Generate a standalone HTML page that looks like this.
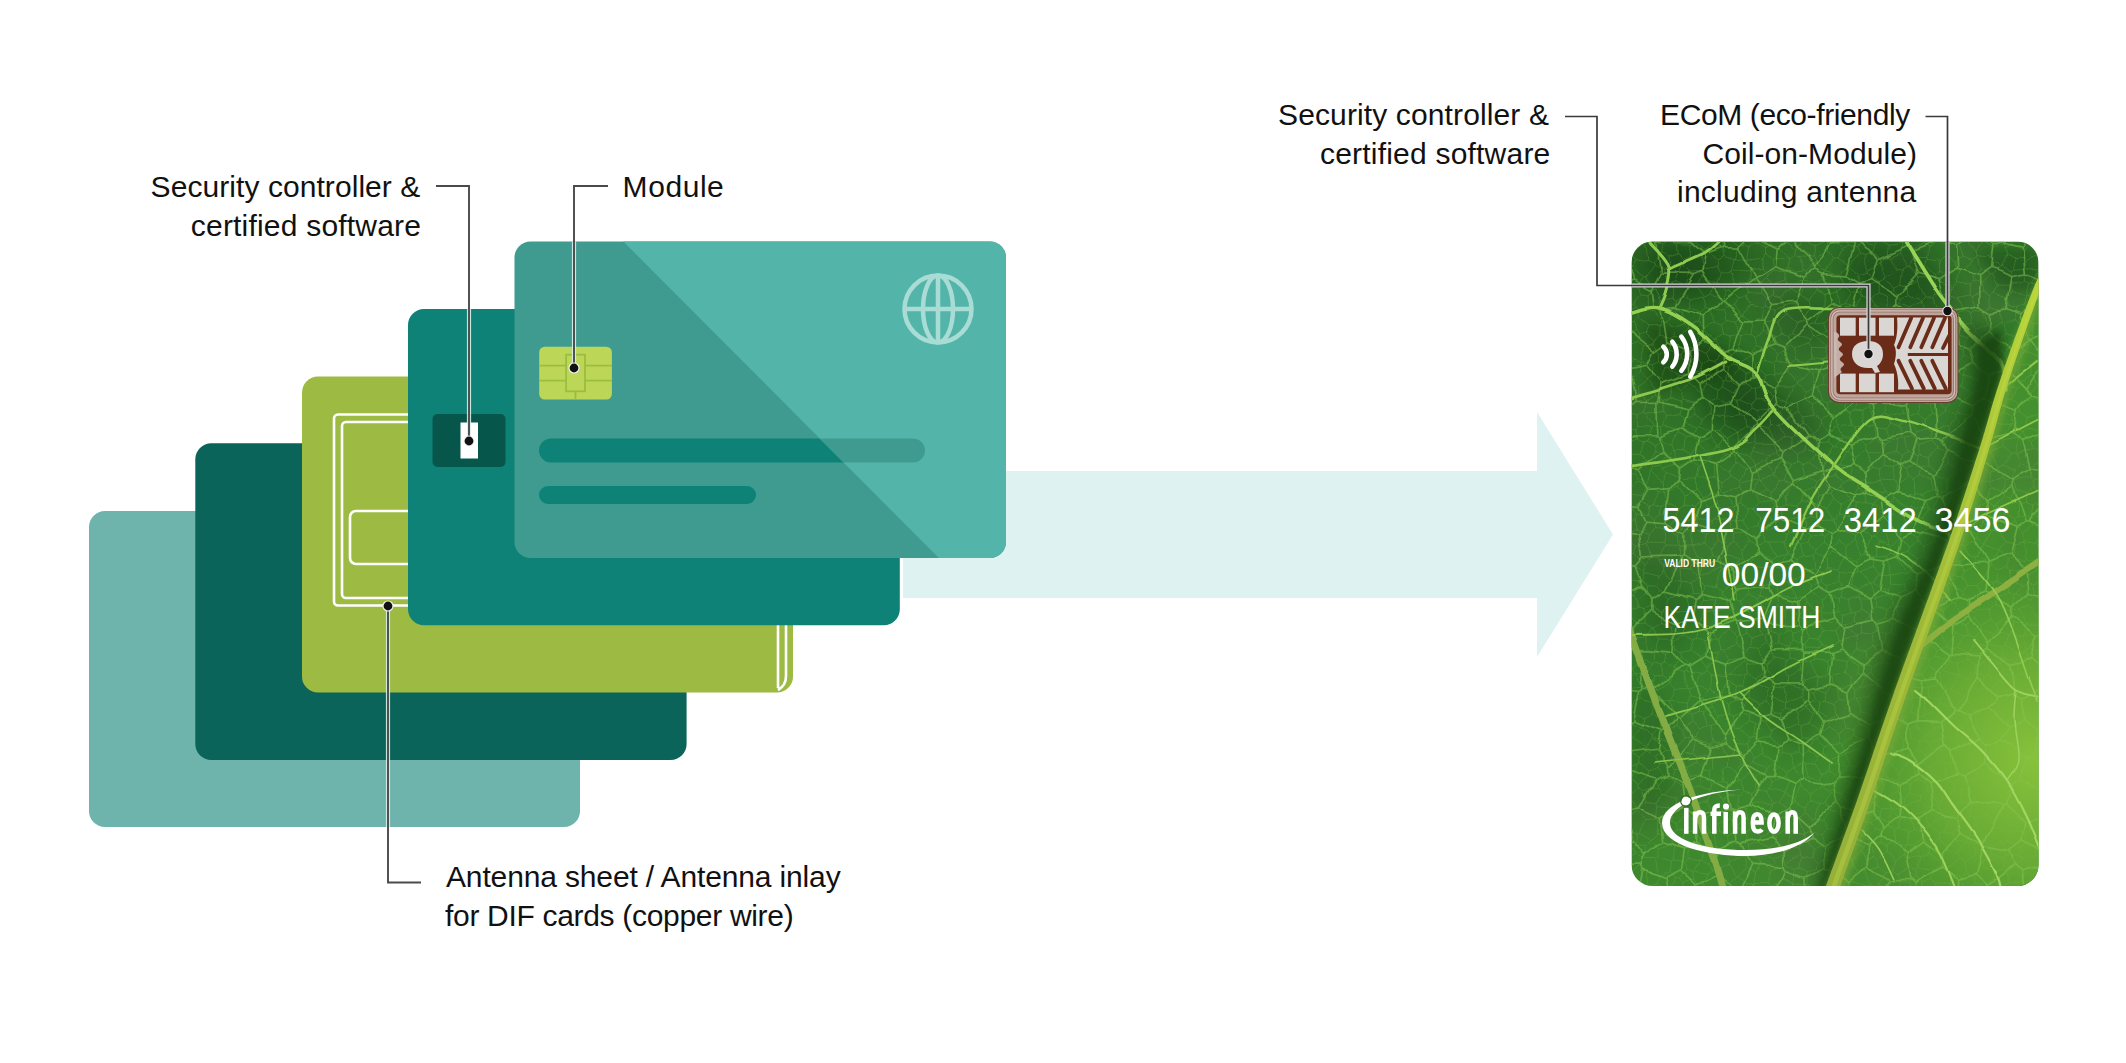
<!DOCTYPE html>
<html><head><meta charset="utf-8">
<style>
html,body{margin:0;padding:0;background:#fff;width:2126px;height:1063px;overflow:hidden}
.t{position:absolute;white-space:nowrap;font-family:"Liberation Sans",sans-serif;font-size:30px;line-height:30px;color:#111;letter-spacing:0px}
.r{text-align:right}
svg{position:absolute;left:0;top:0}
</style></head><body>
<svg width="2126" height="1063" viewBox="0 0 2126 1063">
<defs>
  <clipPath id="topclip"><polygon points="611.9,230 1030,230 1030,570 950.8,570"/></clipPath>
</defs>
<!-- arrow -->
<polygon points="903,471 1537,471 1537,412 1613,534.5 1537,657 1537,598 903,598" fill="#ddf2f1"/>
<!-- card 1 -->
<rect x="89" y="511" width="491" height="316" rx="16" fill="#6eb3ac"/>
<!-- card 2 -->
<rect x="195.3" y="443.3" width="491.3" height="316.7" rx="16" fill="#0a645a"/>
<!-- card 3 green -->
<rect x="302" y="376.5" width="491" height="316" rx="16" fill="#9dba43"/>
<g fill="none" stroke="#fff" stroke-width="2.6">
  <path d="M786,625 V676 a16,16 0 0 1 -8,14"/>
  <path d="M778,625 V688"/>
  <path d="M420,414.5 H338 a4,4 0 0 0 -4,4 V601.5 a4,4 0 0 0 4,4 H420"/>
  <path d="M420,422 H346 a4,4 0 0 0 -4,4 V594 a4,4 0 0 0 4,4 H420"/>
  <path d="M420,511 H356 a6,6 0 0 0 -6,6 V558 a6,6 0 0 0 6,6 H420"/>
</g>
<!-- card 4 teal -->
<rect x="408" y="309" width="491.8" height="316.2" rx="16" fill="#0e8276"/>
<rect x="432.5" y="414" width="73" height="53" rx="5" fill="#07564c"/>
<rect x="460.5" y="422.5" width="17.5" height="36" fill="#fff"/>
<!-- card 5 top -->
<rect x="514.5" y="241.5" width="491.5" height="316.4" rx="16" fill="#3f9b90"/>
<rect x="539" y="438.5" width="386" height="24" rx="12" fill="#0e8276"/>
<rect x="539" y="486" width="217" height="18" rx="9" fill="#0e8276"/>
<g clip-path="url(#topclip)">
  <rect x="514.5" y="241.5" width="491.5" height="316.4" rx="16" fill="#53b5aa"/>
  <rect x="539" y="438.5" width="386" height="24" rx="12" fill="#3f9b90"/>
</g>
<g fill="none" stroke="#a9dcd5" stroke-width="4.5">
  <circle cx="938" cy="309" r="33.5"/>
  <ellipse cx="938" cy="309" rx="15" ry="33.5"/>
  <line x1="938" y1="275.5" x2="938" y2="342.5"/>
  <line x1="904.5" y1="309" x2="971.5" y2="309"/>
</g>
<!-- chip -->
<rect x="539.2" y="346.7" width="72.7" height="52.9" rx="5.5" fill="#bcd658"/>
<g fill="none" stroke="#9dbd3c" stroke-width="1.8">
  <path d="M539.2,365.7 H566.1 M585,365.7 H611.9 M539.2,380.6 H566.1 M585,380.6 H611.9 M575.5,391.3 V399.6"/>
  <rect x="566.1" y="354.7" width="18.9" height="36.6"/>
</g>
<!-- leader lines left -->
<g fill="none" stroke="#d9efeb" stroke-width="4.2" opacity="0.9">
  <path d="M469,309 V441"/>
  <path d="M574,241.5 V368"/>
  <path d="M388,606 V827"/>
</g>
<g fill="none" stroke="#4a4a4a" stroke-width="1.9">
  <path d="M436,186 H469 V441"/>
  <path d="M608,186 H574 V368"/>
  <path d="M388,606 V882.5 H421"/>
</g>
<g fill="#f2f2f2">
  <circle cx="469" cy="441" r="5.6"/>
  <circle cx="574" cy="368" r="5.6"/>
  <circle cx="388" cy="606" r="5.6"/>
</g>
<g fill="#111">
  <circle cx="469" cy="441" r="4.4"/>
  <circle cx="574" cy="368" r="4.4"/>
  <circle cx="388" cy="606" r="4.4"/>
</g>

<!--LEAF-->
<defs>
<clipPath id="cardclip"><rect x="1631.5" y="241.5" width="407" height="644.5" rx="21"/></clipPath>
<filter id="bl14" x="-50%" y="-50%" width="200%" height="200%"><feGaussianBlur stdDeviation="14"/></filter>
<filter id="bl7" x="-50%" y="-50%" width="200%" height="200%"><feGaussianBlur stdDeviation="7"/></filter>
<filter id="bl3" x="-50%" y="-50%" width="200%" height="200%"><feGaussianBlur stdDeviation="3"/></filter>
<filter id="wob" x="-5%" y="-5%" width="110%" height="110%"><feTurbulence type="fractalNoise" baseFrequency="0.035" numOctaves="2" seed="5" result="n"/><feDisplacementMap in="SourceGraphic" in2="n" scale="9" xChannelSelector="R" yChannelSelector="G"/></filter>
<filter id="wob2" x="-5%" y="-5%" width="110%" height="110%"><feTurbulence type="fractalNoise" baseFrequency="0.02" numOctaves="2" seed="9" result="n"/><feDisplacementMap in="SourceGraphic" in2="n" scale="6" xChannelSelector="R" yChannelSelector="G"/></filter>
<filter id="blot" x="0" y="0" width="100%" height="100%"><feTurbulence type="fractalNoise" baseFrequency="0.012" numOctaves="3" seed="21" result="t"/><feColorMatrix in="t" type="matrix" values="0 0 0 0 0.06  0 0 0 0 0.17  0 0 0 0 0.04  -2.4 0 0 0 1.3" result="c"/><feComposite in="c" in2="SourceGraphic" operator="in"/></filter>
<linearGradient id="leafbase" x1="1631" y1="241" x2="2038" y2="886" gradientUnits="userSpaceOnUse">
<stop offset="0" stop-color="#2b6924"/><stop offset="0.45" stop-color="#367f2d"/><stop offset="1" stop-color="#46922f"/>
</linearGradient>
<linearGradient id="midg" x1="0" y1="262" x2="0" y2="895" gradientUnits="userSpaceOnUse">
<stop offset="0" stop-color="#bad83a"/><stop offset="0.3" stop-color="#aac638"/><stop offset="0.6" stop-color="#9db838"/><stop offset="1" stop-color="#94b03a"/>
</linearGradient>
<radialGradient id="lightR" cx="2035" cy="760" r="215" gradientUnits="userSpaceOnUse">
<stop offset="0" stop-color="#88c23a"/><stop offset="0.5" stop-color="#66a934"/><stop offset="1" stop-color="#4f9a31" stop-opacity="0"/>
</radialGradient>
</defs>
<g clip-path="url(#cardclip)">
<rect x="1631.5" y="241.5" width="407" height="644.5" fill="url(#leafbase)"/>
<path d="M2052 262 L2037 289 L2004 382 L1984 450 L1955 540 L1898 700 L1864 800 L1830 895 L2060 895 L2060 262Z" fill="#45902e" filter="url(#bl3)"/>
<rect x="1631.5" y="241.5" width="407" height="644.5" fill="#000" filter="url(#blot)" opacity="0.6"/>
<circle cx="2035" cy="760" r="215" fill="url(#lightR)"/>
<path d="M1640 250 L1700 250 L1730 290 L1690 300 L1650 300Z" fill="#173f12" opacity="0.55" filter="url(#bl14)"/>
<path d="M1850 245 L1920 245 L1960 310 L1900 320 L1840 300Z" fill="#173f12" opacity="0.6" filter="url(#bl14)"/>
<path d="M1700 335 L1756 373 L1776 410 L1745 440 L1700 420 L1690 380Z" fill="#173f12" opacity="0.55" filter="url(#bl14)"/>
<path d="M1975 250 L2038 250 L2038 290 L2000 290Z" fill="#173f12" opacity="0.45" filter="url(#bl7)"/>
<path d="M1640 540 L1700 600 L1680 660 L1640 640Z" fill="#173f12" opacity="0.3" filter="url(#bl14)"/>
<path d="M1632 670 L1665 700 L1670 800 L1632 820Z" fill="#173f12" opacity="0.35" filter="url(#bl14)"/>
<path d="M1730 370 L1800 400 L1830 440 L1780 450 L1730 430Z" fill="#173f12" opacity="0.45" filter="url(#bl14)"/>
<path d="M1645 320 L1695 332 L1745 368 L1725 378 L1690 384 L1650 393Z" fill="#163c10" opacity="0.55" filter="url(#bl7)"/>
<path d="M1640 245 L1760 245 L1740 280 L1660 290Z" fill="#173f12" opacity="0.4" filter="url(#bl14)"/>
<path d="M1760 290 L1830 300 L1840 340 L1790 350Z" fill="#173f12" opacity="0.35" filter="url(#bl14)"/>
<path d="M1760 620 L1830 700 L1800 760 L1740 700Z" fill="#173f12" opacity="0.3" filter="url(#bl14)"/>
<g filter="url(#wob)"><path d="M1622.4 293.5L1634.5 303.1M1619.6 312.2L1636.2 306.6M1636.2 306.6L1634.5 303.1M1648.4 308.8L1639.9 310.8M1648.4 308.8L1648.2 292.8M1639.9 310.8L1636.2 306.6M1648.2 292.8L1642.3 292.1M1642.3 292.1L1634.5 303.1M1611 879.5L1625.7 883.7M1618.4 899.6L1625.7 883.7M1975.7 458L1969.9 444.3M1975.7 458L1973.3 464.6M1958.8 452.5L1965.1 465.1M1958.8 452.5L1967.9 443.8M1967.9 443.8L1969.9 444.3M1965.1 465.1L1973.3 464.6M1958.8 452.5L1947.3 452.2M1947.3 452.2L1946 452.6M1946 452.6L1947.5 463.1M1965.1 465.1L1956.4 469.2M1947.5 463.1L1956.4 469.2M1946.5 479.4L1936 472.5M1946.5 479.4L1956 473.4M1947.5 463.1L1936.4 470.7M1956 473.4L1956.4 469.2M1936.4 470.7L1936 472.5M1620.3 323.2L1633 322.5M1639.9 310.8L1637.2 318.9M1633 322.5L1637.2 318.9M1648.2 292.8L1655.1 288.2M1642.3 292.1L1636.9 284.2M1655.1 288.2L1645.9 276.5M1645.9 276.5L1643.5 276.9M1636.9 284.2L1643.5 276.9M1622.7 292.6L1629.9 285.2M1636.9 284.2L1629.9 285.2M1653.1 363.8L1659.5 360.9M1653.1 363.8L1652.2 376.3M1662.4 378.9L1652.2 376.3M1662.4 378.9L1665.9 365.8M1665.9 365.8L1659.5 360.9M1622.2 384.9L1630.3 382.4M1623 394.3L1630.4 398.8M1630.3 382.4L1637.4 388.2M1637.4 388.2L1637.8 395.2M1630.4 398.8L1637.8 395.2M1630.3 382.4L1632.2 376.9M1646.3 380.4L1646.3 380.7M1646.3 380.4L1638.5 371.2M1637.4 388.2L1646.3 380.7M1638.5 371.2L1632.2 376.9M1639.4 362.9L1653.1 363.8M1639.4 362.9L1639 363.1M1646.3 380.4L1652.2 376.3M1638.5 371.2L1639 363.1M1624.6 493.7L1609.1 498.1M1624.6 493.7L1625.5 494.2M1614.5 515.1L1627.1 503.4M1627.1 503.4L1625.5 494.2M1662.4 378.9L1663.5 382.1M1646.3 380.7L1655.7 393.3M1663.5 382.1L1655.7 393.3M1647.7 400.4L1637.8 395.2M1647.7 400.4L1655.5 396.4M1655.7 393.3L1655.5 396.4M1765.2 376.2L1756.5 368.3M1765.2 376.2L1774.3 374.9M1756.7 364.6L1756.5 368.3M1756.7 364.6L1767.3 358.5M1774.3 374.9L1774.9 374.2M1774.9 374.2L1774.4 361.4M1767.3 358.5L1774.4 361.4M2053.7 723.4L2042.6 730.1M2042.6 734.8L2042.6 730.1M2042.6 734.8L2054.3 744.4M2053.8 896.9L2043 891.6M2037.4 896.3L2043 891.6M2046.7 794.8L2042.3 789.5M2046.8 779.6L2044.8 781.1M2044.8 781.1L2042.3 789.5M1915.8 877.5L1924 883.5M1915.8 877.5L1908.8 882.1M1908.8 882.1L1914 897.2M1923 894.8L1924 883.5M1753.8 803.4L1746.2 809.7M1753.8 803.4L1754.3 803.8M1746.2 809.7L1746.3 817.6M1754.3 803.8L1762.1 818.7M1762.1 818.7L1757 821.6M1746.3 817.6L1757 821.6M1770 830.4L1760.7 835.4M1770 830.4L1768 819.6M1760.7 835.4L1754.2 828.5M1768 819.6L1762.1 818.7M1754.2 828.5L1757 821.6M1623.5 865.9L1632.3 874.1M1623.5 865.9L1624.1 861.6M1624.1 861.6L1635.4 854.1M1632.3 874.1L1641 867.3M1641 867.3L1643.4 859.3M1635.4 854.1L1643.4 859.3M1641 867.3L1646.6 871.6M1646.6 871.6L1657.9 874.3M1657.9 874.3L1655.5 858.5M1655.5 858.5L1644.9 858.5M1643.4 859.3L1644.9 858.5M1697.8 803.9L1698.6 820.4M1697.8 803.9L1706.4 801.9M1706.4 801.9L1712.5 813.8M1712.5 813.8L1701.8 820.1M1701.8 820.1L1698.6 820.4M1718.6 886.6L1714.6 890.5M1718.6 886.6L1716.7 869.8M1716.7 869.8L1713.3 868.7M1713.3 868.7L1707.9 872.3M1714.6 890.5L1704.1 883.1M1707.9 872.3L1704.1 883.1M1709.8 862.5L1719.4 850.3M1709.8 862.5L1702.3 857.8M1719.4 850.3L1715.1 847.8M1715.1 847.8L1703.1 849.6M1702.3 857.8L1703.1 849.6M1671.6 861.1L1657.8 857M1671.6 861.1L1673.1 860M1657.8 857L1659.3 847.7M1673.1 860L1674.6 847M1674.6 847L1672.1 843.6M1672.1 843.6L1659.3 847.7M1624.6 493.7L1620 483.9M2036.6 355L2043.3 342.4M2036.6 355L2023.3 349.7M2043.3 342.4L2034.8 336.8M2023.3 349.7L2034.8 336.8M1983.1 389.4L1983 398.2M1983.1 389.4L1980.8 387.7M1980.8 387.7L1969.4 391.2M1969.4 391.2L1964.5 401.6M1983 398.2L1973.7 406.2M1964.5 401.6L1973.7 406.2M1982 413.6L1974.2 410.9M1982 413.6L1989.4 407.1M1983 398.2L1989.4 407.1M1973.7 406.2L1974.2 410.9M1967.9 443.8L1961.7 438.3M1947.3 452.2L1960.1 438.6M1961.7 438.3L1960.1 438.6M2031.9 513.9L2028.9 516.9M2031.9 513.9L2046 518.3M2032.7 526L2028.9 516.9M2032.7 526L2040.6 527.3M2040.6 527.3L2046 518.3M2050.2 507.9L2041.1 500.6M2031.9 513.9L2032.8 504.2M2032.8 504.2L2041.1 500.6M2050.7 515.5L2046 518.3M2032.8 504.2L2025.5 501.1M2041.1 500.6L2041.4 495.3M2025.8 491.6L2025.5 501.1M2025.8 491.6L2032.8 486.1M2041.4 495.3L2032.8 486.1M1903.7 585.3L1904 591.2M1903.7 585.3L1890.4 584M1904 591.2L1893 598M1888.4 589.5L1890.4 584M1888.4 589.5L1888.8 593.6M1888.8 593.6L1893 598M1945.2 492.2L1941.7 492.2M1945.2 492.2L1946.5 479.4M1931.9 477.9L1936 472.5M1931.9 477.9L1934.2 488.3M1934.2 488.3L1941.7 492.2M1973.5 464.9L1973.1 480.7M1973.5 464.9L1973.3 464.6M1956 473.4L1960.6 484.2M1960.6 484.2L1973.1 480.7M1973.5 464.9L1988.6 471.6M1988.6 471.6L1987.7 483.2M1987.7 483.2L1975.5 483M1973.1 480.7L1975.5 483M1934.7 427.9L1947.6 426.7M1934.7 427.9L1932.4 429.5M1932.4 429.5L1934.1 439.1M1949.6 435.8L1947.6 426.7M1949.6 435.8L1939.6 446.4M1934.1 439.1L1939.6 446.4M1946 452.6L1939.8 447.6M1949.6 435.8L1960.1 438.6M1939.8 447.6L1939.6 446.4M1933.7 570.4L1934.9 587.6M1933.7 570.4L1923.6 574M1934.9 587.6L1933.9 588.9M1923.6 574L1922.5 582.8M1933.9 588.9L1922.5 582.8M1923.6 574L1909.2 571.5M1908.3 575.4L1916.4 586.8M1908.3 575.4L1908.1 572.2M1909.2 571.5L1908.1 572.2M1922.5 582.8L1916.4 586.8M1909.9 593.8L1904 591.2M1909.9 593.8L1916.3 590.6M1903.7 585.3L1908.3 575.4M1916.3 590.6L1916.4 586.8M1890.4 584L1890.5 575.2M1908.1 572.2L1906.2 571.7M1906.2 571.7L1890.5 575.2M1888.4 589.5L1873.4 582.3M1873.4 582.3L1878.8 574M1878.8 574L1890 574.8M1890.5 575.2L1890 574.8M1909.2 571.5L1915.1 558.7M1894.9 554.4L1906.2 571.7M1894.9 554.4L1907.3 551.6M1907.3 551.6L1915.1 558.7M1875.1 567.4L1861.5 572.6M1875.1 567.4L1875.8 557.9M1875.8 557.9L1866.9 554.1M1866.9 554.1L1863 554.6M1863 554.6L1856.9 559.8M1856.9 559.8L1857.7 571.1M1857.7 571.1L1861.5 572.6M1949.6 521L1939.3 520.3M1949.6 521L1950.2 519.7M1946.2 508L1950.2 519.7M1946.2 508L1932.8 509.3M1939.3 520.3L1932.8 509.3M1934.2 488.3L1923.4 494.4M1941.7 492.2L1932.1 508.9M1923.4 494.4L1929.2 508.2M1929.2 508.2L1929.8 508.8M1929.8 508.8L1932.1 508.9M1613.8 276.7L1625.7 269.7M1618.1 258.1L1625.7 269.7M1629.9 285.2L1626 269.8M1625.7 269.7L1626 269.8M1643.5 276.9L1632.6 267.5M1626 269.8L1632.6 267.5M1616.4 330.2L1624.8 339.5M1633 322.5L1634.6 331.2M1634.6 331.2L1624.8 339.5M1624.6 349.3L1618.6 351.1M1624.6 349.3L1626.6 345.7M1626.6 345.7L1624.8 339.5M1639.4 362.9L1643.4 347.7M1624.6 349.3L1632.8 361.4M1639 363.1L1632.8 361.4M1626.6 345.7L1637.8 343.6M1643.4 347.7L1637.8 343.6M1634.6 331.2L1638.4 335.8M1637.8 343.6L1638.4 335.8M1616.8 410.6L1624.3 414.4M1624.3 414.4L1621.3 424.3M1630.4 398.8L1628.1 413M1624.3 414.4L1628.1 413M1644.6 413L1647.7 400.4M1644.6 413L1637 415.9M1628.1 413L1637 415.9M1644.6 413L1646.6 414.4M1646.6 414.4L1654 425.7M1637 415.9L1637.6 427.5M1637.6 427.5L1651.3 428M1654 425.7L1651.3 428M1613.2 536.3L1626 530.1M1617.4 519.1L1626 530.1M1627.1 503.4L1634 508.3M1617.4 519.1L1634.4 518.1M1634.4 518.1L1636.1 514.3M1636.1 514.3L1634 508.3M1615.7 568.7L1624.1 572.5M1621 586.4L1627.6 580.4M1624.1 572.5L1627.6 580.4M1614.5 565.4L1626.6 557M1617 544.9L1626.6 557M1631.6 566.4L1624.1 572.5M1631.6 566.4L1628.2 557.2M1626.6 557L1628.2 557.2M1747 373.5L1756.5 368.3M1747 373.5L1739.5 368.4M1756.7 364.6L1750.7 355.2M1739.5 368.4L1737.2 363.6M1737.2 363.6L1750.7 355.2M1675.8 310.6L1665.5 321.4M1675.8 310.6L1657.7 306.7M1654.6 309.9L1660.8 321.9M1654.6 309.9L1657.7 306.7M1660.8 321.9L1665.5 321.4M1648.4 308.8L1654.6 309.9M1655.1 288.2L1656.1 288.3M1661.1 300.4L1656.1 288.3M1661.1 300.4L1657.7 306.7M1679.2 353.9L1684.8 347M1679.2 353.9L1679 356.5M1684.8 347L1693.6 346.9M1679 356.5L1687 363.6M1687 363.6L1694.2 356.7M1694.2 356.7L1693.6 346.9M1646.6 414.4L1663.9 411.4M1655.5 396.4L1661.9 400.3M1661.9 400.3L1663.9 411.4M1767.3 358.5L1763.6 347.2M1763.6 347.2L1769.6 344.5M1769.6 344.5L1778.8 352.9M1774.4 361.4L1777 358.9M1777 358.9L1778.8 352.9M1769.6 344.5L1774 336.8M1787.7 336.7L1790.3 345.4M1787.7 336.7L1779.9 334.3M1778.8 352.9L1790.3 345.4M1774 336.8L1779.9 334.3M1775.4 311.4L1783.9 308.5M1775.4 311.4L1772.2 321.2M1783.9 308.5L1786.6 315.7M1786.6 315.7L1777 324.6M1777 324.6L1772.2 321.2M1747 373.5L1746.4 383.7M1746.4 383.7L1738.7 385.1M1739.5 368.4L1732 379.2M1738.7 385.1L1732 379.2M1751.2 456.3L1755.5 466.1M1751.2 456.3L1738.1 452.7M1744.1 468.8L1734.7 462M1744.1 468.8L1755.4 466.5M1755.4 466.5L1755.5 466.1M1734.7 462L1735 454.2M1738.1 452.7L1735 454.2M2035.4 751L2031.1 755.2M2035.4 751L2042.7 753.5M2042.7 753.5L2044.3 766.7M2031.1 755.2L2030 764.2M2044.3 766.7L2030.4 764.8M2030.4 764.8L2030 764.2M2042.6 734.8L2035.2 746.4M2035.2 746.4L2035.4 751M2052.8 752.8L2042.7 753.5M2047.5 769.8L2044.3 766.7M2032.3 775.1L2044.8 781.1M2032.3 775.1L2030.4 764.8M2053.2 717L2041.2 708.2M2054.7 697.9L2041.1 707.6M2041.2 708.2L2041.1 707.6M2020.6 752.5L2012.4 755.2M2020.6 752.5L2020.1 742M2012.4 755.2L2005.7 749.3M2005.7 749.3L2005.3 741.4M2005.3 741.4L2012.4 738M2012.4 738L2020.1 742M2035.2 746.4L2026.7 739.9M2020.6 752.5L2031.1 755.2M2020.1 742L2026.7 739.9M2033.3 895.6L2023.3 883.7M2020.2 882.9L2023.3 883.7M2020.2 882.9L2018.5 884.1M2018.5 884.1L2015.6 899M2043.6 885.1L2036 878.8M2043.6 885.1L2052 879.1M2051.5 875.2L2040.9 868M2036 878.8L2037.2 869.7M2040.9 868L2037.2 869.7M2043 891.6L2043.6 885.1M2023.3 883.7L2036 878.8M2046 858.8L2051.7 855.4M2046 858.8L2040.9 868M2042.1 842.6L2051.5 853.2M2042.1 842.6L2035.3 845.4M2046 858.8L2035.5 855.6M2035.5 855.6L2035.3 845.4M2012.4 755.2L2012.4 762.8M2030 764.2L2019.1 767.2M2012.4 762.8L2019.1 767.2M2032.3 775.1L2028.9 777.6M2042.3 789.5L2034.5 793.3M2034.5 793.3L2024.1 793.5M2028.9 777.6L2024.1 793.5M2019.1 767.2L2018.3 775.8M2028.9 777.6L2018.3 775.8M1896.9 895.6L1895.8 889.3M1877 898.2L1876.5 886.4M1876.5 886.4L1878.9 885M1878.9 885L1895.8 889.3M1908.8 882.1L1900.4 882.1M1900.4 882.1L1895.8 889.3M1916.3 869.8L1918.5 867.9M1916.3 869.8L1915.8 877.5M1918.5 867.9L1935.3 870.5M1924 883.5L1931.5 880.7M1935.3 870.5L1931.5 880.7M1938.6 896.4L1936.3 885.3M1931.5 880.7L1936.3 885.3M1691.4 802.5L1697.8 803.9M1691.4 802.5L1687.7 789.5M1687.7 789.5L1700.9 787.9M1706.4 801.9L1710.2 792.3M1700.9 787.9L1710.2 792.3M1712.8 813.9L1712.5 813.8M1712.8 813.9L1724.2 804.8M1724.2 804.8L1723.4 797.8M1723.4 797.8L1710.9 792M1710.2 792.3L1710.9 792M1687.7 789.5L1685.3 787.8M1700.9 787.9L1700.7 774.5M1700.7 774.5L1689.4 776.4M1689.4 776.4L1685.3 787.8M1724.2 804.8L1732.3 810M1723.4 797.8L1728.3 794.5M1732.3 810L1736.6 807.2M1736.6 807.2L1737.9 795.1M1728.3 794.5L1737.9 795.1M1734.1 768.9L1725.5 765.7M1734.1 768.9L1741.3 762.7M1740.4 758.1L1741.3 762.7M1740.4 758.1L1730.9 752.3M1725.5 765.7L1725.7 754.4M1730.9 752.3L1725.7 754.4M1746.9 749.7L1740.4 758.1M1746.9 749.7L1746.5 744.3M1730.9 752.3L1736.1 743.7M1746.5 744.3L1736.1 743.7M1725.5 754.2L1725.7 754.4M1725.5 754.2L1719.6 742.3M1727.6 733.8L1719.6 742.3M1727.6 733.8L1729.5 733.7M1736.1 743.7L1729.5 733.7M1667.7 654.6L1675.7 648.6M1667.7 654.6L1655.7 649.2M1655.7 649.2L1659.6 638.9M1659.6 638.9L1672.7 639.3M1675.7 648.6L1674.4 640.7M1674.4 640.7L1672.7 639.3M1677.4 622.1L1670.3 625.4M1677.4 622.1L1673.6 609.2M1670.3 625.4L1661.6 621.4M1661.6 621.4L1661.7 611M1661.7 611L1668.2 605.8M1673.6 609.2L1668.2 605.8M1689.7 665L1681.5 656.3M1689.7 665L1685.7 672.2M1681.5 656.3L1675.8 669.7M1684.6 673L1685.7 672.2M1684.6 673L1676.1 670.5M1676.1 670.5L1675.8 669.7M1706.8 672.7L1701.4 675.5M1706.8 672.7L1706.6 669.9M1701.4 675.5L1685.7 672.2M1706.6 669.9L1699.6 660.5M1699.6 660.5L1689.7 665M1680.7 651.6L1681.5 656.3M1680.7 651.6L1675.7 648.6M1667.7 654.6L1666.4 662.6M1666.4 662.6L1675.8 669.7M1854.4 574L1839.4 572.2M1854.4 574L1852.6 585.5M1852.6 585.5L1844 588M1839.4 572.2L1838.6 581.8M1844 588L1838.6 581.8M1961.7 697.4L1970.9 703.6M1961.7 697.4L1961.7 697M1961.7 697L1970.6 685.3M1978.5 688.9L1970.6 685.3M1978.5 688.9L1980.6 696M1970.9 703.6L1980.6 696M1737.2 897.8L1747.3 883.6M1747.3 883.6L1753.6 884M1753.6 884L1753.9 891.8M1752.1 894.3L1753.9 891.8M1780.1 297.2L1784.4 307M1780.1 297.2L1772.6 294.7M1784.4 307L1783.9 308.5M1775.4 311.4L1763 305.7M1772.6 294.7L1765.2 298.4M1763 305.7L1765.2 298.4M1859.6 345.9L1846.5 345.4M1859.6 345.9L1863.4 337.7M1857.8 330L1863.4 337.7M1857.8 330L1845.3 338.2M1845.3 338.2L1846.5 345.4M1857 322.2L1861.2 318.5M1857 322.2L1857.8 330M1861.2 318.5L1865.7 317.9M1865.7 317.9L1876.2 325.4M1873.5 336.7L1876.2 325.4M1873.5 336.7L1863.4 337.7M1838.3 331.5L1833 333.7M1838.3 331.5L1845.3 338.2M1833 333.7L1829.4 345.5M1846.5 345.4L1844 348.8M1844 348.8L1829.4 345.5M2049.3 276.9L2041.7 269.9M2041.7 269.9L2041.6 269.4M2041.6 269.4L2044.1 261.6M2051 258L2044.1 261.6M1783.2 897.2L1771.9 886.4M1771.9 886.4L1763.4 901.9M1753.9 891.8L1763.4 901.9M1770 830.4L1776.3 836.3M1760.7 835.4L1759 841.3M1775.7 843.5L1776.3 836.3M1775.7 843.5L1770.2 846.4M1770.2 846.4L1759 841.3M1754.1 883.6L1768.8 883.4M1754.1 883.6L1753.6 884M1771.9 886.4L1771.7 885.6M1768.8 883.4L1771.7 885.6M1746.2 809.7L1736.6 807.2M1746.3 817.6L1738.9 824.1M1732.3 810L1731.7 816M1738.9 824.1L1731.7 816M1712.8 813.9L1719.3 821.5M1731.7 816L1719.3 821.5M1710.9 833.7L1713.1 833.7M1710.9 833.7L1701.8 820.1M1713.1 833.7L1719.6 830.1M1719.3 821.5L1719.6 830.1M1625.7 883.7L1631.6 881.1M1631.6 881.1L1632.3 874.1M1636.5 844.3L1646.7 846.1M1636.5 844.3L1637.6 832.8M1637.6 832.8L1640.4 832.3M1640.4 832.3L1652 838.8M1652 838.8L1646.7 846.1M1633.4 849.3L1635.4 854.1M1633.4 849.3L1636.5 844.3M1644.9 858.5L1646.7 846.1M1655.5 858.5L1657.8 857M1652.2 838.8L1659.3 847.7M1652.2 838.8L1652 838.8M1691.4 802.5L1684.8 810.1M1696.3 821.5L1684.8 811.9M1696.3 821.5L1698.6 820.4M1684.8 810.1L1684.8 811.9M1627.9 822.7L1630.5 830M1627.9 822.7L1630 817.6M1630.5 830L1637.6 832.8M1640.4 832.3L1647.2 820.5M1630 817.6L1638.5 811.3M1638.5 811.3L1647.2 820.5M1654.9 755.7L1665.1 748.3M1654.9 755.7L1659.5 763.6M1659.5 763.6L1669.2 760.7M1669.2 760.7L1675.1 749.4M1665.1 748.3L1675.1 749.4M1654.9 755.7L1646.1 750.7M1653.2 738.2L1654.5 739M1653.2 738.2L1646.3 747.7M1646.1 750.7L1646.3 747.7M1665.1 748.3L1654.5 739M1706.8 672.7L1710.4 676.7M1710.4 676.7L1709.9 688.6M1709.9 688.6L1707.5 690.2M1701.4 675.5L1694.8 684.3M1707.5 690.2L1694.8 684.3M1727.6 733.8L1715.8 723.5M1719.6 742.3L1713.8 742.1M1715.8 723.5L1711.3 725.4M1711.3 725.4L1713.8 742.1M1734.7 637.6L1735.6 645.3M1734.7 637.6L1728.9 631.7M1735.6 645.3L1723.6 650.4M1723.6 650.4L1719.2 649.4M1719.2 649.4L1716.7 639.1M1728.9 631.7L1716.7 639.1M1659.6 638.9L1653.1 629.5M1672.7 639.3L1670.3 625.4M1661.6 621.4L1653.1 628.6M1653.1 629.5L1653.1 628.6M1624.5 634.2L1622.7 627.2M1624.5 634.2L1620.6 636.2M1653.1 629.5L1647 636.8M1653.1 628.6L1645.1 624M1647 636.8L1633 638M1633 638L1631.3 635.4M1631.3 635.4L1637.4 625.6M1637.4 625.6L1645.1 624M1624.5 634.2L1631.3 635.4M1622.7 627.2L1629.7 615.9M1637.4 625.6L1629.7 615.9M1661.7 611L1650.7 606.5M1645.1 624L1645.1 608.6M1650.7 606.5L1645.1 608.6M1629.7 615.9L1628.9 613.1M1628.9 613.1L1640.4 607.1M1645.1 608.6L1640.4 607.1M1714.6 890.5L1714.1 892.9M1693.6 893.6L1699 883.2M1693.6 893.6L1706.5 902.1M1704.1 883.1L1699 883.2M1706.5 902.1L1714.1 892.9M1718.6 886.6L1728.9 885.7M1735.6 897.2L1728.9 885.7M1714.1 892.9L1725.4 902.2M1693.6 893.6L1687.3 894.9M1657.9 874.3L1658.8 875.4M1671.6 861.1L1670.1 871.7M1658.8 875.4L1670.1 871.7M1699 883.2L1695.9 879.8M1687.3 894.9L1684.3 893.7M1684.3 893.7L1682.9 883M1695.9 879.8L1682.9 883M1701 858.6L1688.2 857.5M1701 858.6L1696 870.3M1687.8 869.3L1694.6 871.3M1687.8 869.3L1684.8 861.6M1684.8 861.6L1688.2 857.5M1696 870.3L1694.6 871.3M1713.3 868.7L1709.8 862.5M1707.9 872.3L1696 870.3M1702.3 857.8L1701 858.6M1695.9 879.8L1694.6 871.3M1679.5 878.2L1682.9 883M1679.5 878.2L1687.8 869.3M1673.1 860L1684.8 861.6M1670.1 871.7L1675.8 877.5M1675.8 877.5L1679.5 878.2M1698.2 839.8L1698 841.9M1698.2 839.8L1692 831.3M1698 841.9L1687.7 848.8M1692 831.3L1685.3 831.5M1685.3 831.5L1683.4 847.1M1683.4 847.1L1687.7 848.8M1715.1 847.8L1713.1 833.7M1710.9 833.7L1698.2 839.8M1703.1 849.6L1698 841.9M1696.3 821.5L1692 831.3M1688.2 857.5L1687.7 848.8M1674.6 847L1683.4 847.1M1676.8 829.5L1674.9 823.5M1676.8 829.5L1672.2 835.8M1672.2 835.8L1657.4 833.3M1671.2 821.2L1674.9 823.5M1671.2 821.2L1657.3 820.9M1657.3 820.9L1657.4 833.3M1684.8 811.9L1674.9 823.5M1685.3 831.5L1676.8 829.5M1672.1 843.6L1672.2 835.8M1652.2 838.8L1657.4 833.3M1656.4 820L1647.2 820.5M1656.4 820L1657.3 820.9M1773.2 657.7L1784.5 660.6M1773.2 657.7L1771.5 647.5M1784.5 660.6L1789 657.9M1789 648.6L1789 657.9M1789 648.6L1777.6 643.4M1777.6 643.4L1771.5 647.5M1777.1 584.7L1784.2 581.1M1777.1 584.7L1778.3 594.3M1778.3 594.3L1796.8 596.9M1784.2 581.1L1790.9 582.7M1796.8 596.9L1790.9 582.7M1737 400.2L1739.6 414.9M1737 400.2L1739.7 399.9M1739.6 414.9L1744.5 417.4M1739.7 399.9L1751.7 405.4M1751.7 405.4L1752.1 410.1M1744.5 417.4L1752.1 410.1M1771.8 424.6L1768.3 428M1771.8 424.6L1779.9 424.6M1779.9 424.6L1785.3 435.2M1785.3 435.2L1772.4 443.3M1772.4 443.3L1768.3 428M1771.8 424.6L1770.5 411.4M1770.5 411.4L1769.4 409.8M1769.4 409.8L1757.6 412.4M1757.6 412.4L1761.1 427.5M1768.3 428L1761.1 427.5M1774.9 374.2L1788.6 372.2M1777 358.9L1792.4 363M1788.6 372.2L1792.4 363M1787.7 336.7L1791.1 333M1786.6 315.7L1796.6 323.3M1779.9 334.3L1777 324.6M1796.6 323.3L1791.1 333M2045 342L2055.1 351.9M2045 342L2053.6 332.1M2016.9 359.9L2022.6 349.7M2016.9 359.9L2006.8 359.2M2006.8 359.2L2005.6 354.8M2022.6 349.7L2014.5 339.1M2005.6 354.8L2014.5 339.1M2017.7 333.7L2034.8 336.7M2017.7 333.7L2013.9 337.2M2023.3 349.7L2022.6 349.7M2034.8 336.8L2034.8 336.7M2013.9 337.2L2014.5 339.1M2016.9 359.9L2018.6 362.7M2018.6 362.7L2030.3 365.3M2036.6 355L2037.5 357.7M2030.3 365.3L2037.5 357.7M2043.3 342.4L2045 342M2052.5 359.2L2046.4 363.7M2037.5 357.7L2046.4 363.7M2000 349.1L2005.6 354.8M2000 349.1L2001.3 337.4M2013.9 337.2L2005.6 334.9M2001.3 337.4L2005.6 334.9M2035.3 322.9L2030.8 320.4M2035.3 322.9L2042.1 321.5M2042.1 321.5L2046.3 310.1M2030.8 320.4L2029.8 313.8M2029.8 313.8L2039.7 303.7M2046.3 310.1L2039.7 303.7M2017.7 333.7L2021.2 324.4M2034.8 336.7L2035.3 322.9M2021.2 324.4L2030.8 320.4M2052.2 328.1L2042.1 321.5M2053.2 309.1L2046.3 310.1M1957.1 415.1L1969.7 417.4M1957.1 415.1L1954.3 416.6M1954.3 416.6L1953.8 420M1953.8 420L1962.3 431.2M1962.3 431.2L1973.6 424.8M1973.6 424.8L1969.7 417.4M1964.5 401.6L1963.2 402.1M1963.2 402.1L1957.1 415.1M1974.2 410.9L1969.7 417.4M1934.7 427.9L1938.1 415.6M1947.6 426.7L1953.8 420M1945.9 410.2L1938.1 415.6M1945.9 410.2L1954.3 416.6M1961.7 438.3L1962.3 431.2M1945.5 408.8L1938.9 401.8M1945.5 408.8L1954.5 396.4M1938.9 401.8L1940.2 390.1M1940.2 390.1L1945.9 388.2M1945.9 388.2L1952.3 390.1M1952.3 390.1L1954.5 396.4M1945.9 410.2L1945.5 408.8M1930.4 404.2L1931.9 413.2M1930.4 404.2L1938.9 401.8M1938.1 415.6L1931.9 413.2M1963.2 402.1L1954.5 396.4M1932.4 385.8L1940.2 390.1M1932.4 385.8L1921.7 395.4M1921.7 395.4L1920.1 399.6M1930.4 404.2L1921 401.9M1920.1 399.6L1921 401.9M1947.4 374.3L1938.2 369.1M1947.4 374.3L1945.9 388.2M1932.4 385.8L1930.1 379.1M1938.2 369.1L1930.1 379.1M1969.4 391.2L1959.5 385.3M1959.5 385.3L1952.3 390.1M1968.4 609L1977 612.6M1968.4 609L1967.7 598.2M1981.3 609.6L1977 612.6M1981.3 609.6L1978.9 597.7M1967.7 598.2L1978.9 597.7M1933.9 588.9L1932.8 591.8M1916.3 590.6L1923.2 595.8M1923.2 595.8L1932.8 591.8M1998.7 680.7L1989.3 675.2M1998.7 680.7L1992.6 687.3M1992.6 687.3L1982.4 687.1M1982.4 687.1L1985.1 675.4M1985.1 675.4L1989.3 675.2M1990.4 661.8L1989.3 675.2M1990.4 661.8L2000.8 663.5M1999.3 680.6L1998.7 680.7M1999.3 680.6L2005.1 674.8M2000.8 663.5L2005.1 674.8M1998.6 704.3L1991.9 701.5M1998.6 704.3L2007.5 698.7M1991.9 701.5L1992.6 687.3M1999.3 680.6L2007.2 694.4M2007.5 698.7L2007.2 694.4M1991.9 701.5L1988.9 702.1M1978.5 688.9L1982.4 687.1M1980.6 696L1988.9 702.1M1975.8 671.8L1985.1 675.4M1975.8 671.8L1969.6 680.2M1969.6 680.2L1970.6 685.3M1948.9 585.3L1962.5 590.1M1948.9 585.3L1950.2 573.1M1950.2 573.1L1963.1 575.3M1962.5 590.1L1967.6 583.7M1963.1 575.3L1967.6 583.7M2050.6 641.9L2044.2 652.8M2049.4 637.3L2043.4 632.4M2030.3 648.3L2044.2 652.8M2030.3 648.3L2041 634.2M2043.4 632.4L2041 634.2M2027.4 648.8L2030.3 648.3M2027.4 648.8L2022.2 637.4M2022.2 637.4L2022.7 636.6M2022.7 636.6L2041 634.2M2044.2 652.8L2044.8 654.8M2053.3 659.2L2044.8 654.8M2041.3 624.8L2056.1 618.4M2041.3 624.8L2043.4 632.4M2041.3 624.8L2039.5 623M2047.2 606.9L2039 616.3M2039.5 623L2039 616.3M2025.1 559L2023.5 542.9M2025.1 559L2023.9 560.7M2023.9 560.7L2011.9 556.6M2011.9 556.6L2014.8 544.7M2014.8 544.7L2023.5 542.9M2022.4 568.8L2010.6 570.4M2022.4 568.8L2023.9 560.7M2006 560.7L2006.4 566.6M2006 560.7L2011.9 556.6M2010.6 570.4L2006.4 566.6M2028.9 516.9L2018.2 517.4M2025.5 501.1L2018.7 503.8M2018.2 517.4L2018.7 503.8M2004.7 494.2L1993.6 505.8M2004.7 494.2L2010.6 497.7M2010.6 497.7L2011.7 500M1993.6 505.8L2005.7 507.8M2005.7 507.8L2011.7 500M2018.1 488.2L2010.6 497.7M2018.1 488.2L2025.8 491.6M2011.7 500L2018.7 503.8M1989.2 563.4L1997 551.5M1989.2 563.4L1976 557.4M1976 557.4L1984.6 544.4M1984.6 544.4L1996.8 550.7M1997 551.5L1996.8 550.7M2006 560.7L1997 551.5M2005.2 541.9L2014.8 544.7M2005.2 541.9L1996.8 550.7M2046.8 581.4L2044.7 570.9M2046.8 581.4L2032.5 586.5M2044.7 570.9L2036.1 570.6M2036.1 570.6L2027.9 575.4M2027.9 575.4L2028.1 582.7M2032.5 586.5L2028.1 582.7M2049.1 564.9L2044.7 570.9M2034.8 596.5L2046.8 599.6M2034.8 596.5L2032.5 586.5M2035.3 558.9L2043.6 553.6M2035.3 558.9L2036.1 570.6M2043.6 553.6L2050 560.6M2022.4 568.8L2027.9 575.4M2035.3 558.9L2025.1 559M2023.3 584.8L2009.3 579M2023.3 584.8L2028.1 582.7M2010.6 570.4L2009.3 579M1909.9 593.8L1909.5 606.6M1920.9 606.2L1923.2 595.8M1920.9 606.2L1913 608.9M1909.5 606.6L1913 608.9M1873.4 582.3L1870.5 583.8M1888.8 593.6L1875 597.8M1875 597.8L1870.5 583.8M1854.4 574L1857.7 571.1M1852.6 585.5L1858.7 590.4M1861.5 572.6L1870.1 583.7M1858.7 590.4L1870.1 583.7M1878.8 574L1875.1 567.4M1870.1 583.7L1870.5 583.8M1961.7 697L1950.2 689M1969.6 680.2L1959.9 676.2M1950.2 689L1959.5 676.3M1959.9 676.2L1959.5 676.3M1911.4 699.5L1912.1 687.7M1911.4 699.5L1923.1 699.7M1923.1 699.7L1927.8 696.7M1927.8 696.7L1927.3 686.7M1912.1 687.7L1927.3 686.7M1910.5 700.2L1905.2 700M1910.5 700.2L1911.4 699.5M1905.2 700L1898.5 689.8M1898.5 689.8L1908.7 679.9M1912.1 687.7L1908.7 679.9M1929 643.3L1923.2 648.7M1929 643.3L1929.5 640.7M1923.2 648.7L1919.5 648M1929.5 640.7L1923.1 637M1923.1 637L1914.4 640M1919.5 648L1914.4 640M1927.3 659.9L1923.2 648.7M1927.3 659.9L1912.2 659.5M1912.2 659.5L1910 656.3M1919.5 648L1910 656.3M1990.3 488.9L1987.9 483.6M1990.3 488.9L2002.5 490M1987.9 483.6L2004.4 476.6M2002.5 490L2007.2 479M2007.2 479L2004.4 476.6M1986 498.7L1990.3 488.9M1986 498.7L1974.7 490.2M1987.7 483.2L1987.9 483.6M1974.7 490.2L1975.5 483M2004.7 494.2L2002.5 490M1993.6 505.8L1992.5 506.1M1986 498.7L1985.9 503M1985.9 503L1992.5 506.1M1988.6 471.6L1997.9 466.4M1997.9 466.4L2004.4 476.6M1945.2 492.2L1951.4 495.2M1946.2 508L1952.3 497.5M1932.8 509.3L1932.1 508.9M1951.4 495.2L1952.3 497.5M1960.6 484.2L1959.9 486.1M1951.4 495.2L1959.9 486.1M1974.7 490.2L1970.3 494.4M1959.9 486.1L1970.3 494.4M1890 574.8L1888.2 556.3M1875.8 557.9L1878.6 556.9M1878.6 556.9L1888.2 556.3M1894.9 554.4L1892.3 553.5M1888.2 556.3L1892.3 553.5M1908.3 547.2L1907.3 551.6M1908.3 547.2L1900.7 535.8M1900.7 535.8L1892 545.5M1892.3 553.5L1892 545.5M1632.8 361.4L1620.7 368.3M1632.2 376.9L1620.8 369.1M1690 256.9L1691.1 244.4M1690 256.9L1700.5 258.2M1700.5 258.2L1705.2 250.5M1705.2 250.5L1696.4 241.9M1691.1 244.4L1696.4 241.9M1649.4 227.9L1653.8 236.5M1663.5 228.4L1653.8 236.5M1659.5 360.9L1659.6 353.6M1643.4 347.7L1653.2 344.8M1653.2 344.8L1659.6 353.6M1665.9 365.8L1670.1 365.8M1679.2 353.9L1668.5 348.9M1670.1 365.8L1679 356.5M1659.6 353.6L1668.5 348.9M1661.1 300.4L1673.2 298.2M1656.1 288.3L1666 282M1666 282L1670.1 283.4M1670.1 283.4L1673.2 298.2M1677.4 309.6L1676.2 300.2M1677.4 309.6L1675.8 310.6M1676.2 300.2L1673.2 298.2M1674 337.5L1679.9 339.8M1674 337.5L1674.6 326.9M1679.9 339.8L1688.4 327.8M1674.6 326.9L1685.4 322.7M1685.4 322.7L1688.8 324.9M1688.8 324.9L1688.4 327.8M1684.8 347L1679.9 339.8M1670.5 338.9L1668.5 348.9M1670.5 338.9L1674 337.5M1693.6 346.9L1694 346.6M1694 346.6L1695 343.9M1695 343.9L1688.4 327.8M1682 312.5L1677.4 309.6M1682 312.5L1685.4 322.7M1665.5 321.4L1674.6 326.9M1689.1 308.7L1682 312.5M1689.1 308.7L1701.6 313.4M1701.6 313.4L1698.7 323M1698.7 323L1688.8 324.9M1626.9 442.9L1618.4 437.4M1626.9 442.9L1637.5 438.1M1637.5 438.1L1636 431M1636 431L1622 428.2M1611.8 453.1L1627.3 451.2M1627.3 451.2L1626.9 442.9M1637.6 427.5L1636 431M1677.2 464L1664.2 468.1M1677.2 464L1673.3 450.4M1667 454.9L1672.8 450.2M1667 454.9L1661.4 466.3M1661.4 466.3L1664.2 468.1M1673.3 450.4L1672.8 450.2M1681.9 450.6L1689.7 454.9M1681.9 450.6L1673.3 450.4M1689.7 454.9L1691.1 460.2M1680.3 466.5L1691.1 460.2M1680.3 466.5L1677.2 464M1677.5 486.2L1664.2 491.5M1677.5 486.2L1680.4 479.5M1680.4 479.5L1679.6 478.2M1679.6 478.2L1668.2 473.5M1668.2 473.5L1663.4 482.9M1663.4 482.9L1663.9 491.3M1663.9 491.3L1664.2 491.5M1683 496.2L1677.5 486.2M1683 496.2L1695.6 490.6M1695.6 490.6L1695.4 478.9M1695.4 478.9L1680.4 479.5M1680.3 466.5L1679.6 478.2M1691.1 460.2L1699.3 467.6M1699.3 467.6L1697.6 476.9M1697.6 476.9L1695.4 478.9M1664.2 468.1L1668.2 473.5M1653.2 472.8L1654.2 467.5M1653.2 472.8L1663.4 482.9M1654.2 467.5L1661.4 466.3M1654.2 467.5L1648.9 463.2M1667 454.9L1654.7 450.5M1648.9 463.2L1654.7 450.5M1651.3 428L1645.6 441.2M1637.5 438.1L1643.4 441.7M1643.4 441.7L1645.6 441.2M1627.3 451.2L1629.2 454.3M1643.4 441.7L1640.1 454.3M1629.2 454.3L1640.1 454.3M1648.9 463.2L1646 462.5M1654.7 450.5L1653.5 444M1653.5 444L1645.6 441.2M1640.1 454.3L1646 462.5M1672.8 450.2L1671.1 445.5M1653.5 444L1662.1 439.7M1671.1 445.5L1662.1 439.7M1654 425.7L1661.6 426.8M1662.1 439.7L1661.6 426.8M1663.9 411.4L1666.8 415.7M1666.8 415.7L1663.4 425.5M1663.4 425.5L1661.6 426.8M1683 496.2L1682.3 504.8M1695.6 490.6L1701.4 498.8M1701.4 498.8L1693.1 507.1M1693.1 507.1L1682.3 504.8M1668.1 502L1664.2 491.5M1668.1 502L1677.7 508M1682.3 504.8L1677.7 508M1705.5 480.5L1711.7 493.5M1705.5 480.5L1697.6 476.9M1701.4 498.8L1702 498.8M1702 498.8L1711.7 493.5M1744.1 468.8L1738.8 480.1M1755.4 466.5L1758.8 477.4M1738.8 480.1L1739.8 481.7M1739.8 481.7L1758.8 477.4M1715 478.2L1722 481.9M1715 478.2L1714.3 464.5M1722 481.9L1728.8 474.8M1714.3 464.5L1716.7 464.5M1716.7 464.5L1728.3 470.9M1728.3 470.9L1728.8 474.8M1705.5 480.5L1715 478.2M1721.7 491.6L1722 481.9M1721.7 491.6L1717.5 494.1M1717.5 494.1L1711.7 493.5M1699.3 467.6L1708.9 462.1M1708.9 462.1L1714.3 464.5M1734.7 462L1728.3 470.9M1735 454.2L1731.8 452.6M1731.8 452.6L1727.5 452.4M1727.5 452.4L1716.7 464.5M1738.8 480.1L1728.8 474.8M1783.3 516.4L1776.8 523.2M1783.3 516.4L1782.1 506.3M1773.8 504.9L1782.1 506.3M1773.8 504.9L1768.1 516.4M1776.8 523.2L1768.1 516.4M1796 505L1802.5 517.9M1796 505L1786.4 503.8M1783.3 516.4L1788.1 520.2M1782.1 506.3L1786.4 503.8M1788.1 520.2L1802.5 517.9M1634.4 518.1L1636.2 527.9M1626 530.1L1629.5 531.7M1636.2 527.9L1629.5 531.7M1653.3 519.4L1648.7 514.2M1653.3 519.4L1653.8 526.4M1648.7 514.2L1636.1 514.3M1653.8 526.4L1646.5 532.7M1636.2 527.9L1646.5 532.7M1617.1 544.7L1627.9 540.8M1629.5 531.7L1627.9 540.8M1680 580.8L1679 568.3M1680 580.8L1669 580.8M1679 568.3L1664.7 566.8M1664.7 566.8L1663.1 571.4M1669 580.8L1663.1 571.4M1660.4 514L1661.2 507.1M1660.4 514L1675.5 517.2M1661.2 507.1L1668.1 502M1677.7 508L1675.8 517.1M1675.5 517.2L1675.8 517.1M1693.1 507.1L1697.6 518.2M1697.1 518.8L1697.6 518.2M1697.1 518.8L1683.1 522.4M1675.8 517.1L1683.1 522.4M1704.2 558.9L1700.8 573.4M1704.2 558.9L1696 555.5M1696 555.5L1692.2 559.6M1692.2 559.6L1691.8 569.1M1691.8 569.1L1698.8 575.2M1700.8 573.4L1699.4 575.2M1699.4 575.2L1698.8 575.2M1679.4 568L1691.8 569.1M1679.4 568L1681.5 558.7M1681.5 558.7L1692.2 559.6M1694 346.6L1706.4 351.3M1706.4 351.3L1715.2 339.9M1695 343.9L1706.1 333M1715.2 339.9L1706.1 333M1698.7 323L1705.4 329.8M1706.1 333L1705.4 329.8M1701.6 313.4L1706.2 308.4M1706.2 308.4L1710 309.5M1710 309.5L1715.6 322.5M1705.4 329.8L1715.6 322.5M1732.4 351.9L1739.1 346.9M1732.4 351.9L1733.8 361.9M1733.8 361.9L1737.2 363.6M1750.7 355.2L1750.9 354.2M1739.1 346.9L1750.9 354.2M1763.6 347.2L1757.3 345.8M1757.3 345.8L1750.9 354.2M1670.1 365.8L1679.4 374.7M1687 363.6L1688.9 373.8M1679.4 374.7L1688.9 373.8M1671.1 445.5L1679 432.6M1663.4 425.5L1678.6 431.1M1679 432.6L1678.6 431.1M1681.9 450.6L1687.7 437.4M1679 432.6L1687.7 437.4M1846.7 320.1L1840 306.6M1846.7 320.1L1839.6 327.4M1839.6 327.4L1829.3 318.1M1840 306.6L1831.1 310.2M1829.3 318.1L1831.1 310.2M1857 322.2L1846.7 320.1M1838.3 331.5L1839.6 327.4M1857 305.1L1861.2 318.5M1857 305.1L1845.4 303.7M1840 306.6L1840.6 305.3M1845.4 303.7L1840.6 305.3M1790.3 345.4L1794.4 349M1792.4 363L1797.1 358.9M1794.4 349L1797.1 358.9M1791.1 333L1810.1 339.2M1810.1 339.2L1808.5 342.7M1794.4 349L1808.5 342.7M1737 400.2L1734.4 398.9M1739.6 414.9L1726.5 416.2M1725.6 415.4L1726.5 416.2M1725.6 415.4L1726.9 402.3M1734.4 398.9L1726.9 402.3M1746.4 383.7L1751.1 388M1738.7 385.1L1734.1 392.9M1751.1 388L1739.7 399.9M1734.4 398.9L1734.1 392.9M2042.6 730.1L2037.4 727.1M2026.7 739.9L2026.5 731.7M2037.4 727.1L2026.5 731.7M2041.2 708.2L2033.2 718.1M2037.4 727.1L2033.2 718.1M2051.7 673.5L2045.9 675.5M2047.9 689.6L2045.9 675.5M2044.8 654.8L2039.4 665.5M2039.4 665.5L2044 674.7M2044 674.7L2045.9 675.5M2005.1 674.8L2013.1 674.6M2007.2 694.4L2015 687M2015 687L2013.1 674.6M2014.5 869L2021.5 857.9M2014.5 869L2020.1 880.3M2020.1 880.3L2029.3 865.2M2021.5 857.9L2027.2 861.1M2029.3 865.2L2027.2 861.1M2020.2 882.9L2020.1 880.3M2037.2 869.7L2029.3 865.2M2020.8 856.4L2021.5 857.9M2020.8 856.4L2022 846.9M2035.5 855.6L2027.2 861.1M2035.3 845.4L2025.4 843.6M2025.4 843.6L2022 846.9M2010.6 899.8L2000.6 890.9M2000.6 890.9L1992.5 898.4M2018.5 884.1L2008.1 883.2M2008.1 883.2L2001.5 887.3M2001.5 887.3L2000.6 890.9M1983.6 889.6L1975.3 903.5M1983.6 889.6L1992.5 898.4M2025.4 843.6L2025.3 832M2022 846.9L2008 841M2025.3 832L2024.1 830.6M2024.1 830.6L2010.7 831.3M2010.7 831.3L2008 841M2049.5 802.5L2043.3 806.2M2034.5 793.3L2037.6 805.7M2037.6 805.7L2043.3 806.2M2053.1 831.5L2043 838.4M2043 838.4L2036.4 830.9M2036.4 830.9L2040.7 820.2M2048.7 820.7L2043.2 819.8M2043.2 819.8L2040.7 820.2M2042.1 842.6L2043 838.4M2025.3 832L2036.4 830.9M2043.3 806.2L2043.2 819.8M2028.7 813.9L2040.7 820.2M2028.7 813.9L2037.6 805.7M2024.1 830.6L2024.6 816.9M2028.7 813.9L2028.6 813.9M2028.6 813.9L2024.6 816.9M1983.6 889.6L1982.1 886.3M2001.5 887.3L1992.4 879.8M1982.1 886.3L1992.4 879.8M1978.3 778.8L1979.6 779.1M1978.3 778.8L1970 780.7M1970 780.7L1967.9 787M1967.9 787L1974.2 798.5M1974.2 798.5L1985.5 792.8M1985.5 792.8L1979.6 779.1M1971.2 804.5L1971.1 804M1971.2 804.5L1988.7 807.5M1974.2 798.5L1971.1 804M1985.5 792.8L1986.8 793.3M1986.8 793.3L1988.7 807.5M1918.5 867.9L1921.8 855.4M1929.1 852.3L1921.8 855.4M1929.1 852.3L1938.9 860.7M1935.3 870.5L1940.1 866.7M1938.9 860.7L1940.1 866.7M1929.8 847.5L1921.7 837.7M1929.8 847.5L1940.2 838.5M1930.9 825.6L1930.1 825.4M1930.9 825.6L1940.8 833.8M1930.1 825.4L1921 831.4M1921.7 837.7L1921 831.4M1940.2 838.5L1940.8 833.8M1929.1 852.3L1929.8 847.5M1921.8 855.4L1921.5 855.2M1921.7 837.7L1912.2 846.1M1921.5 855.2L1912.2 846.1M1914.7 829.3L1921 831.4M1914.7 829.3L1909.4 832.1M1909.4 832.1L1906 845.5M1912.2 846.1L1906 845.5M1896.9 873.6L1891.5 869.1M1896.9 873.6L1909.4 866.4M1891.5 869.1L1894.4 860.5M1894.4 860.5L1902.5 855.7M1909.4 866.4L1905.2 857.9M1905.2 857.9L1902.5 855.7M1878.9 885L1885 870.5M1900.4 882.1L1896.9 873.6M1885 870.5L1891.5 869.1M1916.3 869.8L1909.4 866.4M1921.5 855.2L1905.2 857.9M1903.5 846.9L1906 845.5M1903.5 846.9L1902.5 855.7M1910.5 700.2L1911.7 712.2M1925.5 714.8L1923.1 699.7M1925.5 714.8L1925.1 715.7M1925.1 715.7L1920.1 716.9M1911.7 712.2L1920.1 716.9M1895.5 728.7L1885.1 721.9M1895.5 728.7L1901.9 723M1901.9 723L1902.3 720M1902.3 720L1895.2 709.8M1895.2 709.8L1882.1 715.3M1882.1 715.3L1885.1 721.9M1877.3 732.2L1878 737.8M1877.3 732.2L1885.1 721.9M1878 737.8L1886.9 742.2M1886.9 742.2L1895.1 731.5M1895.1 731.5L1895.5 728.7M1896.6 704.5L1905.2 700M1896.6 704.5L1895.2 709.8M1911.7 712.2L1902.3 720M1871.1 753.9L1863 753.8M1871.1 753.9L1871.7 740.3M1871.7 740.3L1863.4 738.6M1863.4 738.6L1861.1 739.5M1861.1 739.5L1858.8 749.3M1863 753.8L1858.8 749.3M1727 782.8L1738 779.5M1727 782.8L1723.9 781.6M1738 779.5L1734.1 768.9M1725.5 765.7L1721.6 768.5M1721.6 768.5L1723.9 781.6M1710.9 792L1713.5 786.6M1727 782.8L1728.3 794.5M1723.9 781.6L1713.5 786.6M1705.1 770.1L1709.1 770.2M1705.1 770.1L1697.7 762M1711.4 768.7L1709.1 770.2M1711.4 768.7L1711.7 755.3M1697.7 762L1697.8 756.2M1697.8 756.2L1709.6 753M1711.7 755.3L1709.6 753M1700.7 774.5L1705.1 770.1M1713.5 786.6L1709.1 770.2M1689.4 776.4L1685.7 767.5M1685.7 767.5L1697.7 762M1721.6 768.5L1711.4 768.7M1725.5 754.2L1711.7 755.3M1713.8 742.1L1710.1 744.1M1710.1 744.1L1709.6 753M1685.3 787.8L1684.7 787.8M1675.1 770.2L1672.1 777M1675.1 770.2L1685.4 767.3M1672.1 777L1674.1 780.7M1685.4 767.3L1685.7 767.5M1684.7 787.8L1674.1 780.7M1737.9 795.1L1743.7 790.8M1738 779.5L1740.8 781.1M1740.8 781.1L1743.7 790.8M1753.8 803.4L1752.6 794.7M1743.7 790.8L1752.6 794.7M1729.5 733.7L1736.3 726.7M1736.3 726.7L1734.3 714.6M1715.8 723.5L1719 716.4M1719 716.4L1729.7 711.8M1734.3 714.6L1729.7 711.8M1773.2 657.7L1765.2 663.1M1759.1 649.4L1765.7 644.4M1759.1 649.4L1763.6 662.4M1771.5 647.5L1765.7 644.4M1763.6 662.4L1765.2 663.1M1746.5 744.3L1751.1 739.6M1736.3 726.7L1741 727.9M1751.1 739.6L1741 727.9M1798.6 739.3L1789.5 737.6M1798.6 739.3L1802.6 737.3M1802.6 737.3L1803.3 724.2M1787.3 727.3L1789.5 737.6M1787.3 727.3L1799.9 721.8M1799.9 721.8L1803.3 724.2M1861.1 739.5L1853.6 735.6M1846.6 752.3L1858.8 749.3M1846.6 752.3L1842.1 742.4M1842.1 742.4L1853.6 735.6M1842.1 742.4L1839.9 741.2M1844.7 725.4L1837.9 733.4M1844.7 725.4L1852.6 729.6M1852.6 729.6L1853.6 735.6M1837.9 733.4L1839.9 741.2M1656.3 700.5L1654.7 701.7M1656.3 700.5L1657 689.6M1654.7 701.7L1642.8 698M1657 689.6L1652.6 683.4M1652.6 683.4L1643.3 686.4M1642.8 698L1643.3 686.4M1655.7 649.2L1653.6 650.1M1647 636.8L1647 648.7M1647 648.7L1653.6 650.1M1661.9 665.1L1660.4 675.3M1661.9 665.1L1653.2 662.7M1653.2 662.7L1651.3 663.9M1651.3 663.9L1646.9 671.2M1646.9 671.2L1653.7 677.5M1653.7 677.5L1660.4 675.3M1666.4 662.6L1661.9 665.1M1676.1 670.5L1669 680.7M1669 680.7L1660.4 675.3M1653.6 650.1L1653.2 662.7M1636.8 672.6L1646.9 671.2M1636.8 672.6L1643.2 686.3M1652.6 683.4L1653.7 677.5M1643.2 686.3L1643.3 686.4M1657 689.6L1669.3 682.7M1669.3 682.7L1669 680.7M1716.4 662.1L1717.3 651.5M1716.4 662.1L1706.6 669.9M1717.3 651.5L1704.7 652.8M1699.6 660.5L1699.6 657.7M1704.7 652.8L1699.6 657.7M1719.2 649.4L1717.3 651.5M1716.7 639.1L1714.6 637.9M1714.6 637.9L1704 640.6M1704.7 652.8L1704 640.6M1680.7 651.6L1691.1 649.6M1699.6 657.7L1691.1 649.6M1810.2 591.9L1822.6 600.2M1810.2 591.9L1811.6 586.4M1811.6 586.4L1821 581.1M1822.6 600.2L1829.7 595.6M1829.7 595.6L1827.2 585.6M1821 581.1L1827.2 585.6M1802.2 571.5L1801.7 576.5M1802.2 571.5L1813.9 566.7M1801.7 576.5L1811.6 586.4M1822.7 571.6L1813.9 566.7M1822.7 571.6L1821 581.1M1710.9 555.7L1719.2 559.4M1710.9 555.7L1704.2 558.9M1700.8 573.4L1721.2 568.2M1721.2 568.2L1719.2 559.4M1751.9 560.8L1756 565.9M1751.9 560.8L1759.5 550M1770.1 566.6L1756 565.9M1770.1 566.6L1770.3 566.4M1770.3 566.4L1772.2 559.9M1759.5 550L1772.2 559.9M1901.6 753.1L1898 752.9M1901.6 753.1L1906 740.2M1886.9 742.2L1886.9 742.4M1906 740.2L1895.1 731.5M1886.9 742.4L1898 752.9M1878 737.8L1871.7 740.3M1871.1 753.9L1876.8 757.9M1886.9 742.4L1876.8 757.9M1880.4 793.8L1882.1 782.2M1880.4 793.8L1871.4 799M1865.3 793.2L1871.4 799M1865.3 793.2L1866.6 780.6M1866.6 780.6L1882.1 782.2M1898 752.9L1890.3 761.5M1890.3 761.5L1880.8 765.1M1876.8 757.9L1878.7 763.9M1878.7 763.9L1880.8 765.1M1998.6 704.3L1999.7 711.8M1999.7 711.8L1989.8 720.9M1988.9 702.1L1979.5 713.5M1979.5 713.5L1989.8 720.9M2001.3 738.4L1992 743.4M2001.3 738.4L1998 731.5M1998 731.5L1991.3 728.4M1992 743.4L1981.1 737M1981.1 737L1982.2 733.7M1982.2 733.7L1991.3 728.4M1938.8 700.7L1927.8 696.7M1938.8 700.7L1940.3 704.5M1925.5 714.8L1939.4 707.7M1940.3 704.5L1939.4 707.7M1961.7 697.4L1956.1 706M1938.8 700.7L1946.3 688.7M1950.2 689L1946.3 688.7M1940.3 704.5L1956.1 706M1970.9 703.6L1975.9 713.9M1956.1 706L1956.2 706.3M1956.2 706.3L1964.3 719.5M1964.3 719.5L1975.9 713.9M1979.5 713.5L1976.2 714M1989.8 720.9L1991.3 728.4M1982.2 733.7L1977.9 729M1977.9 729L1976.2 714M1975.9 713.9L1976.2 714M1956.2 706.3L1946.3 721.8M1964.3 719.5L1961.2 725.5M1961.2 725.5L1946.3 721.8M1925.1 715.7L1933 725.8M1933 725.8L1940.3 726.2M1939.4 707.7L1944.1 722M1940.3 726.2L1944.1 722M1944.1 722L1946.3 721.8M1780.1 297.2L1790 288.1M1784.4 307L1794.3 304M1794.3 304L1799.3 295.7M1799.3 295.7L1790.5 288.2M1790 288.1L1790.5 288.2M1705.2 250.5L1707 250.1M1700.6 230L1712.3 235.8M1712.3 235.8L1714.7 242.8M1697.4 232L1696.4 241.9M1707 250.1L1714.7 242.8M1865.7 317.9L1874 306.9M1882.3 323.1L1876.2 325.4M1882.3 323.1L1885.8 310.4M1874 306.9L1885.8 310.4M1859.6 345.9L1860.9 349M1857.8 359.2L1860.9 349M1857.8 359.2L1847.5 362.3M1844 348.8L1844.2 360.7M1847.5 362.3L1844.2 360.7M2040.2 231.7L2038.4 234.6M2051.3 245.7L2045.4 244.3M2045.4 244.3L2038.4 234.6M1787.2 848.9L1790.7 832.6M1787.2 848.9L1796.7 848.6M1802.9 838.1L1796.7 848.6M1802.9 838.1L1802.9 834M1802.9 834L1790.7 832.6M1775.7 843.5L1783.8 850.3M1783.8 850.3L1787.2 848.9M1776.3 836.3L1786.4 830.6M1786.4 830.6L1790.7 832.6M1754.1 883.6L1754.4 873.4M1768.8 870.9L1768.8 883.4M1768.8 870.9L1760.2 863.7M1754.4 873.4L1760.2 863.7M1770.2 846.4L1765.8 855.9M1765.8 855.9L1759.3 859.9M1759 841.3L1750.5 845.9M1759.3 859.9L1749.7 854.3M1750.5 845.9L1749.7 854.3M1885 870.5L1879.4 866.3M1894.4 860.5L1886.3 852.2M1886.3 852.2L1878.1 859.1M1879.4 866.3L1878.1 859.1M1622.8 845.7L1626.4 834.1M1626.4 834.1L1611.3 832.7M1624.1 861.6L1617.4 848.6M1633.4 849.3L1622.8 845.7M1630.5 830L1626.4 834.1M1627.9 822.7L1619.5 821.7M1630 817.6L1619.5 805.2M1622.3 779.7L1631.2 779.7M1631.2 779.7L1637.5 763.9M1618.5 766.6L1637.5 763.9M1612.1 739.8L1630.2 739.1M1621.3 752L1625.2 750.7M1630.2 739.1L1625.2 750.7M1639.2 758L1625.2 750.7M1639.2 758L1638.8 762.8M1637.5 763.9L1638.8 762.8M1675.3 725.6L1667.3 730.5M1675.3 725.6L1675.6 714.6M1675.6 714.6L1674.2 713.6M1674.2 713.6L1658.4 718.5M1658.4 718.5L1660.3 729.2M1660.3 729.2L1667.3 730.5M1653.4 714L1654.7 701.7M1653.4 714L1658.4 718.5M1656.3 700.5L1669.3 700.8M1669.3 700.8L1674.2 713.6M1653.4 714L1645.1 717.6M1653.4 736.1L1660.3 729.2M1653.4 736.1L1642.8 727.9M1645.1 717.6L1642.8 727.9M1653.4 736.1L1653.2 738.2M1654.5 739L1671.7 740.8M1671.7 740.8L1667.3 730.5M1675.8 748.9L1676.1 747M1675.8 748.9L1681.4 752.8M1676.1 747L1684.1 737.5M1681.4 752.8L1694.9 752.3M1684.1 737.5L1697.2 737.5M1694.9 752.3L1698.1 739.3M1698.1 739.3L1697.2 737.5M1671.7 740.8L1676.1 747M1675.1 749.4L1675.8 748.9M1669.2 760.7L1675.1 770.2M1685.4 767.3L1681.4 752.8M1675.3 725.6L1681.5 730M1681.5 730L1684.1 737.5M1697.8 756.2L1694.9 752.3M1710.1 744.1L1698.1 739.3M1720.5 695.1L1709.9 688.6M1720.5 695.1L1720.8 696.1M1720.8 696.1L1711.7 705.2M1707.5 690.2L1702.7 696.9M1702.7 696.9L1711.7 705.2M1720.8 696.1L1728.5 702.3M1719 716.4L1711.4 707.7M1728.5 702.3L1729.7 711.8M1711.7 705.2L1711.4 707.7M1687.3 702.1L1669.7 700.3M1687.3 702.1L1690.3 694.8M1690.3 694.8L1687.4 688.4M1674.7 689.5L1669.7 700.3M1674.7 689.5L1687 688.2M1687 688.2L1687.4 688.4M1687.5 712.3L1687.3 702.1M1687.5 712.3L1675.6 714.6M1669.3 700.8L1669.7 700.3M1694.8 684.3L1687.4 688.4M1702.7 696.9L1700 697.7M1700 697.7L1690.3 694.8M1669.3 682.7L1674.7 689.5M1684.6 673L1687 688.2M1757.3 621.8L1761.4 635.5M1757.3 621.8L1755 621.5M1755 621.5L1747.2 627.1M1747.2 627.1L1746.5 633.1M1746.5 633.1L1751.1 638.8M1751.1 638.8L1761.4 635.5M1766.9 616.8L1757.3 621.8M1766.9 616.8L1768.3 611.9M1748.4 611.5L1755 621.5M1748.4 611.5L1758.7 602.1M1768.3 611.9L1758.7 602.1M1744.2 652.7L1749.3 648.4M1744.2 652.7L1735.6 645.3M1734.7 637.6L1746.5 633.1M1749.3 648.4L1751.1 638.8M1759.1 649.4L1749.3 648.4M1763.8 636.8L1765.7 644.4M1763.8 636.8L1761.4 635.5M1686.9 598.4L1677.4 594.6M1686.9 598.4L1691.8 593.5M1691.8 593.5L1689.4 582M1677.4 594.6L1680.5 581.5M1680.5 581.5L1689.4 582M1701.7 593.1L1706 584.7M1701.7 593.1L1691.8 593.5M1706 584.7L1699.4 575.2M1698.8 575.2L1689.4 582M1670 597.5L1677.4 594.6M1670 597.5L1664.3 591.7M1680 580.8L1680.5 581.5M1669 580.8L1664.3 591.7M1679 568.3L1679.4 568M1674.4 640.7L1684.1 634.8M1677.4 622.1L1685.3 622.7M1684.1 634.8L1685.3 622.7M1691.1 649.6L1694.4 639.5M1684.1 634.8L1694.4 639.5M1704 640.6L1697.7 637.8M1694.4 639.5L1697.7 637.8M1710.7 626.4L1714.6 637.9M1710.7 626.4L1699.5 623.8M1697.7 637.8L1699.5 623.8M1728.9 631.7L1729.4 624M1710.7 626.4L1717.7 620M1729.4 624L1717.7 620M1747.2 627.1L1733.7 619.9M1729.4 624L1733.7 619.9M1628.9 613.1L1622.5 609.8M1670 597.5L1668.2 605.8M1650.7 606.5L1651.3 600.4M1664.3 591.7L1658.8 590.3M1651.3 600.4L1658.8 590.3M1658.1 575.2L1663.1 571.4M1658.1 575.2L1655.1 586.2M1658.8 590.3L1655.1 586.2M1838 570.3L1827.5 568.4M1838 570.3L1844.4 557.5M1827.5 568.4L1827.3 559.4M1827.3 559.4L1833.6 552.1M1844.4 557.5L1833.6 552.1M1839.4 572.2L1838 570.3M1838.6 581.8L1827.2 585.6M1822.7 571.6L1827.5 568.4M1846.5 556.8L1844.4 557.5M1846.5 556.8L1856.9 559.8M1813.9 566.7L1812.5 554.6M1812.5 554.6L1815.2 552.2M1815.2 552.2L1827.3 559.4M1832.5 547.6L1833.6 552.1M1832.5 547.6L1823.6 542.4M1815.2 552.2L1815.9 550M1823.6 542.4L1815.9 550M1918.9 538.1L1928.2 530.4M1918.9 538.1L1905.3 529.8M1928.2 530.4L1922.3 520.3M1905.3 529.8L1907.3 524.9M1907.3 524.9L1917.4 519.7M1922.3 520.3L1917.4 519.7M1908.3 547.2L1918.8 540.4M1900.7 535.8L1901.8 531.8M1901.8 531.8L1905.3 529.8M1918.8 540.4L1918.9 538.1M1939.3 520.3L1930.6 530.8M1929.8 508.8L1922.3 520.3M1930.6 530.8L1928.2 530.4M1902.2 513.8L1907.3 524.9M1902.2 513.8L1907.7 506.2M1907.7 506.2L1910.1 505.1M1911.9 506.6L1910.1 505.1M1911.9 506.6L1917.4 519.7M1929.2 508.2L1911.9 506.6M1788.7 629.4L1785.1 624M1788.7 629.4L1778.3 635.2M1785.1 624L1770.8 621.8M1778.3 635.2L1771.2 632.2M1770.8 621.8L1771.2 632.2M1766.9 616.8L1770.8 621.8M1785.1 609.6L1785.1 624M1785.1 609.6L1777.7 606.4M1777.7 606.4L1768.3 611.9M1777.6 643.4L1778.3 635.2M1763.8 636.8L1771.2 632.2M1799.4 615.8L1790.7 608M1799.4 615.8L1807.2 604M1790.7 608L1797.3 597.4M1797.3 597.4L1804.6 597.2M1807.2 604L1804.6 597.2M1790.2 630L1799.8 616.6M1790.2 630L1788.7 629.4M1799.8 616.6L1799.4 615.8M1785.1 609.6L1790.7 608M1777.2 598.3L1777.7 606.4M1777.2 598.3L1778.3 594.3M1796.8 596.9L1797.3 597.4M1801.7 576.5L1790.9 582.7M1810.2 591.9L1804.6 597.2M1844 588L1840.9 597M1859.2 597.1L1858.7 590.4M1859.2 597.1L1848.3 599.6M1848.3 599.6L1840.9 597M1829.7 595.6L1838.3 598.7M1838.3 598.7L1840.9 597M1797.4 453.1L1805.2 447.8M1797.4 453.1L1791.7 447.9M1791.7 447.9L1792 436.9M1794.9 434.3L1792 436.9M1794.9 434.3L1806 437.9M1806 437.9L1805.2 447.8M1794.5 484.7L1804.8 475.7M1794.5 484.7L1802.3 493.2M1815.1 481.8L1804.8 475.7M1815.1 481.8L1813.3 488.9M1802.3 493.2L1813.3 488.9M1773.9 396.1L1769.6 403.1M1773.9 396.1L1758.8 387.4M1769.6 403.1L1755.1 399.3M1755.1 399.3L1754.5 389.3M1758.8 387.4L1754.5 389.3M1769.4 409.8L1769.6 403.1M1751.7 405.4L1755.1 399.3M1752.1 410.1L1757.6 412.4M1751.1 388L1754.5 389.3M1765.2 376.2L1758.8 387.4M1792.9 385.9L1778 386.2M1792.9 385.9L1786.9 401M1786.9 401L1775.2 395.4M1778 386.2L1775.2 395.4M1774.3 374.9L1778 386.2M1796.7 383.4L1796.7 382.2M1796.7 383.4L1792.9 385.9M1788.6 372.2L1796.7 382.2M1783.4 410.9L1787.3 401.6M1783.4 410.9L1770.5 411.4M1787.3 401.6L1786.9 401M1773.9 396.1L1775.2 395.4M1783.4 410.9L1787.1 419.4M1787.3 401.6L1798.3 404.5M1798.3 404.5L1799.3 413.3M1787.1 419.4L1799.3 413.3M1779.9 424.6L1787 419.8M1787.1 419.4L1787 419.8M1785.3 435.2L1792 436.9M1794.9 434.3L1795.4 429.8M1787 419.8L1795.4 429.8M1754.5 451.1L1769.9 455.8M1754.5 451.1L1756.3 444.3M1756.3 444.3L1772.1 444.4M1772.1 444.4L1774.9 451.2M1769.9 455.8L1774.8 451.5M1774.8 451.5L1774.9 451.2M1751.2 456.3L1754.5 451.1M1755.5 466.1L1766.8 460.1M1766.8 460.1L1769.9 455.8M1791.7 447.9L1774.9 451.2M1772.4 443.3L1772.1 444.4M1761.1 427.5L1754.8 430M1756.3 444.3L1755.2 442.8M1755.2 442.8L1754.8 430M1738.1 452.7L1742.1 442.6M1755.2 442.8L1742.1 442.6M1744.5 417.4L1745.8 426.7M1754.8 430L1745.8 426.7M1857.8 359.2L1864.6 364.3M1860.9 349L1874.7 353.8M1874.7 353.8L1874.3 361.6M1874.3 361.6L1864.6 364.3M1796.7 383.4L1805.6 392M1798.3 404.5L1804.6 398.7M1805.6 392L1804.6 398.7M1806 437.9L1811.7 434.2M1795.4 429.8L1803.2 422.9M1811.7 434.2L1803.2 422.9M1799.3 413.3L1804.3 417.9M1803.2 422.9L1804.3 417.9M1796.7 382.2L1807.5 371.1M1797.1 358.9L1805.8 362.6M1807.5 371.1L1805.8 362.6M1811.5 348.4L1808.5 342.7M1811.5 348.4L1811.3 359.1M1811.3 359.1L1805.8 362.6M1833 333.7L1827.6 331.1M1829.3 318.1L1824.6 322.2M1827.6 331.1L1824.6 322.2M1829.4 345.5L1826.8 347.2M1826.8 347.2L1814.6 335.8M1827.6 331.1L1814.6 335.8M1826.8 347.2L1826.2 348.8M1826.2 348.8L1811.5 348.4M1810.1 339.2L1813.1 335.4M1814.6 335.8L1813.1 335.4M1991.3 361.4L1982.1 368.3M1991.3 361.4L2001 364.8M2001 364.8L2002.2 374.2M1982.1 368.4L1997.4 377.8M1982.1 368.4L1982.1 368.3M2002.2 374.2L1997.4 377.8M2006.8 359.2L2001 364.8M2000 349.1L1989.4 352.6M1989.4 352.6L1991.3 361.4M1991.3 387.7L1983.1 389.4M1991.3 387.7L1997.4 377.8M1980.8 387.7L1978.1 379.3M1978.1 379.3L1982.1 368.4M1984 341.2L1989.5 337.4M1984 341.2L1983.5 344.4M1989.4 352.6L1984.1 347M1989.5 337.4L2001.3 337.4M1983.5 344.4L1984.1 347M2037.6 384.9L2049 385.8M2037.6 384.9L2033.7 375.5M2033.7 375.5L2047.1 372.1M2030.3 365.3L2031.5 375M2046.4 363.7L2047.1 372.1M2031.5 375L2033.7 375.5M1984 341.2L1973.3 331.8M1973.3 331.8L1966.8 335.8M1983.5 344.4L1964.8 347.7M1966.8 335.8L1964.8 347.7M1931.9 323.8L1931.2 330.8M1931.9 323.8L1918.2 319.5M1918.2 319.5L1916.4 320.4M1916.4 320.4L1917.5 333.7M1931.2 330.8L1917.5 333.7M2039.7 460.2L2047.2 473.6M2039.7 460.2L2040.5 457.2M2050.8 457.7L2040.5 457.2M1916.8 412.8L1908.3 416.2M1916.8 412.8L1923.9 418.5M1923.9 418.5L1927.7 427.5M1908.3 416.2L1907.9 417.7M1907.9 417.7L1917.4 432.1M1927.7 427.5L1917.4 432.1M1905.2 395.3L1920.1 399.6M1905.2 395.3L1899 400.6M1899 400.6L1898.8 401M1921 401.9L1916.8 412.8M1904.2 412.7L1898.8 401M1904.2 412.7L1908.3 416.2M1931.9 413.2L1923.9 418.5M1932.4 429.5L1927.7 427.5M1968.4 609L1961.4 610.4M1976 617.5L1977 612.6M1976 617.5L1967.3 623.8M1967.3 623.8L1958.2 619.9M1961.4 610.4L1958.2 619.9M1967.7 598.2L1962.4 592.8M1962.4 592.8L1953.6 602.7M1961.4 610.4L1953.6 602.7M1981.3 630.8L1992.5 634.4M1981.3 630.8L1981.3 627M1981.3 627L1993.1 619.9M1992.5 634.4L1998 631.2M1998 631.2L1997.2 624.6M1997.2 624.6L1993.1 619.9M1981.3 609.6L1990.7 610.1M1990.7 610.1L1993.1 619.9M1976 617.5L1981.3 627M1989.6 647.9L1992.5 634.4M1989.6 647.9L2003.6 649.1M2008.4 636.3L2006.2 646.4M2008.4 636.3L1998 631.2M2003.6 649.1L2006.2 646.4M1946.3 688.7L1941.9 682.5M1927.3 686.7L1927.5 686.2M1941.9 682.5L1927.5 686.2M1912 674.1L1908.7 676.5M1912 674.1L1923.4 674.1M1908.7 679.9L1908.7 676.5M1923.4 674.1L1927.5 686.2M1967.3 623.8L1968.2 636.1M1981.3 630.8L1973.7 638.2M1973.7 638.2L1968.2 636.1M1973.5 565.4L1964.9 571.4M1973.5 565.4L1974.5 558M1964.9 571.4L1959.8 560.4M1974.5 558L1967.7 554.8M1959.8 560.4L1967.7 554.8M2015.6 660.1L2019.2 653M2015.6 660.1L2018.6 672.2M2029.9 664L2026.7 649.8M2029.9 664L2020.6 672.4M2026.7 649.8L2019.2 653M2020.6 672.4L2018.6 672.2M2004 657.9L2015.6 660.1M2004 657.9L2003.6 649.1M2006.2 646.4L2019.2 653M2000.8 663.5L2004 657.9M2013.1 674.6L2018.6 672.2M2027.4 648.8L2026.7 649.8M2039.4 665.5L2029.9 664M2022.2 637.4L2008.5 636.3M2008.5 636.3L2008.4 636.3M2034.8 596.5L2031.8 600.3M2039 616.3L2029.4 605.8M2031.8 600.3L2029.4 605.8M2023.3 584.8L2015.5 593.6M2031.8 600.3L2015.5 593.6M2025.9 626.2L2012.6 623.6M2025.9 626.2L2027.3 624.7M2027.3 624.7L2019.8 609.9M2012.6 623.6L2010.5 615.6M2010.5 615.6L2011.6 610.7M2019.8 609.9L2014.1 609.2M2011.6 610.7L2014.1 609.2M2022.7 636.6L2025.9 626.2M2008.5 636.3L2012.6 623.6M2039.5 623L2027.3 624.7M2029.4 605.8L2019.8 609.9M1997.2 624.6L2010.5 615.6M1996 605.9L2011.6 610.7M1996 605.9L1990.7 610.1M2015.5 593.6L2013.8 594.6M2013.8 594.6L2014.1 609.2M2042.8 534.4L2051.6 534.8M2042.8 534.4L2037.6 543.2M2037.6 543.2L2043.4 551.8M2043.4 551.8L2050.9 546.5M2040.6 527.3L2042.8 534.4M2032.7 526L2023.6 534.3M2023.6 534.3L2024.4 541.9M2024.4 541.9L2037.6 543.2M2043.6 553.6L2043.4 551.8M2024.4 541.9L2023.5 542.9M2018.1 488.2L2015.5 479.3M2007.2 479L2013.9 478.2M2015.5 479.3L2013.9 478.2M2032.8 486.1L2033.2 479.6M2033.2 479.6L2031 477.4M2015.5 479.3L2031 477.4M2039.7 460.2L2030 467.6M2047.2 476.5L2033.2 479.6M2031 477.4L2030 467.6M2041.4 495.3L2050.8 486.9M2006.4 566.6L1997.5 570.1M1989.2 563.4L1989.7 565.4M1989.7 565.4L1997.5 570.1M1976 557.4L1974.5 558M1973.5 565.4L1981.4 576.5M1989.7 565.4L1981.4 576.5M1962.4 592.8L1962.5 590.1M1978.9 597.7L1980.6 593.1M1967.6 583.7L1976 583.6M1980.6 593.1L1976 583.6M1963.1 575.3L1964.9 571.4M1981.4 576.5L1981.4 577.8M1976 583.6L1981.4 577.8M2007.9 591.3L2006.4 582.3M2007.9 591.3L1996.1 596.6M2006.4 582.3L1995.7 580.5M1996.1 596.6L1993.3 593.2M1993.3 593.2L1993.6 581.9M1995.7 580.5L1993.6 581.9M2009.3 579L2006.4 582.3M2013.8 594.6L2007.9 591.3M1996 605.9L1996.1 596.6M1997.5 570.1L1995.7 580.5M1980.6 593.1L1993.3 593.2M1981.4 577.8L1993.6 581.9M2014.5 523.2L2002.6 531.3M2014.5 523.2L2015 520.6M2015 520.6L2007.2 514.7M2007.2 514.7L1997 517M1997 517L1997.8 529.3M2002.6 531.3L1997.8 529.3M2005.2 541.9L2002.6 531.3M2023.6 534.3L2014.5 523.2M2018.2 517.4L2015 520.6M2005.7 507.8L2007.2 514.7M1992.5 506.1L1994.6 514.5M1994.6 514.5L1997 517M1921.7 625.3L1923.1 637M1921.7 625.3L1911.9 624.4M1911.9 624.4L1910.6 625.3M1914.4 640L1907.1 636.5M1910.6 625.3L1907.1 636.5M1893 598L1894.5 604.7M1909.5 606.6L1897 606.2M1894.5 604.7L1897 606.2M1913 608.9L1911.9 624.4M1910.6 625.3L1899.7 620.5M1897 606.2L1899.7 620.5M1875 597.8L1874.7 598.4M1859.2 597.1L1859.7 597.9M1859.7 597.9L1874.7 598.4M1887 610.6L1894.5 604.7M1887 610.6L1874.9 606.4M1874.9 606.4L1874.7 598.4M1910 656.3L1908.2 655.6M1907.1 636.5L1901.7 640.4M1901.7 640.4L1901.3 643.2M1901.3 643.2L1908.2 655.6M1912.2 659.5L1912 674.1M1908.3 676.3L1908.7 676.5M1908.3 676.3L1899.4 661.6M1908.2 655.6L1899.4 661.6M1950.2 519.7L1957.8 514.9M1952.3 497.5L1959.6 503M1957.8 514.9L1959.6 503M1970.3 494.4L1969.2 503.1M1959.6 503L1969.2 503.1M1985.9 503L1976.4 508.6M1969.2 503.1L1976.4 508.6M1878.6 556.9L1878.8 541.6M1892 545.5L1890.2 544M1878.8 541.6L1890.2 544M1951.1 525.9L1949.6 521M1951.1 525.9L1947.6 532M1930.6 530.8L1932.9 532.9M1932.9 532.9L1947.6 532M1915.1 558.7L1922 556.1M1918.8 540.4L1922.7 548M1922 556.1L1922.7 548M1932.9 532.9L1936.4 543.8M1922.7 548L1936.4 543.8M1947.6 532L1949.1 540.8M1949.1 540.8L1940.2 547.1M1940.2 547.1L1936.4 543.8M1677.3 228.1L1670.1 236.6M1686.6 228.7L1679.6 243.4M1670.1 236.6L1670.9 240.9M1670.9 240.9L1678.3 244.1M1678.3 244.1L1679.6 243.4M1663.5 228.4L1670.1 236.6M1691.1 244.4L1679.6 243.4M1690 256.9L1683.7 259.6M1683.7 259.6L1679.1 253.7M1679.1 253.7L1678.3 244.1M1653.8 236.5L1652.9 240.4M1670.9 240.9L1664.3 245.1M1664.3 245.1L1652.9 240.4M1659.4 334.9L1653.9 342.2M1659.4 334.9L1658.5 326.4M1653.9 342.2L1644.5 333.6M1658.5 326.4L1646.9 326.8M1646.9 326.8L1644.5 333.6M1653.2 344.8L1653.9 342.2M1670.5 338.9L1659.4 334.9M1660.8 321.9L1658.5 326.4M1638.4 335.8L1644.5 333.6M1637.2 318.9L1646.9 326.8M1674.8 281.8L1687 286.5M1674.8 281.8L1681 268M1687 286.5L1690 272.2M1690 272.2L1682.5 267.2M1681 268L1682.5 267.2M1700.5 258.2L1702.5 269.6M1683.7 259.6L1682.5 267.2M1701.6 271.2L1702.5 269.6M1701.6 271.2L1690 272.2M1687.1 286.6L1683.8 295.8M1687.1 286.6L1698.1 288.4M1683.8 295.8L1691.4 300.9M1691.4 300.9L1703.5 297.8M1698.1 288.4L1703.6 297.1M1703.5 297.8L1703.6 297.1M1670.1 283.4L1674.8 281.8M1676.2 300.2L1683.8 295.8M1687 286.5L1687.1 286.6M1703.2 276L1701.6 271.2M1703.2 276L1698.1 288.4M1689.1 308.7L1691.4 300.9M1706.2 308.4L1703.5 297.8M1708.6 294.4L1714.8 282.5M1708.6 294.4L1703.6 297.1M1703.2 276L1714.8 282.5M1648.1 486.8L1659 491.7M1648.1 486.8L1643.1 495.4M1659 491.7L1653.3 503.7M1643.1 495.4L1643.8 500.2M1643.8 500.2L1649.9 505.2M1649.9 505.2L1653.3 503.7M1647.2 484.5L1653.2 472.8M1647.2 484.5L1648.1 486.8M1663.9 491.3L1659 491.7M1626.6 493.8L1643.1 495.4M1626.6 493.8L1637.6 480.9M1637.6 480.9L1647.2 484.5M1661.2 507.1L1653.3 503.7M1626.6 493.8L1625.5 494.2M1634 508.3L1643.8 500.2M1648.7 514.2L1649.9 505.2M1653.3 519.4L1660.4 514M1618.5 465.7L1626.9 476.7M1618.5 465.7L1626.3 462.3M1626.3 462.3L1635.7 469.9M1626.9 476.7L1634.4 475.6M1634.4 475.6L1635.7 469.9M1620 483.9L1626.9 476.7M1629.2 454.3L1626.3 462.3M1646 462.5L1635.7 469.9M1637.6 480.9L1634.4 475.6M1702 498.8L1707.9 507.3M1717.5 494.1L1717.6 503.4M1707.9 507.3L1717.6 503.4M1697.6 518.2L1708.7 518.1M1707.9 507.3L1708.7 518.1M1697.1 518.8L1696.5 529.6M1684.1 527.9L1683.1 522.4M1684.1 527.9L1692.5 533.1M1692.5 533.1L1696.5 529.6M1717.7 532.7L1713.7 529.3M1717.7 532.7L1719.2 540.3M1713.7 529.3L1706.5 534.4M1719.2 540.3L1709.5 548.3M1706.5 534.4L1703.8 542.3M1709.5 548.3L1703.8 542.3M1713 520.6L1708.7 518.1M1713 520.6L1713.7 529.3M1696.5 529.6L1706.5 534.4M1691.7 544.8L1691.2 544.6M1691.7 544.8L1703.8 542.3M1691.2 544.6L1692.5 533.1M1710.9 555.7L1709.5 548.3M1696 555.5L1691.7 544.8M1721.7 491.6L1724.4 492.7M1739.8 481.7L1739.7 488.3M1724.4 492.7L1739.7 488.3M1776.3 527.7L1766.1 532.8M1776.3 527.7L1786.1 534.3M1782.5 541.9L1786.1 534.3M1782.5 541.9L1768.5 542M1766.1 532.8L1766.3 541.2M1768.5 542L1766.3 541.2M1776.8 523.2L1776.3 527.7M1760.1 526.6L1766.1 532.8M1760.1 526.6L1761.5 519.7M1761.5 519.7L1768.1 516.4M1788.1 520.2L1788.3 533.3M1788.3 533.3L1786.1 534.3M1750.4 541.5L1746.9 533M1750.4 541.5L1759.9 547M1760.1 526.6L1749.8 528.9M1759.9 547L1766.3 541.2M1749.8 528.9L1746.9 533M1759.9 547L1759.5 550M1777.1 556.5L1772.2 559.9M1777.1 556.5L1768.5 542M1794.2 533.8L1804.4 526.6M1794.2 533.8L1797.8 542.5M1797.8 542.5L1801.6 544.2M1801.6 544.2L1808 540.7M1808 540.7L1809.9 532.9M1804.4 526.6L1809.9 532.9M1788.3 533.3L1794.2 533.8M1802.5 517.9L1804.9 519.8M1804.9 519.8L1804.4 526.6M1786.9 553.7L1797.8 542.5M1786.9 553.7L1782.5 541.9M1812.5 554.6L1804 554.4M1804 554.4L1801.6 544.2M1815.9 550L1808 540.7M1823.6 542.4L1822.9 535.5M1820.9 534.4L1822.9 535.5M1820.9 534.4L1809.9 532.9M1796.2 563.1L1784.6 574M1796.2 563.1L1795.6 560.1M1795.6 560.1L1786.8 554.5M1784.6 574L1781.5 569.1M1781.5 569.1L1785.9 555M1786.8 554.5L1785.9 555M1802.2 571.5L1796.2 563.1M1784.2 581.1L1784.6 574M1804 554.4L1795.6 560.1M1786.9 553.7L1786.8 554.5M1777.1 584.7L1770.7 582.3M1770.7 582.3L1770.1 566.6M1770.3 566.4L1781.5 569.1M1777.1 556.5L1785.9 555M1646 543.1L1636.5 547.2M1646 543.1L1653.7 557.4M1644.9 563.9L1653.7 557.4M1644.9 563.9L1634.2 553M1634.2 553L1636.5 547.2M1627.9 540.8L1636.5 547.2M1646.5 532.7L1646.4 542.3M1646.4 542.3L1646 543.1M1631.6 566.4L1642.1 570.3M1628.2 557.2L1634.2 553M1642.1 570.3L1644.9 563.9M1653.8 526.4L1664 529.8M1646.4 542.3L1665.7 542.3M1664 529.8L1665.7 542.3M1675.5 517.2L1668.3 527.6M1664 529.8L1668.3 527.6M1684.1 527.9L1679.2 535.7M1668.3 527.6L1679.2 535.7M1736.7 320.1L1726.3 318.5M1736.7 320.1L1738.2 333.8M1724.6 333L1722.5 323.3M1724.6 333L1730.6 334.7M1722.5 323.3L1726.3 318.5M1730.6 334.7L1738.2 333.8M1715.2 339.9L1715.7 340M1715.7 340L1724.6 333M1715.6 322.5L1722.5 323.3M1722 349L1728.4 349.6M1722 349L1715.7 340M1728.4 349.6L1730.6 334.7M1710 309.5L1723.6 307.2M1723.6 307.2L1726.3 318.5M1728.4 349.6L1732.4 351.9M1739.1 346.9L1741 335.5M1741 335.5L1738.2 333.8M1708.6 294.4L1723.2 297.1M1714.8 282.5L1717.8 281.8M1717.8 281.8L1727.3 288.7M1727.3 288.7L1723.2 297.1M1723.6 307.2L1724.6 305.7M1723.2 297.1L1724.6 305.7M1741.9 315.3L1736.7 320.1M1741.9 315.3L1733.4 305.2M1733.4 305.2L1724.6 305.7M1672.3 384.2L1669.3 398.3M1672.3 384.2L1673.8 383.7M1673.8 383.7L1683 391.8M1669.3 398.3L1680 401M1683 391.8L1682.8 399.1M1682.8 399.1L1680 401M1663.5 382.1L1672.3 384.2M1661.9 400.3L1669.3 398.3M1679.4 374.7L1673.8 383.7M1677.9 413.6L1666.8 415.7M1677.9 413.6L1680 401M1677.9 413.6L1682.9 418M1693.8 402L1692.7 412.4M1693.8 402L1682.8 399.1M1692.7 412.4L1682.9 418M1678.6 431.1L1683.5 421.6M1682.9 418L1683.5 421.6M1687.7 437.4L1693.3 437M1683.5 421.6L1695.5 427M1693.3 437L1695.5 427M1710 413.6L1700.3 418M1710 413.6L1711.7 415M1711.7 415L1712.4 430.6M1712.4 430.6L1710.9 431.9M1700.3 418L1697.7 425.6M1710.9 431.9L1697.7 425.6M1700.3 418L1692.7 412.4M1697.7 425.6L1695.5 427M1726.9 423.6L1720.8 430.7M1726.9 423.6L1739.1 432.3M1720.8 430.7L1724.6 437M1724.6 437L1729.6 438M1729.6 438L1739.1 432.3M1739.1 432.3L1739.1 432.3M1711.7 415L1725.6 415.4M1726.5 416.2L1726.9 423.6M1712.4 430.6L1720.8 430.7M1745.8 426.7L1739.1 432.3M1731.8 452.6L1729.6 438M1727.5 452.4L1718.2 446.8M1718.2 446.8L1724.6 437M1742.1 442.6L1739.1 432.3M1815.9 321.3L1809.4 323.3M1815.9 321.3L1823.4 307.1M1809.4 323.3L1804.9 320.3M1810.7 305.8L1805.1 317M1810.7 305.8L1822.7 306.4M1804.9 320.3L1805.1 317M1823.4 307.1L1822.7 306.4M1824.6 322.2L1815.9 321.3M1813.1 335.4L1809.4 323.3M1831.1 310.2L1823.4 307.1M1796.6 323.3L1804.9 320.3M1794.3 304L1805.1 317M1799.3 295.7L1799.6 295.7M1810.7 305.8L1808.9 300.6M1799.6 295.7L1808.9 300.6M1808.9 281.8L1809.1 282.1M1808.9 281.8L1799.1 280.2M1799.1 280.2L1790.5 288.2M1799.6 295.7L1809.1 282.1M1805.7 270.9L1799 256.6M1805.7 270.9L1808.3 272.2M1808.3 272.2L1816.1 264.4M1799 256.6L1812.6 258.1M1816.1 264.4L1814.6 259.3M1814.6 259.3L1812.6 258.1M1808.9 281.8L1808.3 272.2M1795.4 272.2L1799.1 280.2M1795.4 272.2L1805.7 270.9M2015.5 731.7L2020.1 728.5M2015.5 731.7L2006 722.6M2020.1 728.5L2020.3 715.7M2007 718.2L2006 722.6M2007 718.2L2018.8 714.7M2018.8 714.7L2020.3 715.7M2012.4 738L2015.5 731.7M2026.5 731.7L2020.1 728.5M2005.3 741.4L2001.3 738.4M1998 731.5L2006 722.6M2033.2 718.1L2023.8 715.4M2023.8 715.4L2020.3 715.7M1999.7 711.8L2007 718.2M2015.7 701.9L2007.5 698.7M2015.7 701.9L2018.8 714.7M2021.9 697.6L2021.1 689.9M2021.9 697.6L2033.5 698.6M2021.1 689.9L2028.1 680.6M2036 694.9L2030.2 681.3M2036 694.9L2034.4 698.4M2030.2 681.3L2028.1 680.6M2034.4 698.4L2033.5 698.6M2015.7 701.9L2021.9 697.6M2015 687L2021.1 689.9M2023.8 715.4L2033.5 698.6M2020.6 672.4L2028.1 680.6M2047.9 689.6L2036 694.9M2044 674.7L2030.2 681.3M2041.1 707.6L2034.4 698.4M2010.7 831.3L2009.8 830M2015.8 815.3L2024.6 816.9M2015.8 815.3L2009.5 821M2009.5 821L2009.8 830M2012.2 809L2023.1 795.9M2012.2 809L2003.3 804.9M2003.3 799.2L2003.3 804.9M2003.3 799.2L2020.2 792.4M2020.2 792.4L2023.3 793.9M2023.3 793.9L2023.1 795.9M2015.8 815.3L2012.2 809M2028.6 813.9L2023.1 795.9M2018.3 775.8L2012.6 781.6M2012.6 781.6L2020.2 792.4M2024.1 793.5L2023.3 793.9M2008.1 883.2L2002.1 868.3M1992.4 879.8L1993.8 871.4M1993.8 871.4L2002.1 868.3M2014.5 869L2002.4 867.8M2002.1 868.3L2002.4 867.8M2005.7 749.3L1996.8 755.8M1992 743.4L1988.1 752.7M1988.1 752.7L1996.8 755.8M2007.6 780.4L2003.6 769.9M2007.6 780.4L1998.8 787.7M1998.8 787.7L1988.8 772.6M2003.6 769.9L1997.7 767.7M1997.7 767.7L1989.4 771.4M1988.8 772.6L1989.4 771.4M2012.4 762.8L2003.6 769.9M2012.6 781.6L2007.6 780.4M1997.2 791.2L2003.3 799.2M1997.2 791.2L1998.8 787.7M1979.6 779.1L1988.8 772.6M1997.2 791.2L1986.8 793.3M1996.8 755.8L1997.7 767.7M1938.9 860.7L1949 850.2M1940.1 866.7L1945 869.3M1945 869.3L1960.1 858.6M1960.1 858.6L1958.2 854.6M1958.2 854.6L1949 850.2M1940.2 838.5L1948.6 847.8M1948.6 847.8L1949 850.2M1943.6 814.5L1930.9 825.6M1943.6 814.5L1947.9 816.2M1940.8 833.8L1943.6 832.4M1943.6 832.4L1947.9 816.2M1960.3 790.7L1964 801.3M1960.3 790.7L1954.8 789.5M1954.8 789.5L1949.3 798.6M1964 801.3L1954.5 803.4M1954.5 803.4L1949.3 798.6M1967.9 787L1960.3 790.7M1971.1 804L1964 801.3M1970 780.7L1962.3 775M1962.3 775L1951.4 781M1951.4 781L1954.8 789.5M1942.5 799.1L1939 787.2M1942.5 799.1L1949.3 798.6M1939 787.2L1945.2 778.7M1945.2 778.7L1951.4 781M1971.2 804.5L1970.3 817.2M1970.3 817.2L1960.5 819.6M1960.5 819.6L1954.2 815.6M1954.2 815.6L1954.5 803.4M1938.2 803.5L1942.5 799.1M1938.2 803.5L1937.8 804.6M1943.6 814.5L1937.8 804.6M1947.9 816.2L1954.2 815.6M1899.5 771.6L1890.3 761.5M1899.5 771.6L1897 779.9M1885.9 778.3L1880.8 765.1M1885.9 778.3L1896.3 780.3M1897 779.9L1896.3 780.3M1937.8 804.6L1926.1 809.4M1930.1 825.4L1925.3 812.2M1926.1 809.4L1925.3 812.2M1903.5 846.9L1895.4 842.2M1886.3 852.2L1886 845.4M1895.4 842.2L1886 845.4M1869.8 844.3L1881.6 842.7M1869.8 844.3L1875 857M1875 857L1878.1 859.1M1886 845.4L1881.6 842.7M1831.5 811.2L1843.3 815.8M1831.5 811.2L1826 819.2M1832.9 830.2L1827.5 828.8M1832.9 830.2L1837.5 827.7M1827.5 828.8L1826 819.2M1837.5 827.7L1843.3 815.8M1920.1 716.9L1917.1 724.5M1901.9 723L1911.6 728M1911.6 728L1917.1 724.5M1906 740.2L1913.4 737.4M1911.6 728L1913.4 737.4M1933 725.8L1926.5 732.1M1917.1 724.5L1926.5 732.1M1849.6 803.6L1866.1 809.7M1849.6 803.6L1846.4 815M1857.6 823.8L1846.4 815M1857.6 823.8L1865.2 818.4M1866.1 809.7L1865.2 818.4M1859.8 793.6L1849.6 803.5M1859.8 793.6L1848.6 784.5M1847.7 784.7L1848.6 784.5M1847.7 784.7L1842.5 795.9M1849.6 803.5L1843.5 798.3M1842.5 795.9L1843.5 798.3M1865.3 793.2L1859.8 793.6M1871.4 799L1871.2 802.4M1849.6 803.6L1849.6 803.5M1871.2 802.4L1866.1 809.7M1831.1 809.5L1843.5 798.3M1831.1 809.5L1831.5 811.2M1846.4 815L1843.3 815.8M1855.3 777.7L1852.6 766.5M1855.3 777.7L1866.2 780M1869.4 769L1866.2 780M1869.4 769L1859.6 764.1M1859.6 764.1L1852.6 766.5M1866.6 780.6L1866.2 780M1848.6 784.5L1855.3 777.7M1882.1 782.2L1885.9 778.3M1878.7 763.9L1869.4 769M1863 753.8L1859.6 764.1M1846.6 752.3L1846.5 752.7M1852.6 766.5L1850.6 765.5M1846.5 752.7L1850.6 765.5M1839 778.4L1847.7 784.7M1839 778.4L1846.6 767.4M1846.6 767.4L1850.6 765.5M1728.5 702.3L1734.1 698.3M1740.7 712.3L1734.3 714.6M1740.7 712.3L1747 698.7M1734.1 698.3L1747 698.7M1744.2 652.7L1743.9 657.5M1763.6 662.4L1748.2 663.3M1748.2 663.3L1745.2 660.4M1743.9 657.5L1745.2 660.4M1723.6 650.4L1729.7 660.1M1743.9 657.5L1729.7 660.1M1716.4 662.1L1726.2 666.2M1729.7 660.1L1726.2 666.2M1784.5 660.6L1783 669.3M1783 669.3L1773.2 676M1765.2 663.1L1766 667.8M1773.2 676L1766 667.8M1748.2 663.3L1749.4 673.5M1749.4 673.5L1756.3 678.2M1766 667.8L1756.3 678.2M1740.7 712.3L1748.6 715.1M1741 727.9L1749.8 722.5M1748.6 715.1L1749.8 722.5M1751.1 739.6L1755.7 738.5M1755.7 738.5L1756.9 725.9M1749.8 722.5L1756.9 725.9M1786.4 709L1797.7 712.5M1786.4 709L1781.4 713.5M1797.7 712.5L1799.9 721.8M1787.3 727.3L1783.6 724.4M1781.4 713.5L1783.6 724.4M1770.7 737.4L1772.1 730.7M1770.7 737.4L1781.2 745.2M1781.2 745.2L1789.5 737.6M1783.6 724.4L1772.1 730.7M1831.1 809.5L1825.1 802.2M1842.5 795.9L1829.8 792.3M1829.8 792.3L1825.1 802.2M1820.3 732.6L1827.5 726.8M1820.3 732.6L1818.2 739.6M1827.5 726.8L1837.9 733.4M1839.9 741.2L1825.3 747M1825.3 747L1818.2 739.6M1810.3 722.5L1820.3 732.6M1810.3 722.5L1803.3 724.2M1802.6 737.3L1813.8 740.7M1813.8 740.7L1818.2 739.6M1746.9 749.7L1755.1 758.6M1760.6 740.7L1755.7 738.5M1760.6 740.7L1762.9 753.5M1762.9 753.5L1755.1 758.6M1754.3 803.8L1771.7 804.3M1768 819.6L1768.9 818.8M1771.7 804.3L1768.9 818.8M1786.4 830.6L1785.2 818.2M1768.9 818.8L1785.2 818.2M1647 648.7L1640.8 650.7M1651.3 663.9L1639.9 656.2M1639.9 656.2L1640.8 650.7M1636.8 672.6L1634.6 671.8M1634.6 671.8L1632.6 666.5M1639.9 656.2L1632.6 666.5M1633 638L1634.4 645.7M1634.4 645.7L1640.8 650.7M1844.7 725.4L1843.1 717M1827.5 726.8L1828.7 719.1M1843.1 717L1835.6 714.6M1828.7 719.1L1835.6 714.6M1908.3 676.3L1891.9 675.8M1898.5 689.8L1892.4 688.5M1891.9 675.8L1891.1 677M1891.1 677L1892.4 688.5M1896.6 704.5L1886.4 696.3M1886.4 696.3L1886.2 695.2M1892.4 688.5L1886.2 695.2M1770.7 582.3L1765.7 583.6M1756 565.9L1755.8 579.7M1765.7 583.6L1755.8 579.7M1777.2 598.3L1761.4 596.3M1765.7 583.6L1761.4 596.3M1758.7 602.1L1758.3 599.8M1761.4 596.3L1758.3 599.8M1748.4 611.5L1741.8 609.9M1749.1 594.6L1758.3 599.8M1749.1 594.6L1740.6 601.1M1740.6 601.1L1741.8 609.9M1733.7 619.9L1734.6 616.4M1715.3 611.9L1717.7 620M1715.3 611.9L1727 608.1M1727 608.1L1734.6 616.4M1741.8 609.9L1734.6 616.4M1706 584.7L1715.6 585.4M1721.2 568.2L1721.8 569M1715.6 585.4L1721.8 569M1740.7 549.4L1733.6 542.5M1740.7 549.4L1741.8 556.7M1741.8 556.7L1739 557.8M1739 557.8L1724.1 554.6M1733.6 542.5L1726.2 546.4M1726.2 546.4L1724.1 554.6M1750.4 541.5L1740.7 549.4M1746.9 533L1735.7 534.1M1735.7 534.1L1733.6 542.5M1751.9 560.8L1749.3 560.8M1749.3 560.8L1741.8 556.7M1719.2 559.4L1724.1 554.6M1721.8 569L1730 571.6M1730 571.6L1739 557.8M1717.7 532.7L1732.7 530.7M1719.2 540.3L1726.2 546.4M1732.7 530.7L1735.7 534.1M1901.6 753.1L1907 756.8M1899.5 771.6L1908.9 762.4M1907 756.8L1908.9 762.4M1931.9 323.8L1935.3 316.7M1924.7 312.8L1918.2 319.5M1924.7 312.8L1935.1 314.1M1935.3 316.7L1935.1 314.1M1989.5 256.8L1977.8 255.7M1989.5 256.8L1995.1 246.6M1977.1 252.2L1977.8 255.7M1977.1 252.2L1983.3 240.9M1983.3 240.9L1995.1 246.6M2038.4 234.6L2029.4 236.8M2029.4 236.8L2024 231.6M1764.2 321.6L1763.3 330.4M1764.2 321.6L1760.5 317.7M1760.5 317.7L1751.1 321.2M1751.1 321.2L1748.9 334.5M1763.3 330.4L1753.7 337.2M1753.7 337.2L1748.9 334.5M1774 336.8L1763.3 330.4M1772.2 321.2L1764.2 321.6M1763 305.7L1761.2 307.5M1761.2 307.5L1760.5 317.7M1761.2 307.5L1749 305.5M1742.5 315.2L1751.1 321.2M1742.5 315.2L1749 305.5M1741.9 315.3L1742.5 315.2M1741 335.5L1748.9 334.5M1757.3 345.8L1753.7 337.2M1840.8 232.5L1835 240.1M1844.1 231.3L1848.4 245M1848.4 245L1842.7 248.7M1835 240.1L1842.7 248.7M1772.6 294.7L1772.7 284.7M1790 288.1L1784.7 280M1784.7 280L1772.7 284.7M1712.3 235.8L1718.6 226.7M1744.6 232.5L1743.9 243.8M1743.9 243.8L1738.5 244.2M1738.5 244.2L1730.3 238.3M1730.3 238.3L1730.5 232M1714.7 242.8L1722.7 243.7M1722.7 243.7L1730.3 238.3M1731.4 269.9L1730.9 270.6M1731.4 269.9L1734.2 258.7M1730.9 270.6L1721.3 271M1734.2 258.7L1725.1 255.3M1725.1 255.3L1718 260.2M1721.3 271L1717 266M1717 266L1718 260.2M1722.7 243.7L1725.1 255.3M1734.4 258.6L1738.5 244.2M1734.4 258.6L1734.2 258.7M1707 250.1L1718 260.2M1717.8 281.8L1721.3 271M1702.5 269.6L1717 266M1893.2 309.4L1901.8 303.5M1893.2 309.4L1899.7 318.6M1901.8 303.5L1911.1 307.8M1899.7 318.6L1902.1 319.6M1902.1 319.6L1910.8 316.7M1911.1 307.8L1910.8 316.7M1888.1 297.6L1889.4 308.6M1888.1 297.6L1894.5 289.2M1889.4 308.6L1893.2 309.4M1894.5 289.2L1902.3 299.8M1902.3 299.8L1901.8 303.5M1882.3 323.1L1889.6 328M1885.8 310.4L1889.4 308.6M1889.6 328L1899.7 318.6M1919.6 300.2L1919.3 301.1M1919.6 300.2L1909 294.6M1919.3 301.1L1911.1 307.8M1909 294.6L1902.3 299.8M1904.6 334.8L1892.7 337.1M1904.6 334.8L1902.1 319.6M1889.6 328L1892.7 337.1M1919.3 301.1L1924.7 312.8M1916.4 320.4L1910.8 316.7M1917.5 333.7L1917 334.4M1904.6 334.8L1910 337M1910 337L1917 334.4M1905.2 395.3L1905.3 388.1M1899 400.6L1891.5 390.8M1891.5 390.8L1897.8 379.8M1897.8 379.8L1905.3 388.1M1921.7 395.4L1914.6 382.6M1905.3 388.1L1914.6 382.6M1891.6 348.5L1890.5 350.5M1891.6 348.5L1890.7 340M1890.5 350.5L1875.1 353.3M1890.7 340L1875.6 338.8M1875.6 338.8L1875.1 353.3M1874.7 353.8L1875.1 353.3M1891.1 356.8L1890.5 350.5M1891.1 356.8L1878.2 365.8M1878.2 365.8L1874.3 361.6M1873.5 336.7L1875.6 338.8M1892.7 337.1L1890.7 340M2050.4 279.7L2043.5 288.9M2041.7 269.9L2031.7 282.7M2031.7 282.7L2043.5 288.9M2053.3 296L2044.2 292.5M2039.7 303.7L2039.1 300.6M2039.1 300.6L2044.2 292.5M2043.5 288.9L2044.2 292.5M2021.2 324.4L2016.2 319.3M2029.8 313.8L2021.4 305.8M2021.4 305.8L2014.7 308.4M2016.2 319.3L2014.7 308.4M2005.6 334.9L2002.5 322.9M2016.2 319.3L2002.5 322.9M1989.5 337.4L1989 326M1989 326L2001 321.1M2002.5 322.9L2001 321.1M2036.5 256.3L2036.4 249.2M2036.5 256.3L2025.8 260.5M2036.4 249.2L2028.9 244.1M2022.7 256.3L2025.8 260.5M2022.7 256.3L2023.9 248.5M2023.9 248.5L2028.9 244.1M2044.1 261.6L2036.5 256.3M2045.4 244.3L2036.4 249.2M2041.6 269.4L2025.6 266.6M2025.6 266.6L2025.8 260.5M2029.4 236.8L2028.9 244.1M2025.6 266.6L2025 267.5M2015.1 256.4L2011.8 268.3M2015.1 256.4L2022.7 256.3M2025 267.5L2011.8 268.3M2011.5 242.1L2006.4 245.3M2011.5 242.1L2023.9 248.5M2006.4 245.3L2007.4 252.1M2007.4 252.1L2015.1 256.4M2011.5 242.1L2015 235.5M2024 231.6L2015 235.5M1783.4 867.4L1785.9 865.5M1783.4 867.4L1776.3 867.2M1776.3 867.2L1772.2 858.5M1786 864.2L1783.4 854.2M1786 864.2L1785.9 865.5M1772.2 858.5L1783.4 854.2M1768.8 870.9L1776.3 867.2M1771.7 885.6L1781.8 878.9M1781.8 878.9L1783.4 867.4M1765.8 855.9L1772.2 858.5M1760.2 863.7L1759.3 859.9M1783.8 850.3L1783.4 854.2M1796.7 848.6L1799.9 854.8M1799.9 854.8L1786 864.2M1802.9 834L1803.5 833.2M1803.5 833.2L1798.6 817.3M1785.2 818.2L1787.1 815.8M1798.6 817.3L1787.1 815.8M1744.8 868.6L1746 856.3M1744.8 868.6L1737 877M1742.5 856.4L1746 856.3M1742.5 856.4L1728.6 862.3M1737 877L1735.7 877M1735.7 877L1727.5 865.5M1727.5 865.5L1728.6 862.3M1754.4 873.4L1744.8 868.6M1749.7 854.3L1746 856.3M1747.3 883.6L1737 877M1728.9 885.7L1735.7 877M1716.7 869.8L1727.5 865.5M1719.4 850.3L1722.9 850.7M1722.9 850.7L1728.6 862.3M1728.6 835.3L1738.9 828.3M1728.6 835.3L1729.3 841.9M1729.3 841.9L1730.5 842.5M1730.5 842.5L1748.3 843M1738.9 828.3L1745.8 832.7M1745.8 832.7L1748.3 843M1738.9 824.1L1738.9 828.3M1719.6 830.1L1728.6 835.3M1722.9 850.7L1729.3 841.9M1742.5 856.4L1730.5 842.5M1750.5 845.9L1748.3 843M1754.2 828.5L1745.8 832.7M1847.3 842.1L1862.4 849.2M1847.3 842.1L1852.4 832.4M1852.4 832.4L1856.6 829.3M1856.6 829.3L1867.1 839.7M1862.4 849.2L1868.7 844M1868.7 844L1867.1 839.7M1832.9 830.2L1840.2 846.3M1840.2 846.3L1840.9 846.6M1840.9 846.6L1847.3 842.1M1837.5 827.7L1852.4 832.4M1857.6 823.8L1856.6 829.3M1844.5 899.8L1848.5 893.1M1848.5 893.1L1852.1 894.7M1876.5 886.4L1872.2 884.9M1872.2 884.9L1867.1 886.5M1867.1 886.5L1862 894M1659.5 763.6L1658 767.3M1646.1 750.7L1639.2 758M1638.8 762.8L1648.6 771.8M1648.6 771.8L1658 767.3M1672.1 777L1664.6 776.3M1658 767.3L1664.6 776.3M1631.2 779.7L1638.7 784.9M1648.6 771.8L1648 776.3M1638.7 784.9L1648 776.3M1664.6 776.3L1657.5 784.8M1648 776.3L1657.5 784.8M1663.3 792.7L1674.1 797.6M1663.3 792.7L1662 792.8M1662 792.8L1656 803.8M1669.1 808L1674.5 803.9M1669.1 808L1657.7 806.6M1657.7 806.6L1656 803.8M1674.5 803.9L1674.1 797.6M1684.7 787.8L1674.1 797.6M1674.1 780.7L1663.3 792.7M1657.7 787L1657.5 784.8M1657.7 787L1662 792.8M1684.8 810.1L1674.5 803.9M1671.2 821.2L1669.1 808M1656.4 820L1657.7 806.6M1624.6 728.8L1627.9 721.9M1624.6 728.8L1631 738M1627.9 721.9L1642.2 728.1M1642.2 728.1L1632.4 737.9M1631 738L1632.4 737.9M1630.2 739.1L1631 738M1618.6 729.5L1624.6 728.8M1646.3 747.7L1632.4 737.9M1642.8 727.9L1642.2 728.1M1699.2 710.9L1702.8 711.7M1699.2 710.9L1690.7 714.4M1702.8 711.7L1708.4 725.4M1690.7 714.4L1692.1 720.6M1692.1 720.6L1699.9 729.2M1708.4 725.4L1699.9 729.2M1700 697.7L1699.2 710.9M1711.4 707.7L1702.8 711.7M1687.5 712.3L1690.7 714.4M1711.3 725.4L1708.4 725.4M1681.5 730L1692.1 720.6M1697.2 737.5L1699.9 729.2M1689.4 619.7L1699.1 623.2M1689.4 619.7L1688.1 609.7M1699.1 623.2L1705.6 611.4M1688.1 609.7L1689.2 607M1689.2 607L1701.7 605.2M1701.7 605.2L1705.6 611.4M1685.3 622.7L1689.4 619.7M1699.5 623.8L1699.1 623.2M1673.6 609.2L1688.1 609.7M1715 611.7L1705.6 611.4M1715 611.7L1715.3 611.9M1686.9 598.4L1689.2 607M1701.7 593.1L1704 599.3M1704 599.3L1701.7 605.2M1704 599.3L1715.5 600M1715.5 600L1715 611.7M1644.9 593.4L1645.8 585.7M1644.9 593.4L1637.4 599M1633 595.5L1637.4 599M1633 595.5L1637.3 581.9M1645.8 585.7L1639.5 581M1637.3 581.9L1639.5 581M1651.3 600.4L1644.9 593.4M1655.1 586.2L1645.8 585.7M1640.4 607.1L1637.4 599M1622 597.5L1633 595.5M1627.6 580.4L1637.3 581.9M1642.3 571.3L1658.1 575.2M1642.3 571.3L1639.5 581M1642.3 571.3L1642.1 570.3M1684.3 893.7L1677 896.8M1811.6 516.5L1816.6 505.1M1811.6 516.5L1818.1 519.6M1818.1 519.6L1832.9 519M1816.6 505.1L1817.1 504.7M1817.1 504.7L1825.8 508.3M1832.9 519L1825.8 508.3M1796 505L1800.7 500.2M1804.9 519.8L1811.6 516.5M1800.7 500.2L1816.6 505.1M1820.9 534.4L1818.1 519.6M1800.7 500.2L1802.3 493.2M1813.3 488.9L1818.6 497.9M1818.6 497.9L1817.1 504.7M1846.5 556.8L1847.2 545.8M1863 554.6L1855.2 539.7M1855.2 539.7L1847.2 545.8M1832.5 547.6L1839.2 541.4M1847.2 545.8L1839.2 541.4M1822.9 535.5L1835 526.5M1832.9 519L1833.3 519.2M1833.3 519.2L1835 526.5M1839.2 541.4L1839.7 529.7M1835 526.5L1839.7 529.7M1855.2 539.7L1855.7 537.1M1855.7 537.1L1839.8 529.7M1839.7 529.7L1839.8 529.7M1936.4 470.7L1930.3 463.7M1939.8 447.6L1929.2 455.5M1930.3 463.7L1929.2 455.5M1923.4 494.4L1914.9 492.1M1910.1 505.1L1913.9 493M1914.9 492.1L1913.9 493M1934.1 439.1L1919.9 443.8M1929.2 455.5L1920 453.4M1919.9 443.8L1920 453.4M1917.4 432.1L1914.2 437.3M1919.9 443.8L1914.2 437.3M1818.6 497.9L1831.1 493.9M1825.8 508.3L1833.4 500.4M1831.1 493.9L1833.4 500.4M1790.2 630L1793.2 633.3M1789 648.6L1794.3 640.7M1793.2 633.3L1794.3 640.7M1807.2 619.4L1809.6 626.9M1807.2 619.4L1814.9 611.3M1809.6 626.9L1821 626.2M1821 626.2L1823.6 619.3M1823.6 619.3L1822.4 612.3M1814.9 611.3L1821.2 611.2M1821.2 611.2L1822.4 612.3M1799.8 616.6L1807.2 619.4M1808 629.8L1793.2 633.3M1808 629.8L1809.6 626.9M1807.2 604L1814.9 611.3M1822.6 600.2L1821.2 611.2M1838.3 598.7L1837.9 609.5M1837.9 609.5L1822.4 612.3M1766.8 460.1L1774.2 472.8M1774.8 451.5L1780.6 460.9M1774.2 472.8L1780.6 460.9M1758.8 477.4L1759.2 477.9M1759.2 477.9L1760.4 478.3M1760.4 478.3L1774.1 474.7M1774.2 472.8L1774.1 474.7M1797.4 453.1L1797.9 462.5M1797.9 462.5L1791.3 465.5M1780.6 460.9L1791.3 465.5M1777.9 487.2L1781.5 479.6M1777.9 487.2L1786.4 498.3M1786.4 498.3L1792.8 484.5M1792.8 484.5L1785.4 479.1M1785.4 479.1L1781.5 479.6M1770.2 492.5L1777.9 487.2M1770.2 492.5L1765.6 488.2M1765.6 488.2L1760.4 478.3M1774.1 474.7L1781.5 479.6M1770.2 501.6L1773.8 504.9M1770.2 501.6L1770.2 492.5M1786.4 503.8L1786.4 498.3M1794.5 484.7L1792.8 484.5M1797.9 462.5L1802.2 465.3M1804.8 475.7L1802.2 465.3M1791.3 465.5L1785.4 479.1M1805.2 447.8L1815.6 451M1810.1 463L1802.2 465.3M1810.1 463L1817.8 454.9M1817.8 454.9L1815.6 451M1804.6 398.7L1814.6 405.8M1804.3 417.9L1813.9 416.2M1814.6 405.8L1813.9 416.2M1965 354.4L1973.4 359.9M1965 354.4L1956.2 362.7M1956.2 362.7L1957.5 371.1M1973.9 361.2L1973.4 359.9M1973.9 361.2L1961.9 374.1M1957.5 371.1L1961.5 374.1M1961.5 374.1L1961.9 374.1M1984.1 347L1973.4 359.9M1964.8 347.7L1964 348.8M1964 348.8L1965 354.4M1947.4 374.3L1957.5 371.1M1938.2 369.1L1937.5 362.1M1947.2 357.4L1937.5 362.1M1947.2 357.4L1956.2 362.7M1982.1 368.3L1973.9 361.2M1978.1 379.3L1961.9 374.1M1959.5 385.3L1961.5 374.1M1948.6 349.8L1937.2 342.3M1948.6 349.8L1953.9 345.8M1953.9 345.8L1952.1 334.7M1938.1 335.9L1937.2 342.3M1938.1 335.9L1946.1 332.1M1946.1 332.1L1952.1 334.7M1947.2 357.4L1948.6 349.8M1937.5 362.1L1934.9 360.2M1934.9 360.2L1932.7 347M1932.7 347L1937.2 342.3M1964 348.8L1953.9 345.8M1966.8 335.8L1957.3 332.5M1957.3 332.5L1952.1 334.7M1932.7 347L1924.3 346.1M1931.2 330.8L1938.1 335.9M1924.3 346.1L1917 334.4M1935.3 316.7L1946.2 325.8M1946.2 325.8L1946.1 332.1M2014.7 308.4L2007.9 306.5M2001 321.1L1999.4 310.4M2007.9 306.5L1999.4 310.4M1989 326L1984.8 322.5M1991.1 306.5L1999.4 310.4M1991.1 306.5L1983.7 310.3M1983.7 310.3L1984.8 322.5M1973.3 331.8L1973.5 329.6M1984.8 322.5L1973.5 329.6M1988.6 445.3L1994.5 435.4M1988.6 445.3L1976.5 439.1M1994.5 435.4L1990 427.1M1976.5 439.1L1980.2 428.1M1990 427.1L1984 426.7M1980.2 428.1L1984 426.7M1975.7 458L1989.8 452.7M1969.9 444.3L1976.5 439.1M1989.8 452.7L1988.6 445.3M1973.6 424.8L1980.2 428.1M1982 413.6L1984 426.7M1989.8 452.7L1991 453.3M2003.7 440.4L2004.2 446.8M2003.7 440.4L2002.4 438.2M2002.4 438.2L1994.5 435.4M2004.2 446.8L1991 453.3M1997.9 466.4L1998.2 465.5M1998.2 465.5L1991 453.3M2002.4 438.2L2009.7 426.9M1990 427.1L1994.2 422.7M1994.2 422.7L2009.7 426.9M1989.4 407.1L1990.6 407.6M1990.6 407.6L1996.2 416.1M1994.2 422.7L1996.2 416.1M2018.6 362.7L2017.1 377.2M2031.5 375L2021.5 380.9M2021.5 380.9L2017.1 377.2M2002.2 374.2L2008.2 377.2M2008.2 377.2L2017.1 377.2M2040.5 457.2L2038.6 452.4M2038.6 452.4L2048.6 442.3M1934.9 587.6L1946.9 586.9M1946.9 586.9L1948.5 599.1M1932.8 591.8L1935.2 596M1935.2 596L1948.5 599.1M1946.9 586.9L1948.9 585.3M1953.6 602.7L1951.2 602.8M1948.5 599.1L1951.2 602.8M1938.6 628.3L1928.6 623.2M1938.6 628.3L1946 622.5M1946 622.5L1944.1 610.5M1928.6 623.2L1928 610.5M1944.1 610.5L1935.8 607.1M1928 610.5L1935.8 607.1M1921.7 625.3L1928.6 623.2M1938.5 632.4L1938.6 628.3M1938.5 632.4L1929.5 640.7M1951.6 623.2L1958.2 619.9M1951.6 623.2L1946 622.5M1951.2 602.8L1944.1 610.5M1920.9 606.2L1928 610.5M1935.2 596L1935.8 607.1M1941.9 682.5L1942.1 673.7M1923.4 674.1L1930.5 667.3M1930.5 667.3L1942.1 673.7M1927.3 659.9L1930.1 662.2M1930.5 667.3L1930.1 662.2M1959.5 676.3L1944 672.5M1944 672.5L1942.1 673.7M1929 643.3L1936.9 651.3M1936.9 651.3L1935.1 657.5M1930.1 662.2L1935.1 657.5M1989.6 647.9L1987.8 649.1M1973.7 638.2L1975.5 642.7M1975.5 642.7L1987.8 649.1M1975.8 671.8L1975.5 663.8M1990.4 661.8L1986.4 658.4M1986.4 658.4L1975.5 663.8M1986.4 658.4L1987.8 649.1M1951.6 623.2L1956.9 632.4M1968.2 636.1L1966 636.7M1956.9 632.4L1966 636.7M1938.5 632.4L1947.2 644.2M1956.9 632.4L1947.2 644.2M1936.9 651.3L1947.2 644.5M1947.2 644.2L1947.2 644.5M2020.9 462.5L2016 469.3M2020.9 462.5L2018.6 454.8M2016 469.3L2002.9 462.9M2018.6 454.8L2017 453.8M2017 453.8L2011.6 453.8M2011.6 453.8L2002.9 462.9M2013.9 478.2L2016 469.3M2030 467.6L2020.9 462.5M2033.4 449.3L2038.6 452.4M2033.4 449.3L2018.6 454.8M1998.2 465.5L2002.9 462.9M2018.6 438.3L2017 453.8M2018.6 438.3L2022.2 433M2022.2 433L2032 442.2M2033.4 449.3L2032 442.2M2018.6 438.3L2003.7 440.4M2004.2 446.8L2011.6 453.8M1984.6 544.4L1984.5 544.2M1997.8 529.3L1993.5 530M1984.5 544.2L1993.5 530M1866.9 554.1L1872 537.2M1855.7 537.1L1862 531.7M1862 531.7L1872 537.2M1878.8 541.6L1874.2 536.8M1872 537.2L1874.2 536.8M1934.2 569.6L1948.6 571.1M1934.2 569.6L1932.2 561.9M1932.2 561.9L1940.5 551.6M1940.5 551.6L1950.6 556.5M1948.6 571.1L1952.9 561M1952.9 561L1950.6 556.5M1933.7 570.4L1934.2 569.6M1950.2 573.1L1948.6 571.1M1922 556.1L1932.2 561.9M1940.2 547.1L1940.5 551.6M1958.6 544.1L1950.6 556.5M1958.6 544.1L1949.1 540.8M1959.8 560.4L1952.9 561M1670.1 257.1L1670.6 266.5M1670.1 257.1L1662.6 253.6M1662.6 253.6L1653.4 261.8M1662.4 270.2L1654.3 265.1M1662.4 270.2L1670.6 266.5M1654.3 265.1L1653.4 261.8M1679.1 253.7L1670.1 257.1M1681 268L1670.6 266.5M1664.3 245.1L1662.6 253.6M1645.9 276.5L1654.3 265.1M1666 282L1662.4 270.2M1648.9 258.4L1646.7 243.8M1648.9 258.4L1637 259.8M1637 259.8L1634.2 256.1M1634.2 256.1L1633.1 246.2M1633.1 246.2L1639.9 240.8M1639.9 240.8L1646.7 243.8M1652.9 240.4L1646.7 243.8M1653.4 261.8L1648.9 258.4M1632.6 267.5L1637 259.8M1618.7 256.6L1634.2 256.1M1621.6 244.9L1633.1 246.2M1637.6 233.3L1639.9 240.8M1720.9 509.7L1715.8 518.9M1720.9 509.7L1733.4 507.5M1715.8 518.9L1732.5 521.6M1733.4 507.5L1732.6 521.5M1732.6 521.5L1732.5 521.6M1713 520.6L1715.8 518.9M1717.6 503.4L1720.9 509.7M1724.4 492.7L1733.9 507M1733.9 507L1733.4 507.5M1732.7 530.7L1732.5 521.6M1749.8 528.9L1745.6 520.1M1745.6 520.1L1732.6 521.5M1751.3 492.3L1755.3 496.1M1751.3 492.3L1743 492.9M1743 492.9L1740.3 505M1755.3 496.1L1758.5 503.3M1740.3 505L1748.4 510M1748.4 510L1753.6 509.3M1753.6 509.3L1758.5 503.3M1765.6 488.2L1755.3 496.1M1759.2 477.9L1751.3 492.3M1739.7 488.3L1743 492.9M1733.9 507L1740.3 505M1770.2 501.6L1758.5 503.3M1745.6 520.1L1748.4 510M1761.5 519.7L1753.6 509.3M1681.1 545.7L1680.3 554.4M1681.1 545.7L1680.3 545.2M1680.3 545.2L1667.7 545.1M1680.3 554.4L1662.2 561M1667.7 545.1L1660.5 558.8M1662.2 561L1660.5 558.8M1681.5 558.7L1680.3 554.4M1691.2 544.6L1681.1 545.7M1679.2 535.7L1680.3 545.2M1665.7 542.3L1667.7 545.1M1664.7 566.8L1662.2 561M1653.7 557.4L1660.5 558.8M1734.7 282.5L1744.9 282.7M1734.7 282.5L1729.1 288.1M1729.1 288.1L1739.4 298.6M1744.9 282.7L1747.4 293.4M1747.4 293.4L1745.1 297.9M1745.1 297.9L1739.4 298.6M1727.3 288.7L1729.1 288.1M1730.9 270.6L1734.7 282.5M1733.4 305.2L1739.4 298.6M1765.2 298.4L1759.8 293.2M1759.8 293.2L1747.4 293.4M1749 305.5L1745.1 297.9M1709.3 437.1L1698.3 442.1M1709.3 437.1L1716.3 446.9M1709.2 455.2L1716.3 446.9M1709.2 455.2L1698.1 445.7M1698.1 445.7L1698.3 442.1M1693.3 437L1698.3 442.1M1710.9 431.9L1709.3 437.1M1718.2 446.8L1716.3 446.9M1708.9 462.1L1709.2 455.2M1689.7 454.9L1698.1 445.7M1835.7 291.9L1836.2 290.1M1835.7 291.9L1823.4 295.3M1836.2 290.1L1824.8 277.7M1823.4 295.3L1817.1 290.9M1824.8 277.7L1815.6 284.5M1817.1 290.9L1815.6 284.5M1845.4 303.7L1852.3 292.1M1840.6 305.3L1835.7 291.9M1852.3 292.1L1843.9 284.5M1843.9 284.5L1843.5 284.5M1843.5 284.5L1836.2 290.1M1822.7 306.4L1823.4 295.3M1808.9 300.6L1817.1 290.9M1809.1 282.1L1815.6 284.5M1816.1 264.4L1826.4 271.4M1826.4 271.4L1824.8 277.7M1827.1 271L1839.8 273.7M1827.1 271L1834.5 257.2M1839.8 273.7L1848.8 263.8M1848.8 263.8L1839.5 256.7M1834.5 257.2L1839.5 256.7M1843.5 284.5L1839.8 273.7M1826.4 271.4L1827.1 271M1814.6 259.3L1826.4 250.2M1826.4 250.2L1834.5 257.2M1835 240.1L1825.5 242.9M1825.5 242.9L1826.4 250.2M1842.7 248.7L1839.5 256.7M1734.1 392.9L1722.2 385.7M1726.9 402.3L1717.9 397.3M1722.2 385.7L1719 389.2M1717.9 397.3L1719 389.2M1710 413.6L1708.2 402.4M1717.9 397.3L1708.2 402.4M1693.8 402L1701.4 398.5M1708.2 402.4L1701.4 398.5M1732 379.2L1726.9 379M1722.2 385.7L1723.6 380.5M1726.9 379L1723.6 380.5M1733.8 361.9L1728.7 364.1M1726.9 379L1728.7 364.1M1988.7 807.5L1989.4 808.8M2003.3 804.9L2001 807.3M2001 807.3L1989.4 808.8M2009.5 821L2001.3 818M2001 807.3L2001.3 818M1993.7 828L1993.3 824M1993.7 828L1992.7 830.9M1986.2 836.1L1992.7 830.9M1986.2 836.1L1974 823.5M1993.3 824L1986.3 817.4M1986.3 817.4L1973.2 819.4M1973.2 819.4L1974 823.5M2009.8 830L1993.7 828M2001.3 818L1993.3 824M1989.4 808.8L1986.3 817.4M1970.3 817.2L1973.2 819.4M2005.6 842.4L2003.4 842M2005.6 842.4L2005.5 856M2003.4 842L1992.9 846.9M2005.5 856L2003.1 858.3M2003.1 858.3L1993 854.1M1992.9 846.9L1993 854.1M2008 841L2005.6 842.4M1992.7 830.9L2003.4 842M2020.8 856.4L2005.5 856M1986.2 836.1L1984.8 839.8M1984.8 839.8L1992.9 846.9M2002.4 867.8L2003.1 858.3M1984.8 865.8L1993.8 871.4M1984.8 865.8L1984 859.7M1984 859.7L1993 854.1M1984 859.7L1976.9 853.9M1976.9 853.9L1976 845.1M1984.8 839.8L1976 845.1M1972.9 739.6L1960.5 745.6M1972.9 739.6L1965.2 728.7M1965.2 728.7L1961.5 726.5M1961.5 726.5L1956.8 738.4M1956.8 738.4L1960.5 745.6M1981.1 737L1978.2 740.5M1977.9 729L1965.2 728.7M1978.2 740.5L1972.9 739.6M1961.2 725.5L1961.5 726.5M1940.3 726.2L1942.8 735.7M1944.5 738.1L1942.8 735.7M1944.5 738.1L1956.8 738.4M1987.1 752.9L1982.8 761.4M1987.1 752.9L1979.1 746.9M1979.1 746.9L1970 755M1982.8 761.4L1972.9 762.3M1970 755L1972.2 761.9M1972.9 762.3L1972.2 761.9M1988.1 752.7L1987.1 752.9M1989.4 771.4L1982.8 761.4M1978.2 740.5L1979.1 746.9M1960.3 749.8L1970 755M1960.3 749.8L1960.5 745.6M1978.3 778.8L1972.9 762.3M1962.3 775L1962.3 769.1M1962.3 769.1L1972.2 761.9M1984.8 865.8L1975.1 874.4M1965 861.7L1966.3 869.6M1965 861.7L1976.9 853.9M1966.3 869.6L1975.1 874.4M1982.1 886.3L1976.8 883.9M1975.1 874.4L1976.8 883.9M1970.3 898.4L1971.3 887.4M1971.3 887.4L1976.8 883.9M1947.6 880.9L1947.8 873M1947.6 880.9L1952.2 889.9M1947.8 873L1960.4 874.2M1960.4 874.2L1961.3 886.5M1961.3 886.5L1955.1 890.8M1955.1 890.8L1952.2 889.9M1936.3 885.3L1947.6 880.9M1945 869.3L1947.8 873M1940 896.7L1952.2 889.9M1965 861.7L1960.1 858.6M1966.3 869.6L1960.4 874.2M1971.3 887.4L1961.3 886.5M1958.8 900.8L1955.1 890.8M1952.1 832L1958 827.1M1952.1 832L1956.1 840.4M1958 827.1L1968.6 840.7M1956.1 840.4L1965.8 842.2M1965.8 842.2L1968.6 840.9M1968.6 840.9L1968.6 840.7M1943.6 832.4L1952.1 832M1960.5 819.6L1958 827.1M1948.6 847.8L1956.1 840.4M1974 823.5L1968.6 840.7M1958.2 854.6L1965.8 842.2M1976 845.1L1968.6 840.9M1909.6 782.3L1909.9 791.4M1909.6 782.3L1916.3 778.4M1909.9 791.4L1920.7 796M1916.3 778.4L1923.3 781.3M1923.3 781.3L1926 787.1M1920.7 796L1925.2 790M1926 787.1L1925.2 790M1897 779.9L1909.6 782.3M1914 765.9L1908.9 762.4M1914 765.9L1916.3 778.4M1930 774.2L1930.2 768.4M1930 774.2L1923.3 781.3M1930.2 768.4L1922.8 763M1922.8 763L1914 765.9M1939 787.2L1926 787.1M1945.2 778.7L1945.2 778.7M1945.2 778.7L1930 774.2M1938.2 803.5L1925.2 790M1920.2 801.5L1926.1 809.4M1920.2 801.5L1920.7 796M1896.3 780.3L1896.2 789.6M1909.9 791.4L1903.4 798.4M1903.4 798.4L1896.2 789.6M1880.4 793.8L1887 796.5M1887 796.5L1896.2 789.6M1881.8 809.8L1871.2 802.4M1881.8 809.8L1893.4 809.1M1887 796.5L1893.4 809.1M1869.8 844.3L1868.7 844M1881.6 842.7L1883.1 829.5M1867.1 839.7L1875.7 827.7M1883.1 829.5L1875.7 827.7M1865.2 818.4L1870.7 820.7M1875.7 827.7L1870.7 820.7M1881.8 809.8L1878.9 817M1878.9 817L1870.7 820.7M1747.7 674.9L1731 675.4M1747.7 674.9L1742.3 685.9M1742.3 685.9L1735.3 684.9M1735.3 684.9L1729.3 680.2M1729.3 680.2L1728.4 677.4M1731 675.4L1728.7 676.7M1728.4 677.4L1728.7 676.7M1749.4 673.5L1747.7 674.9M1745.2 660.4L1731 675.4M1720.5 695.1L1729.3 680.2M1734.1 698.3L1735.3 684.9M1710.4 676.7L1728.4 677.4M1726.2 666.2L1728.7 676.7M1773.2 676L1772.7 686.5M1756.3 678.2L1758.1 683.2M1772.7 686.5L1769.7 688.5M1758.1 683.2L1769.7 688.5M1742.3 685.9L1748 691.2M1758.1 683.2L1748 691.2M1783.8 688.1L1772.7 686.5M1783.8 688.1L1786.7 703.4M1786.5 704L1786.7 703.4M1786.5 704L1767.7 696.3M1769.7 688.5L1767.7 696.3M1747 698.7L1748.3 697.9M1748.3 697.9L1748 691.2M1762.8 720.9L1757.2 710.1M1762.8 720.9L1765.7 721.2M1765.7 721.2L1775.6 712.8M1775.6 712.8L1765.2 700.7M1757.2 710.1L1758.7 703.4M1765.2 700.7L1758.7 703.4M1748.6 715.1L1757.2 710.1M1756.9 725.9L1762.8 720.9M1760.6 740.7L1770.7 737.4M1772.1 730.7L1765.7 721.2M1781.4 713.5L1775.6 712.8M1786.4 709L1786.5 704M1767.7 696.3L1765.2 700.7M1748.3 697.9L1758.7 703.4M1839 778.4L1837.8 778.4M1829.8 792.3L1829.3 790.9M1829.3 790.9L1837.8 778.4M1846.5 752.7L1831.2 760.2M1825.3 747L1825.4 753.2M1825.4 753.2L1831.2 760.2M1846.6 767.4L1831.4 763M1831.4 763L1831.2 760.2M1837.8 778.4L1828.8 770.8M1831.4 763L1828.8 770.8M1829.3 790.9L1819.8 784.2M1818.7 777.9L1819.8 784.2M1818.7 777.9L1822.9 773.3M1828.8 770.8L1822.9 773.3M1741.3 762.7L1750.9 765.9M1740.8 781.1L1751.6 773M1751.6 773L1750.9 765.9M1755.1 758.6L1753.9 762.5M1750.9 765.9L1753.9 762.5M1624.1 652.5L1627.8 663.6M1624.1 652.5L1616.2 649.3M1627.8 663.6L1614.1 666.5M1632.6 666.5L1627.8 663.6M1634.4 645.7L1624.1 652.5M1810.3 722.5L1814.3 715.1M1828.7 719.1L1819.6 713.5M1814.3 715.1L1819.6 713.5M1886.4 696.3L1877.5 709.2M1886.2 695.2L1876.6 689.2M1876.6 689.2L1869.2 697.9M1869.2 697.9L1877.5 709.2M1882.1 715.3L1877.4 712.7M1877.4 712.7L1877.5 709.2M1857.8 723.8L1865.7 726.7M1857.8 723.8L1856.4 716.7M1856.4 716.7L1862 711.8M1862 711.8L1872.9 714.9M1872.9 714.9L1869.5 724.6M1869.5 724.6L1865.7 726.7M1863.4 738.6L1865.7 726.7M1852.6 729.6L1857.8 723.8M1843.1 717L1847.5 714.8M1847.5 714.8L1856.4 716.7M1869.2 697.9L1858.3 698.1M1858.3 698.1L1862 711.8M1877.4 712.7L1872.9 714.9M1877.3 732.2L1869.5 724.6M1847.5 714.8L1850.4 700M1858.3 698.1L1856.8 697.1M1856.8 697.1L1850.4 700M1789 657.9L1801.2 662.5M1783 669.3L1789.5 677.5M1801.2 662.5L1800.4 669.5M1800.4 669.5L1789.5 677.5M1783.8 688.1L1789.2 685.1M1789.5 677.5L1789.2 685.1M1837.9 609.5L1841.4 613.8M1840.3 624.3L1841.9 623M1840.3 624.3L1823.6 619.3M1841.4 613.8L1841.9 623M1848.3 599.6L1851 609.8M1841.4 613.8L1851 609.8M1740.6 601.1L1736.6 598.8M1727 608.1L1727.2 599.2M1736.6 598.8L1727.2 599.2M1715.5 600L1721.4 594.1M1727.2 599.2L1721.4 594.1M1715.6 585.4L1721.1 591.4M1721.4 594.1L1721.1 591.4M1747.6 583.5L1747.5 583.7M1747.6 583.5L1741 573.8M1747.5 583.7L1736.5 587.1M1741 573.8L1730.7 572.3M1730.7 572.3L1731 585.1M1736.5 587.1L1731 585.1M1755.8 579.7L1747.6 583.5M1749.1 594.6L1747.5 583.7M1749.3 560.8L1741 573.8M1736.6 598.8L1736.5 587.1M1730 571.6L1730.7 572.3M1721.1 591.4L1731 585.1M1933.6 751.7L1927.7 741.2M1933.6 751.7L1925.9 755.5M1925.9 755.5L1916.8 749.7M1916.8 749.7L1918.8 740.2M1927.7 741.2L1924.2 738.7M1918.8 740.2L1924.2 738.7M1922.8 763L1925.9 755.5M1907 756.8L1916.8 749.7M1913.4 737.4L1918.8 740.2M1926.5 732.1L1924.2 738.7M1942.8 735.7L1927.7 741.2M1970 294.9L1972.5 296.5M1970 294.9L1970.8 284.1M1972.5 296.5L1984 291.6M1970.8 284.1L1973.9 281.5M1973.9 281.5L1981.4 284.2M1984 291.6L1981.4 284.2M1991.1 306.5L1990.8 295.6M1990.8 295.6L1984 291.6M1983.7 310.3L1977 309.6M1977 309.6L1972.5 296.5M1991.1 275L1980.4 269.9M1991.1 275L1981.4 284.2M1980.4 269.9L1973.7 276.1M1973.7 276.1L1973.9 281.5M1962.8 256.1L1971.6 259.3M1962.8 256.1L1954.2 261.4M1971.6 259.3L1964.5 269.2M1964.5 269.2L1960.5 270.3M1960.5 270.3L1956.7 268.2M1954.2 261.4L1956.7 268.2M1980.4 269.9L1977.2 256.6M1977.2 256.6L1971.6 259.3M1973.7 276.1L1964.5 269.2M1959.4 281.8L1960.5 270.3M1959.4 281.8L1970.8 284.1M1953.3 287.6L1945.6 273.8M1953.3 287.6L1959.4 281.8M1945.6 273.8L1956.7 268.2M1924 296.1L1931.7 295.7M1924 296.1L1919.6 300.2M1935.1 314.1L1937.4 310.9M1931.7 295.7L1937.4 310.9M1946.7 254.7L1940.4 260.2M1946.7 254.7L1954.2 261.4M1945.6 273.8L1940.7 272.5M1940.4 260.2L1940.7 272.5M1879.3 236.8L1869.3 229.8M1879.3 236.8L1887.6 229M1874 306.9L1871.4 300.3M1888.1 297.6L1878.1 293.8M1878.1 293.8L1871.4 300.3M1857 305.1L1863.6 297.1M1871.4 300.3L1863.6 297.1M1852.3 292.1L1861.6 292.2M1863.6 297.1L1861.6 292.2M1894.5 289.2L1894.7 287.1M1878.3 282.3L1878.1 293.8M1878.3 282.3L1884.8 278.7M1894.7 287.1L1884.8 278.7M1988.6 230L1999 237.2M1999 237.2L2006.8 226.2M1983.3 240.9L1983.4 232M1995.1 246.6L2001.5 243.1M2001.5 243.1L1999 237.2M2006.4 245.3L2001.5 243.1M2015 235.5L2006.8 226.2M1954.7 232.3L1954.4 243.3M1954.4 243.3L1958.2 244.4M1958.2 244.4L1967.1 243.5M1967.1 243.5L1972.2 231.3M1947.6 247.7L1938.4 242.2M1947.6 247.7L1954.4 243.3M1936 232.9L1938.4 242.2M1947.6 247.7L1946.7 254.7M1962.8 256.1L1958.2 244.4M1977.1 252.2L1967.1 243.5M1977.8 255.7L1977.2 256.6M1749.6 245.5L1743.9 243.8M1749.6 245.5L1756.6 243M1756.6 243L1756.2 231.7M1759.8 293.2L1759.4 281.8M1772.7 284.7L1766.4 277.4M1766.4 277.4L1759.4 281.8M1744.9 282.7L1748.1 279.3M1759.4 281.8L1748.1 279.3M1731.4 269.9L1748.1 271M1748.1 271L1748.1 279.3M1910 337L1908.6 346.8M1891.6 348.5L1898.8 350M1898.8 350L1908.6 346.8M1891.1 356.8L1894 360.8M1898.8 350L1903.9 359.8M1894 360.8L1903.9 359.8M1880.3 371.5L1878.2 365.8M1880.3 371.5L1892.7 374.2M1892.7 374.2L1892.8 374.2M1894 360.8L1892.8 374.2M1891.5 390.8L1882.8 390.1M1882.8 390.1L1892.7 374.2M1897.8 379.8L1896.6 375.9M1892.8 374.2L1896.6 375.9M1880.3 371.5L1871.6 382.6M1864.6 364.3L1861.6 375.9M1861.6 375.9L1871.6 382.6M1882.8 390.1L1878.9 391.5M1878.9 391.5L1871.8 383.7M1871.6 382.6L1871.8 383.7M1989.5 256.8L1998.7 265.3M1991.1 275L1992.5 274.8M1998.7 265.3L1992.5 274.8M2007.4 252.1L1998.9 265.2M1998.7 265.3L1998.9 265.2M2011.8 268.3L2009.1 269.8M1998.9 265.2L2009.1 269.8M2031.7 282.7L2028.8 282.8M2039.1 300.6L2025.4 297.2M2028.8 282.8L2025.4 297.2M2025 267.5L2025.5 280.1M2028.8 282.8L2025.5 280.1M2009.1 269.8L2012.1 282.2M2025.5 280.1L2012.1 282.2M2021.4 305.8L2024.9 297.5M2024.9 297.5L2025.4 297.2M1812.1 899.1L1816.8 893.6M1816.8 893.6L1829.1 901.1M1826 819.2L1816.2 815.9M1825.1 802.2L1820.8 802.6M1820.8 802.6L1816.2 815.9M1803.5 833.2L1810 830.9M1810 830.9L1813.4 816.6M1798.6 817.3L1805.2 810.8M1805.2 810.8L1813.4 816.6M1810 830.9L1821.2 833.2M1821.2 833.2L1827.5 828.8M1816.2 815.9L1813.4 816.6M1771.7 804.3L1772.7 803.1M1772.7 803.1L1776.5 802.9M1787.1 815.8L1786.5 809.4M1776.5 802.9L1786.5 809.4M1824.3 857.5L1817.3 860.6M1824.3 857.5L1828 848.6M1822 843L1828 848.6M1822 843L1812.5 848.3M1817.3 860.6L1811.9 855.3M1812.5 848.3L1811.9 855.3M1840.2 846.3L1828 848.6M1840.9 846.6L1843.3 854.3M1835.4 865.2L1843.3 854.3M1835.4 865.2L1824.3 857.5M1821.2 833.2L1822 843M1802.9 838.1L1812.5 848.3M1799.9 854.8L1802.3 856.8M1802.3 856.8L1811.9 855.3M1831.7 888.7L1829.1 901.1M1831.7 888.7L1824 881.6M1816.8 893.6L1816 887.3M1816 887.3L1824 881.6M1835.7 870.2L1835.4 865.2M1835.7 870.2L1824.6 876.1M1817.3 860.6L1816.1 868.3M1824.6 876.1L1816.1 868.3M1862.4 849.2L1861 852.7M1843.3 854.3L1852.4 859.2M1861 852.7L1852.4 859.2M1875 857L1866.7 860.7M1861 852.7L1866.7 860.7M1879.4 866.3L1865.7 870M1866.7 860.7L1865.7 870M1872.2 884.9L1865.7 870M1865.7 870L1865.7 870M1639.3 787.8L1644.4 791.8M1639.3 787.8L1631.4 796.7M1644.4 791.8L1648.1 802.5M1631.4 796.7L1631 799.8M1631 799.8L1639 808.9M1639 808.9L1648.1 802.5M1638.7 784.9L1639.3 787.8M1657.7 787L1644.4 791.8M1620.1 787.4L1631.4 796.7M1656 803.8L1648.1 802.5M1619.8 804.3L1631 799.8M1638.5 811.3L1639 808.9M1643.2 686.3L1630.7 687.5M1634.6 671.8L1627.1 680.1M1630.7 687.5L1627.1 680.1M1611.5 675L1625.7 680.3M1617.9 691.5L1625.7 680.3M1625.7 680.3L1627.1 680.1M1628.1 714.5L1624.1 712.9M1628.1 714.5L1633.4 711.5M1624.1 712.9L1619.5 697.4M1633.4 711.5L1636.6 700.2M1619.5 697.4L1631.2 696.1M1636.6 700.2L1631.2 696.1M1627.9 721.9L1628.1 714.5M1611.2 714.8L1624.1 712.9M1645.1 717.6L1633.4 711.5M1642.8 698L1636.6 700.2M1630.7 687.5L1631.2 696.1M1658.8 875.4L1657.1 883.6M1675.8 877.5L1667.3 889.7M1667.3 889.7L1657.1 883.6M1677 896.8L1668.5 892.7M1667.3 889.7L1668.5 892.7M1668.5 892.7L1660.5 901.4M1930.3 463.7L1922.6 466.9M1920 453.4L1918.3 454.4M1918.3 454.4L1916.7 462.6M1922.6 466.9L1916.7 462.6M1931.9 477.9L1921.4 476.9M1922.6 466.9L1921.4 476.9M1914.9 492.1L1914.3 479.8M1921.4 476.9L1914.3 479.8M1901.8 437.5L1897.5 439.6M1901.8 437.5L1905.4 439.1M1905.4 439.1L1908.1 452.5M1897.5 439.6L1895 451.2M1895 451.2L1902.3 457.9M1902.3 457.9L1908.1 452.5M1900.7 427.4L1901.8 437.5M1900.7 427.4L1907.9 417.7M1914.2 437.3L1905.4 439.1M1918.3 454.4L1908.1 452.5M1833.3 519.2L1838.3 514.1M1833.4 500.4L1841.1 506M1838.3 514.1L1841.1 506M1811.7 434.2L1812.1 434.2M1815.6 451L1818.5 441.1M1812.1 434.2L1818.5 441.1M1836.4 396.5L1834.7 389.1M1836.4 396.5L1826.9 403.5M1826.9 403.5L1822.4 401.9M1822.4 401.9L1818.7 388.6M1834.7 389.1L1824.7 384.8M1824.7 384.8L1818.7 388.6M1805.6 392L1814.1 388.4M1814.6 405.8L1822.4 401.9M1818.7 388.6L1814.1 388.4M1807.5 371.1L1810.6 373M1814.1 388.4L1810.6 373M2022.2 433L2022.2 432.7M2009.7 426.9L2010.6 426.6M2022.2 432.7L2010.6 426.6M2032 442.2L2041.2 434.4M2048 439.3L2041.2 434.4M1951 647.7L1958.1 646.5M1951 647.7L1951 660.2M1958.1 646.5L1968.6 655.8M1951 660.2L1951.1 660.4M1951.1 660.4L1959.4 663.3M1959.4 663.3L1968.9 659.1M1968.9 659.1L1968.6 655.8M1966 636.7L1958.1 646.5M1947.2 644.5L1951 647.7M1935.1 657.5L1951 660.2M1975.5 642.7L1968.6 655.8M1944 672.5L1951.1 660.4M1959.9 676.2L1959.4 663.3M1975.5 663.8L1968.9 659.1M1967.7 554.8L1963.3 544.8M1984.5 544.2L1978.2 539.3M1978.2 539.3L1963.3 544.8M1951.1 525.9L1962.6 530.4M1958.6 544.1L1961.5 543.6M1962.6 530.4L1961.5 543.6M1961.5 543.6L1963.3 544.8M1890.2 544L1885 532M1874.2 536.8L1879.4 531.6M1885 532L1879.4 531.6M1901.8 531.8L1892.8 527.4M1885 532L1892.8 527.4M1719 389.2L1706.4 383.8M1701.4 398.5L1701 394.3M1701 394.3L1706.4 383.8M1683 391.8L1690.1 384.6M1701 394.3L1690.1 384.6M1688.9 373.8L1690.7 374.8M1690.7 374.8L1690.1 384.6M1716 359.7L1718.8 363.6M1716 359.7L1709.2 358.2M1718.8 363.6L1715.9 373.6M1709.2 358.2L1702.2 364.6M1715.9 373.6L1705.2 376.6M1702.2 364.6L1700 372.9M1700 372.9L1705.2 376.6M1722 349L1716 359.7M1728.7 364.1L1718.8 363.6M1706.4 351.3L1709.2 358.2M1723.6 380.5L1715.9 373.6M1694.2 356.7L1702.2 364.6M1706.4 383.8L1705.2 376.6M1690.7 374.8L1700 372.9M1959.2 750.7L1954.9 762.7M1959.2 750.7L1941.4 750.3M1954.9 762.7L1945.3 764.9M1945.3 764.9L1940.9 761.1M1940.9 761.1L1938.6 753.2M1941.4 750.3L1938.6 753.2M1960.3 749.8L1959.2 750.7M1962.3 769.1L1954.9 762.7M1944.5 738.1L1941.4 750.3M1945.2 778.7L1945.3 764.9M1930.2 768.4L1940.9 761.1M1933.6 751.7L1938.6 753.2M1903.4 798.4L1903.3 804.5M1893.4 809.1L1894.3 809.6M1894.3 809.6L1903.3 804.5M1914.7 829.3L1911.9 819.7M1925.3 812.2L1913 816.5M1911.9 819.7L1913 816.5M1920.2 801.5L1905.3 805.3M1913 816.5L1905.3 805.3M1905.3 805.3L1903.3 804.5M1801 787.1L1811 793.7M1801 787.1L1793.6 799.1M1793.6 799.1L1793.8 800.1M1793.8 800.1L1805.1 806.1M1805.1 806.1L1811.9 799.4M1811 793.7L1811.9 799.4M1784 791.9L1786.7 782.4M1784 791.9L1784.2 792.4M1786.7 782.4L1800.2 784.4M1800.2 784.4L1801 787.1M1784.2 792.4L1793.6 799.1M1776.5 802.9L1784.2 792.4M1786.5 809.4L1793.8 800.1M1805.2 810.8L1805.1 806.1M1820.8 802.6L1811.9 799.4M1819.8 784.2L1811 793.7M1825.4 753.2L1819.7 756.5M1822.9 773.3L1815.5 761.9M1815.5 761.9L1819.7 756.5M1813.8 740.7L1808.5 751.8M1819.7 756.5L1808.5 751.8M1798.6 739.3L1799.2 752.1M1799.2 752.1L1803.7 755.7M1808.5 751.8L1803.7 755.7M1762.9 753.5L1774.2 759M1768 768.4L1753.9 762.5M1768 768.4L1774.2 762.5M1774.2 759L1774.2 762.5M1781.2 745.2L1781.3 750.7M1774.2 759L1781.3 750.7M1799.2 752.1L1788.8 754.2M1781.3 750.7L1788.8 754.2M1805.8 763.4L1804.6 762.6M1805.8 763.4L1809.3 775.6M1804.6 762.6L1793 767.6M1809.3 775.6L1801.9 781M1801.9 781L1793 767.7M1793 767.6L1793 767.7M1815.5 761.9L1805.8 763.4M1803.7 755.7L1804.6 762.6M1818.7 777.9L1809.3 775.6M1788.8 754.2L1793 767.6M1800.2 784.4L1801.9 781M1786.7 782.4L1783.5 777.2M1783.5 777.2L1784.1 772.3M1784.1 772.3L1793 767.7M1784.1 772.3L1774.2 762.5M1758.1 776.7L1765.4 774.6M1758.1 776.7L1757.4 791.3M1765.4 774.6L1771.7 782M1771.7 782L1770.1 788.6M1757.4 791.3L1767.7 791.2M1767.7 791.2L1770.1 788.6M1768 768.4L1765.4 774.6M1751.6 773L1758.1 776.7M1752.6 794.7L1757.4 791.3M1783.5 777.2L1771.7 782M1784 791.9L1770.1 788.6M1772.7 803.1L1767.7 791.2M1797.7 712.5L1804.7 706.8M1786.7 703.4L1799.8 696.4M1804.7 706.8L1799.8 696.4M1814.3 715.1L1805.1 706.8M1804.7 706.8L1805.1 706.8M1789.2 685.1L1801.4 688.7M1799.8 696.4L1801.4 688.7M1840.3 624.3L1836.1 632M1821 626.2L1823.9 631.5M1836.1 632L1823.9 631.5M1953.2 316.7L1953.2 316.1M1953.2 316.7L1959.4 324.2M1953.2 316.1L1964.9 311.1M1959.4 324.2L1969.6 322.1M1969.6 322.1L1970.7 313.2M1970.7 313.2L1964.9 311.1M1946.2 325.8L1953.2 316.7M1937.4 310.9L1947.5 309.3M1947.5 309.3L1953.2 316.1M1957.3 332.5L1959.4 324.2M1958.7 297.4L1964.9 311.1M1958.7 297.4L1953.3 295.3M1947.5 309.3L1953.3 295.3M1973.5 329.6L1969.6 322.1M1977 309.6L1970.7 313.2M1958.7 297.4L1970 294.9M1934.6 279.7L1953 288.5M1934.6 279.7L1934.1 293.6M1934.1 293.6L1952.4 293.7M1953 288.5L1952.4 293.7M1934.3 278.7L1935.7 276.1M1934.3 278.7L1934.6 279.7M1953.3 287.6L1953 288.5M1935.7 276.1L1940.7 272.5M1931.7 295.7L1934.1 293.6M1953.3 295.3L1952.4 293.7M1872.6 253.7L1874.9 245.6M1872.6 253.7L1865.7 255.2M1874.9 245.6L1859.8 240.4M1865.7 255.2L1859.4 253.5M1859.4 253.5L1856.8 246.8M1859.8 240.4L1856.8 246.8M1860.9 231.6L1859.8 240.4M1879.3 236.8L1879.5 238.7M1879.5 238.7L1874.9 245.6M1849.7 263.9L1848.8 263.8M1849.7 263.9L1859.4 253.5M1848.4 245L1856.8 246.8M1921.5 235.4L1911.7 231.7M1921.5 235.4L1930.4 229.7M1928.5 247.6L1938.4 242.2M1928.5 247.6L1922.7 243.8M1922.7 243.8L1921.5 235.4M1899.6 228.4L1906.8 235.1M1906.8 235.1L1911.7 231.7M1862.2 289.4L1877.5 282.2M1862.2 289.4L1857.7 276.1M1877.5 282.2L1865.3 272.4M1865.3 272.4L1858.2 274.8M1858.2 274.8L1857.7 276.1M1878.3 282.3L1877.5 282.2M1861.6 292.2L1862.2 289.4M1843.9 284.5L1857.7 276.1M1849.7 263.9L1858.2 274.8M1865.9 271.4L1865.3 272.4M1865.9 271.4L1865.7 255.2M1865.9 271.4L1880.2 264M1884.8 278.7L1885.2 276.8M1885.2 276.8L1880.2 264M1872.6 253.7L1880.7 260.7M1880.2 264L1880.7 260.7M1909 294.6L1907.6 286.2M1894.7 287.1L1901.6 284.3M1907.6 286.2L1901.6 284.3M1924 296.1L1917.4 282M1907.6 286.2L1917.4 282M1934.3 278.7L1918.6 278.8M1917.4 282L1918.6 278.8M1828 226.8L1821.9 236.3M1811.4 231.7L1821.9 236.3M1812.6 258.1L1812.3 246.7M1825.5 242.9L1824.1 241.6M1812.3 246.7L1824.1 241.6M1824.1 241.6L1821.9 236.3M1756.6 243L1766.6 248.2M1768.5 230.2L1775.1 234.5M1766.6 248.2L1770.1 245.9M1775.1 234.5L1770.1 245.9M1908.5 361.6L1907.3 370.2M1908.5 361.6L1913.7 356.7M1923 361.3L1921.1 375.7M1923 361.3L1917 356.8M1907.3 370.2L1917 376.8M1917 356.8L1913.7 356.7M1921.1 375.7L1917 376.8M1896.6 375.9L1907.3 370.2M1903.9 359.8L1908.5 361.6M1908.6 346.8L1913.7 356.7M1930.1 379.1L1921.1 375.7M1934.9 360.2L1923 361.3M1924.3 346.1L1917 356.8M1914.6 382.6L1917 376.8M1852 387.5L1856.9 376.5M1852 387.5L1840.7 383.1M1840.9 380L1840.7 383.1M1840.9 380L1851.2 372.6M1851.2 372.6L1856.9 376.5M1853.8 392.3L1852 387.5M1853.8 392.3L1863.1 391.2M1861.6 375.9L1856.9 376.5M1863.1 391.2L1871.8 383.7M1836.4 396.5L1843.4 400.7M1843.4 400.7L1852.7 394.7M1852.7 394.7L1853.8 392.3M1834.7 389.1L1840.7 383.1M1847.5 362.3L1851.2 372.6M1993.9 292.6L2008.2 298.3M1993.9 292.6L1998.2 285.2M1998.2 285.2L2009.8 285.2M2009.8 285.2L2011.4 291M2008.2 298.3L2011.4 291M1990.8 295.6L1993.9 292.6M2007.9 306.5L2008.2 298.3M1992.5 274.8L1998.2 285.2M2012.1 282.2L2009.8 285.2M2024.9 297.5L2011.4 291M1806.3 884.6L1807 884.1M1806.3 884.6L1792.7 884.1M1807 884.1L1807 872.5M1792.7 884.1L1792.5 883.6M1792.5 883.6L1795.6 870.3M1807 872.5L1800.7 869.2M1800.7 869.2L1795.6 870.3M1802.8 896.6L1806.3 884.6M1816 887.3L1807 884.1M1789.4 895.2L1792.7 884.1M1824 881.6L1824.6 876.1M1816.1 868.3L1807 872.5M1781.8 878.9L1792.5 883.6M1785.9 865.5L1795.6 870.3M1802.3 856.8L1800.7 869.2M1858 870.3L1853.7 865.3M1858 870.3L1852.6 881.6M1853.7 865.3L1838.8 872.4M1838.8 872.4L1845.8 884.8M1852.6 881.6L1846.6 885.2M1845.8 884.8L1846.6 885.2M1852.4 859.2L1853.7 865.3M1865.7 870L1858 870.3M1867.1 886.5L1852.6 881.6M1835.7 870.2L1838.8 872.4M1831.7 888.7L1845.8 884.8M1848.5 893.1L1846.6 885.2M1644.3 899.9L1639.6 890.7M1655.2 898.1L1655.8 884.5M1639.6 890.7L1639.6 888.8M1639.6 888.8L1646.7 885.6M1646.7 885.6L1655.8 884.5M1628.5 900.1L1639.6 890.7M1657.1 883.6L1655.8 884.5M1631.6 881.1L1639.6 888.8M1646.6 871.6L1646.7 885.6M1916.7 462.6L1907.2 470.4M1914.3 479.8L1909.7 476.1M1907.2 470.4L1909.7 476.1M1902.3 457.9L1901.1 466.2M1907.2 470.4L1901.1 466.2M1895 451.2L1884.4 454.3M1884.4 454.3L1885.3 466.3M1885.3 466.3L1894.3 467.9M1901.1 466.2L1894.3 467.9M1913.9 493L1894.8 491.3M1909.7 476.1L1896.6 485.1M1894.8 491.3L1896.6 485.1M1894.3 467.9L1894.2 479.8M1896.6 485.1L1894.2 479.8M1885.3 466.3L1881.8 468.8M1881.8 468.8L1881 479.2M1894.2 479.8L1881 479.2M1815.1 481.8L1820 479.1M1831.1 493.9L1832.5 490.9M1832.5 490.9L1820 479.1M1810.1 463L1821.1 472.8M1821.1 472.8L1821.3 477M1820 479.1L1821.3 477M1839.8 529.7L1855.5 519.3M1862 531.7L1861.7 523.8M1861.7 523.8L1855.5 519.3M1838.3 514.1L1854.9 517.9M1855.5 519.3L1854.9 517.9M1819.1 373L1824.8 377.5M1819.1 373L1822.4 359.3M1824.8 377.5L1833.9 369.5M1825.4 358L1834.9 364.4M1825.4 358L1822.4 359.3M1834.9 364.4L1833.9 369.5M1824.7 384.8L1824.8 377.5M1810.6 373L1819.1 373M1811.3 359.1L1822.4 359.3M1840.9 380L1833.9 369.5M1826.2 348.8L1825.4 358M1844.2 360.7L1834.9 364.4M2049 385.8L2044.4 396.6M2044.4 396.6L2053.5 403.7M1996.2 416.1L2003.9 413.3M2010.6 426.6L2011.1 418.1M2003.9 413.3L2011.1 418.1M1890.5 438.8L1883.8 442.6M1890.5 438.8L1897.5 439.6M1884.4 454.3L1882.5 452M1883.8 442.6L1882.5 452M1873.6 467.3L1881.8 468.8M1873.6 467.3L1867.1 451.5M1882.5 452L1867.1 451.5M1965.1 528.8L1977.4 536.2M1965.1 528.8L1970 519.8M1977.4 536.2L1981.9 523.5M1970 519.8L1975.2 516.9M1975.2 516.9L1981.7 523.1M1981.7 523.1L1981.9 523.5M1978.2 539.3L1977.4 536.2M1962.6 530.4L1965.1 528.8M1957.8 514.9L1970 519.8M1993.5 530L1981.9 523.5M1976.4 508.6L1975.2 516.9M1994.6 514.5L1981.7 523.1M1831.4 657.5L1828.4 647.1M1831.4 657.5L1846.4 659.3M1838.4 640.9L1848.5 657.2M1838.4 640.9L1838.1 640.8M1848.5 657.2L1848.3 657.6M1838.1 640.8L1828.4 647.1M1846.4 659.3L1848.3 657.6M1876.6 689.2L1875.8 686.4M1856.8 697.1L1856.6 689.6M1856.6 689.6L1859.6 687.1M1859.6 687.1L1875.8 686.4M1891.1 677L1876.5 681.2M1876.5 681.2L1875.8 686.4M1901.8 820.8L1894.3 810.9M1901.8 820.8L1900 829.2M1894.3 810.9L1887.8 824.3M1900 829.2L1895.6 831.2M1895.6 831.2L1887.7 826.5M1887.8 824.3L1887.7 826.5M1894.3 809.6L1894.3 810.9M1911.9 819.7L1901.8 820.8M1909.4 832.1L1900 829.2M1878.9 817L1887.8 824.3M1895.4 842.2L1895.6 831.2M1883.1 829.5L1887.7 826.5M1827.9 661.4L1831.4 657.5M1827.9 661.4L1828.9 675.7M1846.4 659.3L1843.4 672.4M1843.4 672.4L1832.2 677.8M1832.2 677.8L1828.9 675.7M1820.3 648.5L1823.5 645.4M1820.3 648.5L1806.4 647.9M1823.5 645.4L1820.5 640.2M1820.5 640.2L1811.6 639.1M1811.6 639.1L1805.8 645.7M1806.4 647.9L1805.8 645.7M1827.9 661.4L1814.9 659.7M1814.9 659.7L1820.3 648.5M1828.4 647.1L1823.5 645.4M1806.3 660.1L1811.3 661.3M1806.3 660.1L1806.4 647.9M1811.3 661.3L1814.9 659.7M1836.1 632L1838.1 640.8M1823.9 631.5L1820.5 640.2M1808 629.8L1811.6 639.1M1794.3 640.7L1805.8 645.7M1801.2 662.5L1806.3 660.1M1883.2 644.4L1874.2 648.8M1883.2 644.4L1890.8 652.7M1874.2 648.8L1883.8 661.8M1890.8 652.7L1888.1 661.9M1883.8 661.8L1888 662M1888 662L1888.1 661.9M1901.3 643.2L1890.8 652.7M1899.4 661.6L1888.1 661.9M1891.9 675.8L1888 662M1889.6 633.8L1891.6 624.3M1889.6 633.8L1886.2 634.7M1886.2 634.7L1876.6 631.3M1891.6 624.3L1885.7 617.1M1885.7 617.1L1875.5 622.1M1875.5 622.1L1876.6 631.3M1901.7 640.4L1889.6 633.8M1899.7 620.5L1891.6 624.3M1883.2 644.4L1886.2 634.7M1887 610.6L1885.7 617.1M1861.5 623.6L1855 620M1861.5 623.6L1869.3 616.9M1855 620L1855.8 610.3M1868.7 613.1L1859.9 608.2M1868.7 613.1L1869.3 616.9M1859.9 608.2L1855.8 610.3M1841.9 623L1844.6 624M1851 609.8L1855.8 610.3M1844.6 624L1855 620M1859.7 597.9L1859.9 608.2M1874.9 606.4L1868.7 613.1M1875.5 622.1L1869.3 616.9M1860.5 633.8L1856.2 636.6M1860.5 633.8L1871.1 635.2M1871.1 635.2L1872.8 648.4M1856.1 636.7L1857 649.6M1856.1 636.7L1856.2 636.6M1857 649.6L1865.9 651.9M1865.9 651.9L1872.8 648.4M1844.6 624L1856.2 636.6M1861.5 623.6L1860.5 633.8M1876.6 631.3L1871.1 635.2M1874.2 648.8L1872.8 648.4M1838.4 640.9L1856.1 636.7M1848.5 657.2L1857 649.6M1879.5 238.7L1888.4 245.3M1880.7 260.7L1886.9 257.7M1888.4 245.3L1886.9 257.7M1887.6 229L1901 243.2M1888.4 245.3L1901 243.2M1922.7 243.8L1912.9 249.1M1906.8 235.1L1903.5 242.9M1912.9 249.1L1903.5 242.9M1901 243.2L1902.5 243.4M1903.5 242.9L1902.5 243.4M1775.1 234.5L1782.3 229.9M1811.4 231.7L1804 234.6M1797.1 227.8L1804 234.6M1812.3 246.7L1802.6 240.4M1802.6 240.4L1804 234.6M1778.2 248.3L1788 241M1778.2 248.3L1791.1 258.8M1795.7 255.4L1791.1 258.8M1795.7 255.4L1796.7 247.5M1796.7 247.5L1788 241M1770.1 245.9L1778.2 248.3M1782.3 229.9L1788 241M1799 256.6L1795.7 255.4M1802.6 240.4L1796.7 247.5M1773.3 270.2L1772.7 259.8M1773.3 270.2L1785.3 271.8M1772.7 259.8L1790.9 259.1M1785.3 271.8L1789.2 267.8M1789.2 267.8L1790.9 259.1M1784.7 280L1785.3 271.8M1766.4 277.4L1767 274.4M1767 274.4L1773.3 270.2M1766.6 248.2L1766.4 252.4M1766.4 252.4L1772.7 259.8M1791.1 258.8L1790.9 259.1M1795.4 272.2L1789.2 267.8M1762.1 258.2L1761.5 268.4M1762.1 258.2L1747.7 260.1M1761.5 268.4L1748.7 269.8M1748.7 269.8L1746.9 261.1M1746.9 261.1L1747.7 260.1M1767 274.4L1761.5 268.4M1766.4 252.4L1762.1 258.2M1749.6 245.5L1747.7 260.1M1748.1 271L1748.7 269.8M1734.4 258.6L1746.9 261.1M1848.9 479.9L1857.3 482.4M1848.9 479.9L1843.3 482.7M1858.5 487.9L1852.4 501.8M1858.5 487.9L1857.3 482.4M1849.9 501.2L1852.4 501.8M1849.9 501.2L1842 485.8M1842 485.8L1843.3 482.7M1855.2 503.7L1865.2 502.6M1855.2 503.7L1852.4 501.8M1866.1 493.4L1865.2 502.6M1866.1 493.4L1858.5 487.9M1841.1 506L1849.9 501.2M1855.2 503.7L1854.9 517.9M1832.5 490.9L1842 485.8M1836 474.9L1821.3 477M1836 474.9L1843.3 482.7M1907.7 506.2L1891.7 497.2M1894.8 491.3L1891.1 494.4M1891.7 497.2L1891.1 494.4M1812.1 434.2L1820.7 424.1M1818.5 441.1L1829.8 439.6M1829.8 439.6L1830.1 432.2M1830.1 432.2L1820.7 424.1M1813.9 416.2L1820.4 420.9M1826.9 403.5L1829.5 414.1M1820.4 420.9L1829.5 414.1M1820.4 420.9L1820.7 424.1M1817.8 454.9L1826.7 457.4M1829.8 439.6L1834 445.3M1834 445.3L1826.7 457.4M1821.1 472.8L1827.5 459.1M1836 474.9L1836.4 464.4M1836.4 464.4L1827.5 459.1M1826.7 457.4L1827.5 459.1M2022.2 432.7L2025.6 428.4M2041.2 434.4L2039.9 429.2M2025.6 428.4L2039.9 429.2M2055.7 430.3L2043.2 423.6M2053.1 412.6L2043.1 416.2M2043.1 416.2L2043.2 423.6M2039.9 429.2L2043.2 423.6M1990.6 407.6L2004 397.9M2003.9 413.3L2007.4 400.2M2007.4 400.2L2004 397.9M1991.3 387.7L2002.4 394.9M2004 397.9L2002.4 394.9M2008.2 377.2L2006.4 388M2002.4 394.9L2006.4 388M1852.7 394.7L1857.4 401.2M1863.1 391.2L1866.7 402.4M1857.4 401.2L1866.7 402.4M1843.4 400.7L1844.6 408.5M1829.5 414.1L1836 415.5M1844.6 408.5L1836 415.5M1878.9 391.5L1878.8 401M1866.7 402.4L1869.7 405.1M1878.8 401L1869.7 405.1M1898.8 401L1885 405.8M1878.8 401L1885 405.8M1864.5 676.9L1871.1 673.3M1864.5 676.9L1856.3 674.2M1858.3 665.5L1856.3 674.2M1858.3 665.5L1868.9 666.3M1871.1 673.3L1871.5 668.6M1871.5 668.6L1868.9 666.3M1859.6 687.1L1864.5 676.9M1876.5 681.2L1871.1 673.3M1851.9 684.9L1856.6 689.6M1851.9 684.9L1849.8 677.4M1849.8 677.4L1856.3 674.2M1848.3 657.6L1858.3 665.5M1843.4 672.4L1849.8 677.4M1865.9 651.9L1868.9 666.3M1883.8 661.8L1871.5 668.6M1835.6 714.6L1834.7 703.6M1850.4 700L1840.2 698.4M1834.7 703.6L1840.2 698.4M1851.9 684.9L1837.8 689.1M1840.2 698.4L1837.8 689.1M1832.2 677.8L1833.1 684.3M1837.8 689.1L1833.1 684.3M1800.4 669.5L1805.5 680.2M1801.4 688.7L1802.2 688.3M1805.5 680.2L1802.2 688.3M1811.3 661.3L1818.3 676.1M1805.5 680.2L1818.3 676.1M1828.9 675.7L1819 676.4M1818.3 676.1L1819 676.4M1889.2 258.3L1899.7 254.2M1889.2 258.3L1897.6 268.7M1899.7 254.2L1907.2 266.5M1897.6 268.7L1903.6 268.8M1903.6 268.8L1907.2 266.5M1886.9 257.7L1889.2 258.3M1902.5 243.4L1899.7 254.2M1885.2 276.8L1897.6 268.7M1901.6 284.3L1903.6 268.8M1916.8 273L1908.8 266.3M1916.8 273L1926.6 265.6M1908.8 266.3L1914.9 257.1M1914.9 257.1L1927.9 257.7M1926.6 265.6L1928.4 258.3M1927.9 257.7L1928.4 258.3M1918.6 278.8L1916.8 273M1907.2 266.5L1908.8 266.3M1935.7 276.1L1926.6 265.6M1912.9 249.1L1914.9 257.1M1928.5 247.6L1927.9 257.7M1940.4 260.2L1928.4 258.3M1880.8 479.7L1883.7 491.5M1880.8 479.7L1867.9 481.6M1867.9 481.6L1869.9 489.3M1869.9 489.3L1881.8 492.3M1883.7 491.5L1881.8 492.3M1881 479.2L1880.8 479.7M1891.1 494.4L1883.7 491.5M1873.6 467.3L1865.9 471.1M1864.4 479.2L1865.9 471.1M1864.4 479.2L1867.9 481.6M1864.4 479.2L1857.3 482.4M1866.1 493.4L1869.9 489.3M1870.8 505.4L1870.9 505.4M1870.8 505.4L1869.8 518.4M1870.9 505.4L1888.5 511M1869.8 518.4L1877.8 521.5M1877.8 521.5L1888.5 515.4M1888.5 515.4L1889.3 513.1M1889.3 513.1L1888.5 511M1865.2 502.6L1870.8 505.4M1881.8 492.3L1870.9 505.4M1861.7 523.8L1869.8 518.4M1891.7 497.2L1888.5 511M1879.4 531.6L1877.8 521.5M1892.8 527.4L1888.5 515.4M1902.2 513.8L1889.3 513.1M1873.8 435.4L1864.8 445.2M1873.8 435.4L1883.8 442.6M1867.1 451.5L1865.1 450.4M1865.1 450.4L1864.8 445.2M2011.1 418.1L2020.2 412.2M2025.6 428.4L2026.6 418.2M2020.2 412.2L2026.6 418.2M2043.1 416.2L2039 413.8M2026.6 418.2L2039 413.8M2044.4 396.6L2035.6 400M2039 413.8L2035.6 400M2021.8 382.9L2018.3 388M2021.8 382.9L2030.9 391.9M2018.3 388L2013.8 400.3M2030.9 391.9L2032.8 398.6M2032.8 398.6L2019.6 404.5M2013.8 400.3L2019.6 404.5M2021.5 380.9L2021.8 382.9M2006.4 388L2018.3 388M2037.6 384.9L2030.9 391.9M2007.4 400.2L2013.8 400.3M2035.6 400L2032.8 398.6M2020.2 412.2L2019.6 404.5M1857.4 401.2L1855.4 410.1M1869.7 405.1L1868.9 407.1M1868.9 407.1L1862.9 410.7M1862.9 410.7L1855.4 410.1M1844.6 408.5L1851 412.3M1855.4 410.1L1851 412.3M1889.4 416.9L1885.4 413.5M1889.4 416.9L1891.5 424M1885.4 413.5L1874.3 422.3M1891.5 424L1886.1 428.9M1886.1 428.9L1874.1 427.9M1874.3 422.3L1873 425.8M1874.1 427.9L1873 425.8M1904.2 412.7L1889.4 416.9M1885 405.8L1885.4 413.5M1900.7 427.4L1891.5 424M1868.9 407.1L1874.3 422.3M1890.5 438.8L1886.1 428.9M1873.8 435.4L1874.1 427.9M1862.9 410.7L1862.6 424.4M1862.6 424.4L1873 425.8M1812.2 692.2L1817.4 688.2M1812.2 692.2L1815.2 699.5M1817.4 688.2L1826 691.4M1815.2 699.5L1821 702M1826 691.4L1825.1 700.2M1821 702L1825.1 700.2M1802.2 688.3L1812.2 692.2M1819 676.4L1817.4 688.2M1805.1 706.8L1815.2 699.5M1833.1 684.3L1826 691.4M1819.6 713.5L1821 702M1834.7 703.6L1825.1 700.2M1864.8 445.2L1854.8 436.7M1862.6 424.4L1855.8 426.2M1854.8 436.7L1855.8 426.2M1851 412.3L1853.2 424.2M1855.8 426.2L1853.2 424.2M1836 415.5L1839.7 425.9M1853.2 424.2L1839.7 425.9M1830.1 432.2L1839.4 426.5M1839.4 426.5L1839.7 425.9M1834 445.3L1835.6 445.4M1839.4 426.5L1843.8 436.8M1835.6 445.4L1843.8 436.8M1854.8 436.7L1853 437.6M1843.8 436.8L1853 437.6M1837.7 463.9L1844.9 450.6M1837.7 463.9L1851.7 465.9M1855.9 457.4L1846 450.7M1855.9 457.4L1855 462.7M1844.9 450.6L1846 450.7M1855 462.7L1851.7 465.9M1836.4 464.4L1837.7 463.9M1835.6 445.4L1844.9 450.6M1848.9 479.9L1851.7 465.9M1865.1 450.4L1855.9 457.4M1853 437.6L1846 450.7M1865.9 471.1L1855 462.7" fill="none" stroke="#7cbd4b" stroke-width="1" opacity="0.25"/>
<path d="M1872.9 776.8L1875.8 758.7M1872.9 776.8L1838.7 779.2M1875.8 758.7L1866.3 736.1M1838.7 779.2L1839.6 752.4M1866.3 736.1L1839.6 752.4M1872.9 776.8L1875.6 779.7M1875.8 758.7L1908.1 749.3M1918.7 773.9L1918.1 764.7M1918.7 773.9L1898.6 783.3M1875.6 779.7L1898.6 783.3M1908.1 749.3L1918.1 764.7M1957.1 773.4L1929.2 782.5M1957.1 773.4L1964.2 776.2M1929.2 782.5L1933.1 810.5M1964.2 776.2L1970.7 802.2M1970.7 802.2L1955.4 819M1933.1 810.5L1955.4 819M1773.6 776.5L1777 745.6M1773.6 776.5L1794.5 784.5M1794.5 784.5L1803.8 779M1803.8 779L1803.2 745.1M1803.2 745.1L1790.1 738.8M1790.1 738.8L1777 745.6M1838.7 779.2L1832.2 784.7M1819.6 734.6L1839.6 752.4M1819.6 734.6L1803.2 745.1M1832.2 784.7L1803.8 779M1819.6 734.6L1823.3 723M1782.7 719L1806.8 700.7M1782.7 719L1790.1 738.8M1823.3 723L1806.8 700.7M1833.1 652.3L1804.8 651.9M1833.1 652.3L1829.5 684.6M1804.8 651.9L1802.5 683.9M1802.5 683.9L1806.9 689.2M1829.5 684.6L1806.9 689.2M1782.7 719L1771 714.2M1802.5 683.9L1775.3 683.7M1806.8 700.7L1806.9 689.2M1771 714.2L1775.3 683.7M1901.9 597.7L1879.5 588.9M1901.9 597.7L1892 618.5M1872 620.1L1868.7 597.9M1872 620.1L1877.2 623.4M1892 618.5L1877.2 623.4M1879.5 588.9L1868.7 597.9M1840.5 649L1844 627.3M1840.5 649L1833.1 652.3M1804.8 651.9L1803.5 650.2M1803.5 650.2L1803.7 630.4M1844 627.3L1833.9 616.7M1833.9 616.7L1803.7 630.4M1901.9 597.7L1915.8 590.2M1892 618.5L1921.5 632.2M1921.5 632.2L1931.5 609.3M1915.8 590.2L1931.5 609.3M1918.7 773.9L1929.2 782.5M1957.1 773.4L1951.7 751.5M1918.1 764.7L1943.3 745M1951.7 751.5L1943.3 745M1716.2 874.6L1696.7 884.2M1716.2 874.6L1716.2 851.3M1696.7 884.2L1681.4 870M1716.2 851.3L1694.7 843.3M1694.7 843.3L1684.6 848.9M1681.4 870L1684.6 848.9M1738.6 893.1L1716.2 874.6M1738.6 893.1L1739.6 893.1M1716.2 851.3L1736.8 839.7M1736.8 839.7L1741.9 842.6M1741.9 842.6L1751.8 865.1M1739.6 893.1L1751.8 865.1M1878.8 905.5L1888.6 879.9M1888.6 879.9L1867.1 866.7M1867.1 866.7L1847.7 882.3M1847.7 882.3L1847.5 895.6M2054.7 887.3L2043 865.4M2043 865.4L2047.4 854.1M1752.9 223L1747.7 235.9M1747.7 235.9L1777.3 249.9M1777.3 249.9L1791.3 235M1791.3 235L1791.9 226.5M1775.5 266.9L1754.4 277.8M1775.5 266.9L1777.3 249.9M1754.3 277.8L1754.4 277.8M1754.3 277.8L1737.1 247.1M1737.1 247.1L1747.7 235.9M1685.1 666.2L1652.6 689M1685.1 666.2L1672.8 652.1M1672.8 652.1L1638.8 649.3M1638.8 649.3L1644.2 688.2M1652.6 689L1644.2 688.2M1606.9 653.3L1631.1 641.7M1616.6 687.7L1640.6 690.4M1638.8 649.3L1631.1 641.7M1644.2 688.2L1640.6 690.4M1634.7 721.1L1640.6 690.4M1634.7 721.1L1620.1 730.4M1624.7 752.6L1622.4 748.2M1624.7 752.6L1624 767.6M1624 767.6L1613.4 780.1M1738.6 893.1L1712.6 912.6M1696.7 884.2L1694.6 894.1M1631.1 641.7L1632.9 628.9M1632.9 628.9L1611.4 611.9M1672.8 652.1L1675 623.5M1632.9 628.9L1651.8 610.2M1675 623.5L1651.8 610.2M1704.6 657.1L1709.8 632.3M1704.6 657.1L1688.9 667M1685.1 666.2L1688.9 667M1709.8 632.3L1692.9 618M1675 623.5L1692.9 618M1888.6 879.9L1909.8 879.3M1909.8 879.3L1916.1 883.6M1916.1 883.6L1919.1 902.3M1898.6 783.3L1902.1 817.9M1933.1 810.5L1920.3 818.6M1902.1 817.9L1920.3 818.6M1873 811.3L1883.8 827.6M1873 811.3L1841.3 808.8M1868.9 846L1881.8 834.2M1868.9 846L1844.2 836.9M1883.8 827.6L1881.8 834.2M1841.3 808.8L1844.2 836.9M1875.6 779.7L1873 811.3M1902.1 817.9L1883.8 827.6M1832.2 784.7L1835.8 802.9M1835.8 802.9L1841.3 808.8M1909.8 879.3L1906.1 853.7M1867.1 866.7L1868.9 846M1906.1 853.7L1881.8 834.2M1823.6 846.9L1844.2 836.9M1823.6 846.9L1824.2 867.7M1847.7 882.3L1824.2 867.7M1906.1 853.7L1922.5 842.3M1922.5 842.3L1920.3 818.6M1701.5 593.1L1696.4 599.4M1701.5 593.1L1730.1 600.8M1709.8 632.3L1735.5 621.6M1692.9 618L1696.4 599.4M1735.5 621.6L1730.1 600.8M1879.5 588.9L1884.7 561.2M1884.7 561.2L1897.8 556.3M1915.8 590.2L1916.9 574.1M1897.8 556.3L1916.9 574.1M1953.8 626.1L1970.5 615.9M1953.8 626.1L1934.8 608.8M1934.8 608.8L1957.7 596.5M1957.7 596.5L1969.4 599.8M1970.5 615.9L1969.4 599.8M1987.6 645.7L1986.5 650.4M1987.6 645.7L1970.5 615.9M1986.5 650.4L1977.9 655.9M1977.9 655.9L1952.1 654.2M1952.1 654.2L1953.8 626.1M2012.4 616.6L1987.6 645.7M2012.4 616.6L2012.7 606.9M2012.7 606.9L1984.9 591.7M1984.9 591.7L1969.4 599.8M1666 877.6L1642.9 870M1666 877.6L1670.5 904.5M1642.9 870L1636.8 901.4M1681.4 870L1666 877.6M1684.6 848.9L1661.8 841.7M1661.8 841.7L1644.5 854.8M1644.5 854.8L1641 866.2M1641 866.2L1642.9 870M1617.8 808.7L1626.8 811.5M1626.8 811.5L1640.4 809M1624 767.6L1656.1 779.5M1656.1 779.5L1640.4 809M1694.7 843.3L1694.7 815.5M1661.8 841.7L1659.2 819.6M1694.7 815.5L1684.2 806.1M1684.2 806.1L1659.2 819.6M1626.8 811.5L1633.1 839.9M1633.1 839.9L1644.5 854.8M1640.4 809L1659.2 819.6M1784.6 851.3L1772.1 836.2M1784.6 851.3L1811.1 837M1772.1 836.2L1777.4 815.9M1811.1 837L1809.2 826.5M1809.2 826.5L1789.4 808.4M1789.4 808.4L1777.4 815.9M1741.9 842.6L1772.1 836.2M1751.8 865.1L1782.8 867.5M1782.8 867.5L1784.6 851.3M1835.8 802.9L1809.2 826.5M1823.6 846.9L1811.1 837M1794.5 784.5L1789.4 808.4M1739.6 893.1L1755.4 906.1M2057.1 816.6L2024.8 821.3M2047.4 854.1L2021.9 839.6M2021.9 839.6L2024.8 821.3M2050.9 790.6L2018.8 779.7M2018.8 779.7L2012.2 784.4M2012.2 784.4L2006.5 802.6M2024.8 821.3L2006.5 802.6M2012.2 784.4L1984.6 763.9M1984.6 763.9L1964.2 776.2M1970.7 802.2L2004.5 803.5M2006.5 802.6L2004.5 803.5M1616.2 347.2L1627.5 331M1606.7 306.7L1628.1 316M1628.1 316L1627.5 331M1633.1 839.9L1611.1 845.1M1641 866.2L1618.3 866.1M1664.7 590.9L1652 599.7M1664.7 590.9L1682.1 555.9M1652 599.7L1639.7 585.9M1639.7 585.9L1633.2 565.9M1682.1 555.9L1641.3 556.9M1633.2 565.9L1641.3 556.9M1696.4 599.4L1664.7 590.9M1651.8 610.2L1652 599.7M1609.6 600.6L1639.7 585.9M1606.6 563.5L1633.2 565.9M2066.3 461.2L2042 471.6M2042 471.6L2047.3 492.2M1820.1 219.7L1829.3 241.6M1791.3 235L1815.7 268.4M1815.7 268.4L1829.3 241.6M1701.5 593.1L1699.2 564.3M1682.1 555.9L1684.4 554.6M1699.2 564.3L1684.4 554.6M1848.7 586.5L1856.2 566M1848.7 586.5L1830.4 593.4M1815 573.1L1831.3 546.8M1815 573.1L1819.9 587.4M1856.2 566L1831.3 546.8M1819.9 587.4L1830.4 593.4M1868.7 597.9L1848.7 586.5M1872.4 558.9L1884.7 561.2M1872.4 558.9L1856.2 566M1872 620.1L1844 627.3M1833.9 616.7L1830.4 593.4M1798.7 601.4L1800 625.4M1798.7 601.4L1819.9 587.4M1803.7 630.4L1800 625.4M1621.9 367.1L1629.4 368.6M1627.5 331L1653 351.7M1653 351.7L1646.4 365.2M1646.4 365.2L1629.4 368.6M1606.8 531.1L1638.6 533.1M1638.8 507.6L1644.9 521.2M1638.8 507.6L1613.6 503M1638.6 533.1L1644.9 521.2M1641.3 556.9L1638.6 533.1M1665 522.8L1644.9 521.2M1665 522.8L1684.9 533.9M1684.9 533.9L1684.4 554.6M2014.5 865.2L2021.4 871.8M2014.5 865.2L1988 885.2M2021.4 871.8L2023.2 903.2M1988 885.2L1992 899.4M2043 865.4L2021.4 871.8M2021.9 839.6L2010 851.7M2010 851.7L2014.5 865.2M1956.6 877.2L1941.6 868.3M1956.6 877.2L1977.3 872.8M1977.3 872.8L1984.4 846.7M1942.4 854.7L1959.9 833.2M1942.4 854.7L1941.6 868.3M1959.9 833.2L1983.6 845.5M1984.4 846.7L1983.6 845.5M1916.1 883.6L1941.6 868.3M1956.2 909L1956.6 877.2M1988 885.2L1977.3 872.8M2010 851.7L1984.4 846.7M1955.4 819L1959.9 833.2M1922.5 842.3L1942.4 854.7M2004.5 803.5L1983.6 845.5M1772.2 650.8L1766.7 623M1772.2 650.8L1761 663.3M1761 663.3L1744.1 657.2M1744.1 657.2L1736.2 621.9M1736.2 621.9L1763.4 619M1766.7 623L1763.4 619M1803.5 650.2L1772.2 650.8M1800 625.4L1766.7 623M1775.3 683.7L1763.8 675.1M1763.8 675.1L1761 663.3M1729.5 693.5L1726.6 665.3M1729.5 693.5L1740 699M1740 699L1763.8 675.1M1726.6 665.3L1744.1 657.2M1704.6 657.1L1726.6 665.3M1735.5 621.6L1736.2 621.9M1730.1 600.8L1736.3 589.2M1736.3 589.2L1769.9 585.8M1769.9 585.8L1773.2 594.6M1773.2 594.6L1763.4 619M1798.7 601.4L1773.2 594.6M1921.5 632.2L1922 635.7M1931.5 609.3L1934.8 608.8M1952.1 654.2L1950 654.7M1922 635.7L1950 654.7M1977.2 676.2L1958.8 709.5M1977.2 676.2L1977.9 655.9M1958.8 709.5L1955.6 709.5M1955.6 709.5L1936.7 677.9M1950 654.7L1936.7 677.9M1986.5 650.4L2009.7 663.7M1999.1 696.9L2013.1 692.7M1999.1 696.9L1977.2 676.2M2013.1 692.7L2009.7 663.7M2012.4 616.6L2036.5 636.5M2036.5 636.5L2031.7 657.6M2009.7 663.7L2031.7 657.6M2064.2 761.2L2036.8 751.6M2056.1 721.6L2037.2 730.8M2037.2 730.8L2036.8 751.6M2018.8 779.7L2026.5 760M2026.5 760L2036.8 751.6M1969.3 715.4L1979.6 739.4M1969.3 715.4L1989.1 708.7M1989.1 708.7L2008.6 726.6M1985.5 744.5L1999.9 740M1985.5 744.5L1979.6 739.4M1999.9 740L2008.6 726.6M1951.7 751.5L1979.6 739.4M1943.3 745L1939.8 721.4M1939.8 721.4L1955.6 709.5M1958.8 709.5L1969.3 715.4M1999.1 696.9L1989.1 708.7M2013.1 692.7L2022.6 699.3M2022.6 699.3L2023.6 719.5M2023.6 719.5L2008.6 726.6M1984.6 763.9L1985.5 744.5M2026.5 760L1999.9 740M2023.6 719.5L2037.2 730.8M1777 745.6L1758.3 742.8M1771 714.2L1760.9 716.9M1758.3 742.8L1760.9 716.9M1740 699L1744 709.6M1744 709.6L1760.9 716.9M1624.7 752.6L1658.6 748M1634.7 721.1L1661.2 731.4M1658.6 748L1661.2 731.4M1652.6 689L1677.5 718.6M1661.2 731.4L1677.5 718.6M1766.9 776.6L1744.3 762.9M1766.9 776.6L1751.4 805.9M1744.3 762.9L1726.3 788.7M1726.3 788.7L1730.2 807.2M1751.4 805.9L1734 810.5M1730.2 807.2L1734 810.5M1773.6 776.5L1766.9 776.6M1742.6 755.6L1758.3 742.8M1742.6 755.6L1744.3 762.9M1777.4 815.9L1751.4 805.9M1736.8 839.7L1734 810.5M1694.7 815.5L1730.2 807.2M1806.8 899.9L1803.6 879.5M1767.9 899.7L1785.5 872.6M1785.5 872.6L1803.6 879.5M1824.2 867.7L1803.6 879.5M1782.8 867.5L1785.5 872.6M1721.4 299.3L1704.3 317M1721.4 299.3L1701.9 271.2M1701.9 271.2L1695.7 274.3M1695.7 274.3L1675.6 307.4M1675.6 307.4L1704.3 317M1654.2 304.9L1661.1 309.6M1654.2 304.9L1628.1 316M1653 351.7L1665.8 341.9M1661.1 309.6L1665.8 341.9M1609.9 288.1L1633.7 279M1603 253.2L1625.6 254M1625.6 254L1633.7 279M1654.2 304.9L1652.1 289.1M1633.7 279L1652.1 289.1M1695.7 274.3L1660.5 273.8M1675.6 307.4L1661.1 309.6M1652.1 289.1L1660.5 273.8M2023.6 440.4L2045.1 431.1M2023.6 440.4L2030.2 468.7M2030.2 468.7L2042 471.6M2065.3 452.3L2045.1 431.1M2013.9 484.4L2026.3 522M2013.9 484.4L1986 501.9M1986 501.9L1986.1 515.6M1986.1 515.6L2017.2 528.4M2017.2 528.4L2026.3 522M2015 478.8L2013.9 484.4M2015 478.8L2030.2 468.7M2047.3 492.2L2028.9 521.9M2026.3 522L2028.9 521.9M2037.8 234.1L2041.6 219.1M2037.8 234.1L2057.7 265.2M1911.9 251.4L1907 247.1M1911.9 251.4L1942.1 239.2M1907 247.1L1902.8 232.3M1942.1 239.2L1941.4 208.5M1736.3 589.2L1730.5 568.2M1699.2 564.3L1716.2 561.9M1730.5 568.2L1716.2 561.9M1684.9 533.9L1694.4 522.8M1716.2 561.9L1728.7 533M1694.4 522.8L1728.7 533M1861.2 534.4L1872.4 558.9M1861.2 534.4L1835.9 529.5M1831.3 546.8L1830.6 532M1835.9 529.5L1830.6 532M1866.8 492.1L1864.8 472.5M1866.8 492.1L1855.8 496M1864.8 472.5L1854.3 463.4M1854.3 463.4L1822.9 472.3M1822.9 472.3L1830 486.1M1855.8 496L1830 486.1M1656.8 402.1L1635.2 402.5M1656.8 402.1L1657.8 435.5M1657.8 435.5L1630.6 435.9M1635.2 402.5L1614.8 414.4M1630.6 435.9L1616.7 422.6M1629.4 368.6L1635.2 402.5M1611.9 472.1L1624 467.4M1624 467.4L1630.6 435.9M1877.2 623.4L1881.8 652.2M1922 635.7L1900.7 657.9M1881.8 652.2L1900.7 657.9M1840.5 649L1863.3 665.3M1881.8 652.2L1863.3 665.3M2056.9 698.4L2040.6 691.3M2040.6 691.3L2042.4 666.4M2042.4 666.4L2063.4 663.2M2022.6 699.3L2040.6 691.3M2031.7 657.6L2042.4 666.4M2062.1 627.1L2036.5 636.5M1945.5 540.1L1958 526.9M1945.5 540.1L1944.5 564.3M1967.2 527.6L1958 526.9M1967.2 527.6L1987.7 562M1987.7 562L1986.9 563.1M1986.9 563.1L1946.5 565.7M1944.5 564.3L1946.5 565.7M1971.7 482.2L1986 501.9M1971.7 482.2L1942.5 496.8M1986.1 515.6L1967.2 527.6M1942.5 496.8L1958 526.9M2010.2 553.8L2017.2 528.4M2010.2 553.8L1987.7 562M1984.9 591.7L1986.9 563.1M1957.7 596.5L1946.5 565.7M1916.9 574.1L1944.5 564.3M1742.6 755.6L1724.3 741.7M1744 709.6L1725.2 735M1725.2 735L1724.3 741.7M1729.5 693.5L1700.9 700.6M1725.2 735L1700.9 700.6M1688.9 667L1700 700.4M1677.5 718.6L1679.5 718.6M1679.5 718.6L1700 700.4M1700.9 700.6L1700 700.4M2044.8 360.3L2066.8 365.7M2044.8 360.3L2028.2 388M2028.2 388L2031.3 395.7M2031.3 395.7L2050.9 403.2M2023.6 440.4L2012.5 433.3M2031.3 395.7L2015 411.4M2045.1 431.1L2053.8 406.6M2012.5 433.3L2015 411.4M2012.7 606.9L2027.8 593.5M2010.2 553.8L2026.1 570.2M2027.8 593.5L2026.1 570.2M2027.8 593.5L2051.8 599M2028.9 521.9L2050.7 529.8M2026.1 570.2L2051 559.7M1898.8 297L1898.8 305M1898.8 297L1919.4 274.1M1898.8 305L1928 322.5M1919.4 274.1L1938 280.6M1938 280.6L1947.3 308.3M1928 322.5L1947.3 308.3M1956.6 246.2L1942.1 239.2M1956.6 246.2L1957.8 268.3M1957.8 268.3L1938 280.6M1911.9 251.4L1919.4 274.1M2037.8 234.1L2022.2 245.1M2057.6 265.4L2040.7 279.1M2022.2 245.1L2025.4 272.8M2040.7 279.1L2025.4 272.8M1907 247.1L1877.4 261M1898.8 297L1870.5 279.6M1870.5 279.6L1877.4 261M1860.8 232.3L1857.7 239.8M1877.4 261L1857.7 239.8M1829.3 241.6L1854.6 241.6M1857.7 239.8L1854.6 241.6M1723.4 299.4L1743 321.1M1723.4 299.4L1754.3 277.8M1754.4 277.8L1771.7 304.6M1771.7 304.6L1763.6 320M1763.6 320L1743 321.1M1864.8 472.5L1882.4 454M1854.3 463.4L1849.6 444.2M1882.4 454L1881.1 438.5M1849.6 444.2L1877.1 434.6M1881.1 438.5L1877.1 434.6M1972.4 416.8L1991.6 439.5M1972.4 416.8L1942.9 439.4M1947.9 450.7L1942.9 439.4M1947.9 450.7L1977.6 464.5M1991.6 439.5L1983.2 461.4M1977.6 464.5L1983.2 461.4M2012.5 433.3L1991.6 439.5M2015 411.4L1982.9 396.2M1972.5 406.4L1982.9 396.2M1972.5 406.4L1972.4 416.8M1971.7 482.2L1977.6 464.5M1942.5 496.8L1938.2 495.1M1934.8 474.8L1938.2 495.1M1934.8 474.8L1947.9 450.7M2015 478.8L1983.2 461.4M1665.8 341.9L1688.4 350.8M1704.3 317L1704.8 340M1688.4 350.8L1704.8 340M1723.4 299.4L1721.4 299.3M1732.9 346.2L1743 321.1M1732.9 346.2L1724.8 349.1M1724.8 349.1L1704.8 340M1812.1 396.1L1787.5 407M1812.1 396.1L1834.2 418.1M1787.5 407L1806.9 436.1M1806.9 436.1L1819.6 438.1M1819.6 438.1L1828.9 432.3M1828.9 432.3L1834.2 418.1M1850.5 382.4L1855.8 399.6M1850.5 382.4L1826.3 367.7M1826.3 367.7L1818.5 370.9M1855.8 399.6L1834.2 418.1M1818.5 370.9L1812.1 396.1M1822.9 472.3L1822 471.5M1849.6 444.2L1828.9 432.3M1822 471.5L1819.6 438.1M1855.8 399.6L1872.2 406.1M1872.2 406.1L1877.1 434.6M1694.4 522.8L1699.7 501.6M1728.7 533L1739.1 528.1M1739.1 528.1L1735.9 498.8M1735.9 498.8L1719.5 495.1M1719.5 495.1L1699.7 501.6M1663.3 451.4L1681.6 468.2M1663.3 451.4L1637.4 472M1648.7 489.4L1668.7 487.7M1648.7 489.4L1637.4 472M1668.7 487.7L1680.4 481.8M1680.4 481.8L1681.6 468.2M1659.6 437.1L1663.3 451.4M1659.6 437.1L1682.4 428.2M1682.4 428.2L1698.7 437.8M1698.7 437.8L1693.8 460M1693.8 460L1681.6 468.2M1624 467.4L1637.4 472M1657.8 435.5L1659.6 437.1M1665 522.8L1668.7 487.7M1638.8 507.6L1648.7 489.4M1699.7 501.6L1680.4 481.8M1693.8 460L1716.6 464.1M1716.6 464.1L1719.5 495.1M1936.7 677.9L1920.7 679.9M1900.7 657.9L1907.6 675.3M1920.7 679.9L1907.6 675.3M1939.8 721.4L1917.6 720.6M1920.7 679.9L1917.6 720.6M1908.1 749.3L1907.8 724.1M1907.8 724.1L1917.6 720.6M1847.7 691L1850.2 712.8M1847.7 691L1862.6 674.3M1862.6 674.3L1889.3 695.8M1850.2 712.8L1868.3 724.9M1868.3 724.9L1889.1 715.6M1889.1 715.6L1889.3 695.8M1823.3 723L1850.2 712.8M1829.5 684.6L1847.7 691M1863.3 665.3L1862.6 674.3M1907.6 675.3L1889.3 695.8M1866.3 736.1L1868.3 724.9M1907.8 724.1L1889.1 715.6M1925.3 499.8L1897.5 490.6M1925.3 499.8L1913.8 531.9M1902.3 537.8L1913.8 531.9M1902.3 537.8L1882.7 515.7M1897.5 490.6L1880.1 499.3M1880.1 499.3L1882.7 515.7M1934.8 474.8L1910.1 462.5M1938.2 495.1L1925.3 499.8M1902.9 466.8L1910.1 462.5M1902.9 466.8L1897.5 490.6M1945.5 540.1L1913.8 531.9M1897.8 556.3L1902.3 537.8M1861.2 534.4L1882.7 515.7M1866.8 492.1L1880.1 499.3M1882.4 454L1902.9 466.8M1835.9 529.5L1855.8 496M1710.4 746.8L1694.2 739.5M1710.4 746.8L1700.7 775.5M1694.2 739.5L1668.4 766.9M1700.7 775.5L1682 782.5M1682 782.5L1669 773.9M1669 773.9L1668.4 766.9M1724.3 741.7L1710.4 746.8M1679.5 718.6L1694.2 739.5M1726.3 788.7L1700.7 775.5M1658.6 748L1668.4 766.9M1684.2 806.1L1682 782.5M1656.1 779.5L1669 773.9M1625.6 254L1651.4 237.9M1647.7 222.3L1651.4 237.9M1660.5 273.8L1656.7 242M1656.7 242L1651.4 237.9M2020.5 314.8L2041.5 295.5M2020.5 314.8L2030 340.3M2031.2 340.6L2066.6 324.1M2031.2 340.6L2030 340.3M2041.5 295.5L2068.8 315.4M2005.7 309.8L2020.5 314.8M2005.7 309.8L2011 275.7M2040.7 279.1L2041.5 295.5M2011 275.7L2025.4 272.8M2044.8 360.3L2031.2 340.6M2012.7 212.8L2001.1 240.9M1993.8 243.9L2001.1 240.9M1993.8 243.9L1976.6 231.2M2022.2 245.1L2001.1 240.9M1991.7 267.3L2011 275.7M1991.7 267.3L1993.8 243.9M1956.6 246.2L1976.6 231.2M1957.8 268.3L1979.7 275.7M1979.7 275.7L1991.7 267.3M1775.5 266.9L1804.8 277.1M1771.7 304.6L1795.6 302M1795.6 302L1804.8 277.1M1815.7 268.4L1815.8 269.9M1804.8 277.1L1815.8 269.9M1790.8 364.6L1775.1 389.1M1790.8 364.6L1783.3 347.3M1783.3 347.3L1774.7 343.8M1774.7 343.8L1752.9 354.8M1752.9 354.8L1753 378.7M1753 378.7L1775.1 389.1M1778 403.2L1787.5 407M1778 403.2L1775.1 389.1M1818.5 370.9L1790.8 364.6M1732.9 346.2L1752.9 354.8M1763.6 320L1774.7 343.8M1898.8 305L1882.4 325.9M1928 322.5L1926.5 343M1882.4 325.9L1883.4 339M1926.5 343L1893.5 346.3M1883.4 339L1893.5 346.3M1850.5 382.4L1864.5 366.3M1872.2 406.1L1876.8 404.2M1864.5 366.3L1887.5 375.7M1876.8 404.2L1887.5 375.7M1883.4 339L1869.4 349.5M1893.5 346.3L1897.8 369.7M1864.5 366.3L1869.4 349.5M1887.5 375.7L1897.8 369.7M2028.2 388L2003.8 370.1M1982.9 396.2L1988.6 375.2M1988.6 375.2L2003.8 370.1M2030 340.3L2012.2 351.8M2003.8 370.1L2012.2 351.8M1730.5 568.2L1760.5 552.2M1739.1 528.1L1758.4 540.1M1760.5 552.2L1758.4 540.1M1769.9 585.8L1773.5 565.7M1760.5 552.2L1773.5 565.7M1815 573.1L1789.9 562M1773.5 565.7L1789.9 562M1735.1 450.4L1751.5 472.4M1735.1 450.4L1716.6 464.1M1735.9 498.8L1749.6 489.7M1751.5 472.4L1749.6 489.7M1822 471.5L1794.2 480.8M1781.9 452.1L1780.7 458.3M1781.9 452.1L1806.9 436.1M1780.7 458.3L1794.2 480.8M1724.8 349.1L1723.7 368M1753 378.7L1740.2 383.9M1740.2 383.9L1723.7 368M1686.8 407.9L1702.8 398.4M1686.8 407.9L1657.8 401M1688.6 374.1L1699.9 385.5M1688.6 374.1L1661 383.6M1702.8 398.4L1699.9 385.5M1661 383.6L1657.8 401M1656.8 402.1L1657.8 401M1682.4 428.2L1686.8 407.9M1688.4 350.8L1688.6 374.1M1723.7 368L1699.9 385.5M1646.4 365.2L1661 383.6M1694.6 213.8L1691.5 241.5M1717.6 209.5L1725.1 246.6M1691.5 241.5L1705.4 253.9M1725.1 246.6L1705.4 253.9M1656.7 242L1691.5 241.5M1737.1 247.1L1725.1 246.6M1701.9 271.2L1705.4 253.9M1882.4 325.9L1853.1 311.3M1870.5 279.6L1859.6 283.2M1853.1 311.3L1859.6 283.2M1854.6 241.6L1845.8 274.9M1859.6 283.2L1845.8 274.9M1815.8 269.9L1823.4 273.9M1845.8 274.9L1823.4 273.9M1917.3 393.1L1906.1 403.7M1917.3 393.1L1934.6 399.5M1906.1 403.7L1911.2 433M1934.6 399.5L1937.4 436.7M1937.4 436.7L1918.1 438.3M1918.1 438.3L1911.2 433M1876.8 404.2L1906.1 403.7M1897.8 369.7L1915.6 381.9M1915.6 381.9L1917.3 393.1M1881.1 438.5L1911.2 433M1948.5 395.5L1972.5 406.4M1948.5 395.5L1934.6 399.5M1942.9 439.4L1937.4 436.7M1910.1 462.5L1918.1 438.3M1948.5 395.5L1951.5 372.9M1988.6 375.2L1974.9 363.5M1974.9 363.5L1951.5 372.9M1915.6 381.9L1932.3 358.3M1951.5 372.9L1932.3 358.3M1926.5 343L1931.9 349.8M1931.9 349.8L1932.3 358.3M1779.7 517.3L1803.7 527.3M1779.7 517.3L1776.1 502.1M1793.2 483.9L1776.1 502.1M1793.2 483.9L1816.6 509.1M1803.7 527.3L1816.9 524.7M1816.9 524.7L1816.6 509.1M1758.4 540.1L1779.7 517.3M1789.9 562L1803.7 527.3M1749.6 489.7L1776.1 502.1M1751.5 472.4L1780.7 458.3M1794.2 480.8L1793.2 483.9M1830 486.1L1816.6 509.1M1830.6 532L1816.9 524.7M1731.6 402.8L1713.7 406.2M1731.6 402.8L1756.7 423.5M1713.7 406.2L1712.3 430.2M1712.3 430.2L1735.2 447.8M1735.2 447.8L1756.4 425.5M1756.7 423.5L1756.4 425.5M1740.2 383.9L1731.6 402.8M1702.8 398.4L1713.7 406.2M1778 403.2L1756.7 423.5M1698.7 437.8L1712.3 430.2M1735.1 450.4L1735.2 447.8M1781.9 452.1L1756.4 425.5M1852.3 311.7L1830.5 302.8M1852.3 311.7L1834.5 338.6M1830.5 302.8L1807.6 319.8M1831.9 339.9L1808.2 323.9M1831.9 339.9L1834.5 338.6M1808.2 323.9L1807.6 319.8M1853.1 311.3L1852.3 311.7M1823.4 273.9L1830.5 302.8M1869.4 349.5L1834.5 338.6M1795.6 302L1807.6 319.8M1826.3 367.7L1831.9 339.9M1783.3 347.3L1808.2 323.9M1959.2 342.7L1971.5 349.3M1959.2 342.7L1955.6 311.2M1971.5 349.3L1987.3 330.9M1987.3 330.9L1988.5 312.8M1955.6 311.2L1980 306.7M1988.5 312.8L1980 306.7M1974.9 363.5L1971.5 349.3M1931.9 349.8L1959.2 342.7M1947.3 308.3L1955.6 311.2M2012.2 351.8L1987.3 330.9M2005.7 309.8L1988.5 312.8M1979.7 275.7L1980 306.7" fill="none" stroke="#86c652" stroke-width="1.7" opacity="0.5"/></g>
<g filter="url(#wob2)">
<path d="M1906 241C1911.7 250 1929.7 280.3 1940 295C1950.3 309.7 1958 317.8 1968 329C1978 340.2 1993.8 351.8 2000 362C2006.2 372.2 2004.2 385.3 2005 390" fill="none" stroke="#9ad457" stroke-width="3.6" stroke-linecap="round" stroke-linejoin="round"/>
<path d="M1632 312C1636.5 311.3 1648.5 305.3 1659 308C1669.5 310.7 1683.7 319.8 1695 328C1706.3 336.2 1716.8 349.5 1727 357C1737.2 364.5 1748.2 364.3 1756 373C1763.8 381.7 1761.2 393.5 1774 409C1786.8 424.5 1817.2 452.5 1833 466C1848.8 479.5 1855.2 481 1869 490C1882.8 499 1903 512.8 1916 520C1929 527.2 1940.3 529.7 1947 533C1953.7 536.3 1954.5 538.8 1956 540" fill="none" stroke="#95d052" stroke-width="3.4" stroke-linecap="round" stroke-linejoin="round"/>
<path d="M1650 243C1653.2 247 1666.3 259.2 1669 267C1671.7 274.8 1667.7 283.2 1666 290C1664.3 296.8 1660.2 305 1659 308" fill="none" stroke="#92cc50" stroke-width="3.0" stroke-linecap="round" stroke-linejoin="round"/>
<path d="M1718 242C1715.7 243.8 1712.2 248.5 1704 253C1695.8 257.5 1674.8 266.3 1669 269" fill="none" stroke="#92cc50" stroke-width="2.6" stroke-linecap="round" stroke-linejoin="round"/>
<path d="M1727 362C1721 365 1706.8 374 1691 380C1675.2 386 1641.8 395 1632 398" fill="none" stroke="#8ec84e" stroke-width="2.8" stroke-linecap="round" stroke-linejoin="round"/>
<path d="M1758 371C1759.7 365.7 1763.8 349.2 1768 339C1772.2 328.8 1772.2 315.2 1783 310C1793.8 304.8 1821.8 308.3 1833 308C1844.2 307.7 1847.2 308 1850 308" fill="none" stroke="#8ec84e" stroke-width="2.6" stroke-linecap="round" stroke-linejoin="round"/>
<path d="M1774 411C1771 414.2 1763.8 423.5 1756 430C1748.2 436.5 1747.7 444 1727 450C1706.3 456 1647.8 463.3 1632 466" fill="none" stroke="#8ec84e" stroke-width="2.6" stroke-linecap="round" stroke-linejoin="round"/>
<path d="M1788 366C1795.5 365.3 1825.5 362.7 1833 362" fill="none" stroke="#8ec84e" stroke-width="2.0" stroke-linecap="round" stroke-linejoin="round"/>
<path d="M1833 466C1839 458.2 1857.3 426.5 1869 419C1880.7 411.5 1891.5 418.8 1903 421C1914.5 423.2 1925.3 427.7 1938 432C1950.7 436.3 1972.2 444.5 1979 447" fill="none" stroke="#8ec84e" stroke-width="2.4" stroke-linecap="round" stroke-linejoin="round"/>
<path d="M1833 466C1829.5 471.5 1819 485.7 1812 499C1805 512.3 1794.5 538.2 1791 546" fill="none" stroke="#8ac44c" stroke-width="2.2" stroke-linecap="round" stroke-linejoin="round"/>
<path d="M1921 645C1925.8 641.2 1938.5 630.3 1950 622C1961.5 613.7 1975 605 1990 595C2005 585 2031.7 567.5 2040 562" fill="none" stroke="#8db040" stroke-width="6" stroke-linecap="round" stroke-linejoin="round"/>
<path d="M1630 630C1634.2 641.7 1645 673.3 1655 700C1665 726.7 1680 763.3 1690 790C1700 816.7 1709.2 842.5 1715 860C1720.8 877.5 1723.3 889.2 1725 895" fill="none" stroke="#84ac44" stroke-width="7" stroke-linecap="round" stroke-linejoin="round"/>
<path d="M1915 689C1917.3 691 1922.7 695 1929 701C1935.3 707 1944.3 716.8 1953 725C1961.7 733.2 1972 740.7 1981 750C1990 759.3 1999.5 770 2007 781C2014.5 792 2020.5 804.5 2026 816C2031.5 827.5 2037.7 844.3 2040 850" fill="none" stroke="#a2d660" stroke-width="2.2" stroke-linecap="round" stroke-linejoin="round"/>
<path d="M1891 753C1894.2 754.2 1902.5 755.3 1910 760C1917.5 764.7 1928.8 773.5 1936 781C1943.2 788.5 1946 795.2 1953 805C1960 814.8 1970.7 828.3 1978 840C1985.3 851.7 1993 865.8 1997 875C2001 884.2 2001.2 891.7 2002 895" fill="none" stroke="#a2d660" stroke-width="2.2" stroke-linecap="round" stroke-linejoin="round"/>
<path d="M1875 790C1879 792.5 1891.2 798.7 1899 805C1906.8 811.3 1915.3 820.2 1922 828C1928.7 835.8 1933.8 842.5 1939 852C1944.2 861.5 1950.2 877.8 1953 885C1955.8 892.2 1955.5 893.3 1956 895" fill="none" stroke="#9ed25c" stroke-width="2.0" stroke-linecap="round" stroke-linejoin="round"/>
<path d="M1974 640C1977.2 643.8 1986 654.8 1993 663C2000 671.2 2008.2 683.5 2016 689C2023.8 694.5 2036 694.8 2040 696" fill="none" stroke="#9ed25c" stroke-width="1.8" stroke-linecap="round" stroke-linejoin="round"/>
<path d="M2016 689C2015.7 694.2 2013.7 708.2 2014 720C2014.3 731.8 2019.2 749.8 2018 760C2016.8 770.2 2008.8 777.5 2007 781" fill="none" stroke="#9ed25c" stroke-width="1.5" stroke-linecap="round" stroke-linejoin="round"/>
<path d="M1862 830C1865 833.3 1874.5 841.7 1880 850C1885.5 858.3 1892.5 875 1895 880" fill="none" stroke="#98ce58" stroke-width="1.6" stroke-linecap="round" stroke-linejoin="round"/>
<path d="M1960 550C1966.7 558.3 1988.3 578.3 2000 600C2011.7 621.7 2023.7 663.3 2030 680C2036.3 696.7 2036.7 696.7 2038 700" fill="none" stroke="#92cc52" stroke-width="1.6" stroke-linecap="round" stroke-linejoin="round"/>
<path d="M2000 390C2006.3 385 2031.7 365 2038 360" fill="none" stroke="#93c94c" stroke-width="2.0" stroke-linecap="round" stroke-linejoin="round"/>
<path d="M1980 450C1989.7 445 2028.3 425 2038 420" fill="none" stroke="#93c94c" stroke-width="1.6" stroke-linecap="round" stroke-linejoin="round"/>
<path d="M1950 530C1964.7 523.3 2023.3 496.7 2038 490" fill="none" stroke="#93c94c" stroke-width="1.6" stroke-linecap="round" stroke-linejoin="round"/>
<path d="M1875 545C1880.8 547.5 1897.5 550.8 1910 560C1922.5 569.2 1943.3 593.3 1950 600" fill="none" stroke="#8ac44c" stroke-width="1.6" stroke-linecap="round" stroke-linejoin="round"/>
<path d="M1700 456C1703.3 466.7 1714.2 496 1720 520C1725.8 544 1732.5 586.7 1735 600" fill="none" stroke="#8ac44c" stroke-width="1.6" stroke-linecap="round" stroke-linejoin="round"/>
<path d="M1632 634C1644.3 633 1679.7 635.8 1706 628C1732.3 620.2 1769 596.5 1790 587C1811 577.5 1825 573.7 1832 571" fill="none" stroke="#8cc64e" stroke-width="1.8" stroke-linecap="round" stroke-linejoin="round"/>
<path d="M1666 716C1678.3 712.2 1719.3 701.3 1740 693C1760.7 684.7 1774.7 673.8 1790 666C1805.3 658.2 1825 649.3 1832 646" fill="none" stroke="#8cc64e" stroke-width="1.8" stroke-linecap="round" stroke-linejoin="round"/>
<path d="M1740 693C1744.5 697.2 1756.8 710 1767 718C1777.2 726 1790.2 733.5 1801 741C1811.8 748.5 1826.8 759.3 1832 763" fill="none" stroke="#8cc64e" stroke-width="1.7" stroke-linecap="round" stroke-linejoin="round"/>
<path d="M1708 632C1710.3 644 1716.7 683.7 1722 704C1727.3 724.3 1734 740.3 1740 754C1746 767.7 1755 780.7 1758 786" fill="none" stroke="#8ac44c" stroke-width="1.6" stroke-linecap="round" stroke-linejoin="round"/>
<path d="M1655 763C1669.2 761.5 1725.8 755.5 1740 754" fill="none" stroke="#8ac44c" stroke-width="1.5" stroke-linecap="round" stroke-linejoin="round"/>
</g>
<path d="M1964 325C1964.7 334.5 1970.3 362.8 1968 382C1965.7 401.2 1957.3 413.7 1950 440C1942.7 466.3 1935.3 506.7 1924 540C1912.7 573.3 1894.3 603.8 1882 640C1869.7 676.2 1861.7 714.5 1850 757C1838.3 799.5 1818.3 872 1812 895 L1824 895C1832.8 872 1862 799.5 1877 757C1892 714.5 1901.8 676.2 1914 640C1926.2 603.8 1939 571.7 1950 540C1961 508.3 1971.5 476.3 1980 450C1988.5 423.7 1997.7 402 2001 382C2004.3 362 2000.2 338.7 2000 330Z" fill="#1c4716" opacity="0.6" filter="url(#bl7)"/>
<path d="M1978 345C1977.7 351.2 1978.7 366.2 1976 382C1973.3 397.8 1968.7 413.7 1962 440C1955.3 466.3 1947.3 506.7 1936 540C1924.7 573.3 1906.7 603.8 1894 640C1881.3 676.2 1872.7 714.5 1860 757C1847.3 799.5 1825 872 1818 895 L1824 895C1832.8 872 1862 799.5 1877 757C1892 714.5 1901.8 676.2 1914 640C1926.2 603.8 1939 571.7 1950 540C1961 508.3 1971.5 476.3 1980 450C1988.5 423.7 1997.7 402 2001 382C2004.3 362 2000.2 338.7 2000 330Z" fill="#19410f" opacity="0.7" filter="url(#bl3)"/>
<path d="M2050.6 259.6C2048 264.1 2043.2 266.9 2034.9 287C2026.6 307 2010.1 353.2 2001.1 380C1992 406.9 1988.9 421.7 1980.6 448C1972.2 474.3 1965.5 496 1950.9 537.6C1936.4 579.1 1908.5 654 1893.2 697.3C1877.9 740.5 1870.4 764.7 1859 797.2C1847.6 829.7 1830.5 876.2 1824.8 892.1 L1841.2 897.9C1846.9 882.1 1863.8 835.3 1875 802.8C1886.3 770.3 1893.8 746.1 1908.8 702.7C1923.8 659.3 1951 584.2 1965.1 542.4C1979.2 500.7 1985.5 478.4 1993.4 452C2001.4 425.6 2004.3 410.8 2012.9 384C2021.5 357.1 2037.4 311 2045.1 291C2052.8 271.1 2057 268.9 2059.4 264.4Z" fill="#86b43c" opacity="0.55" filter="url(#bl3)"/>
<path d="M2049.4 260.5C2046.8 265.1 2042 267.7 2033.8 287.7C2025.5 307.7 2009 353.9 2000 380.7C1990.9 407.5 1987.8 422.3 1979.5 448.6C1971.1 474.8 1964.4 496.7 1949.8 538.2C1935.2 579.8 1907.4 654.7 1892.1 697.9C1876.8 741.2 1869.3 765.4 1857.9 797.9C1846.5 830.3 1829.3 876.9 1823.6 892.7 L1836.4 897.3C1842 881.4 1858.9 834.7 1870.1 802.1C1881.4 769.6 1888.9 745.5 1903.9 702.1C1918.9 658.7 1946.1 583.6 1960.2 541.8C1974.3 500 1980.6 477.8 1988.5 451.4C1996.5 425 1999.4 410.2 2008 383.3C2016.7 356.5 2032.5 310.3 2040.2 290.3C2048 270.3 2052.2 267.9 2054.6 263.5Z" fill="url(#midg)"/>
<path d="M2051.9 261.5C2049.3 266 2044.7 268.5 2036.7 288.5C2028.6 308.6 2012.3 354.7 2003.4 381.5C1994.5 408.4 1991.4 423.2 1983.2 449.5C1975 475.8 1968.4 497.7 1954 539.4C1939.6 581 1912 656 1896.7 699.3C1881.5 742.6 1874 766.8 1862.7 799.3C1851.3 831.7 1834.3 878.4 1828.6 894.2 L1833 895.8C1838.7 880 1855.6 833.3 1866.9 800.7C1878.3 768.2 1885.8 744.1 1900.9 700.7C1916 657.4 1943.4 582.3 1957.6 540.6C1971.9 498.9 1978.3 476.9 1986.4 450.5C1994.5 424.1 1997.5 409.3 2006.2 382.5C2015 355.6 2031 309.4 2038.9 289.5C2046.9 269.5 2051.3 267 2053.7 262.5Z" fill="#c4dc48" opacity="0.35"/>
</g>
<!--/LEAF-->
<!--CARD-->
<g id="cardcontent">
<!-- contactless -->
<g fill="none" stroke="#fff" stroke-width="4.6" stroke-linecap="round">
  <path d="M1663.3,346.8 A10.3,10.3 0 0 1 1663.3,362.3"/>
  <path d="M1672.3,341.8 A19.7,19.7 0 0 1 1672.3,366.6"/>
  <path d="M1681.3,336.6 A27.7,27.7 0 0 1 1681.3,370.8"/>
  <path d="M1690.3,331.8 A44,44 0 0 1 1690.3,376.6"/>
</g>
<!-- chip module -->
<rect x="1828" y="307" width="130.5" height="96" rx="11" fill="#6a3c30"/>
<rect x="1829" y="308" width="128.5" height="94" rx="10" fill="#bea49b"/>
<g fill="none" stroke="#957368" stroke-width="0.9">
  <rect x="1830.8" y="309.8" width="124.9" height="90.4" rx="8.5"/>
  <rect x="1833" y="312" width="120.5" height="86" rx="7"/>
</g>
<rect x="1831.9" y="310.9" width="122.7" height="88.2" rx="7.8" fill="none" stroke="#d6c6c0" stroke-width="0.9"/>
<rect x="1836.4" y="315.3" width="115.2" height="79" rx="4" fill="#6a2c18"/>
<g fill="#dad6d4">
  <rect x="1840" y="317.7" width="15.7" height="18"/>
  <rect x="1859" y="317.7" width="16.5" height="18"/>
  <rect x="1879" y="317.7" width="15" height="18"/>
  <rect x="1840" y="373.6" width="15.7" height="18.6"/>
  <rect x="1859" y="373.6" width="16.5" height="18.6"/>
  <rect x="1879" y="373.6" width="15" height="18.6"/>
  <path d="M1868,341 C1877,341 1883,345 1883,354 C1883,360 1880,364 1877,366 L1880,372 L1875,373 L1872,368 C1870,368 1869,368 1868,368 C1858,368 1852,362 1852,354 C1852,346 1858,341 1868,341 Z"/>
  <path d="M1897,317.6 H1948 V389.6 H1898 C1899,380 1897,370 1894,364 C1896,358 1897,350 1894,345 C1897,338 1898,328 1897,317.6 Z"/>
</g>
<g stroke="#6a2c18" stroke-width="3.8" fill="none" stroke-linecap="round">
  <path d="M1898.5,347.3 L1911.2,318 M1910.3,347.3 L1923,318 M1921.3,347.3 L1934,318 M1932.3,347.3 L1945,318 M1943,348 L1949,336"/>
  <path d="M1898.5,360.8 L1912,388.7 M1910.3,360.8 L1923.8,388.7 M1921.3,360.8 L1934.8,388.7 M1932.3,360.8 L1945.8,388.7"/>
</g>
<path d="M1907.8,354.5 H1948" stroke="#6a2c18" stroke-width="3"/>
<path d="M1836,332 q4,2.5 3,5 q-3,2.5 1,5 q4,2.5 0,5 q-3,2.5 1,5 q4,2.5 0,5 q-3,2.5 1,5 q4,2.5 0,5 q-3,2.5 0,5 L1834,378 L1834,332Z" fill="#cdbcb5" opacity="0.9"/>
<!-- leader lines on card -->
<g fill="none" stroke-linejoin="miter">
  <g clip-path="url(#cardclip)"><path d="M1597,241.5 V285.5 H1868.5 V354" stroke="#d8d8d8" stroke-width="4.2"/>
  <path d="M1947.5,241.5 V311" stroke="#d8d8d8" stroke-width="4.2"/></g>
  <path d="M1565,116.5 H1597 V285.5 H1868.5 V354" stroke="#3a3a3a" stroke-width="1.7"/>
  <path d="M1925.5,116.5 H1947.5 V311" stroke="#3a3a3a" stroke-width="1.7"/>
</g>
<circle cx="1868.5" cy="354" r="5.2" fill="#e6e6e6"/>
<circle cx="1868.5" cy="354" r="4.2" fill="#111"/>
<circle cx="1947.5" cy="311" r="5.2" fill="#e6e6e6"/>
<circle cx="1947.5" cy="311" r="4.2" fill="#111"/>
<!-- card text -->
<g fill="#fff" font-family="Liberation Sans, sans-serif">
  <text x="1662.5" y="532" font-size="35" textLength="72" lengthAdjust="spacingAndGlyphs">5412</text>
  <text x="1755.3" y="532" font-size="35" textLength="70" lengthAdjust="spacingAndGlyphs">7512</text>
  <text x="1843.7" y="532" font-size="35" textLength="73" lengthAdjust="spacingAndGlyphs">3412</text>
  <text x="1934.6" y="532" font-size="35" textLength="76" lengthAdjust="spacingAndGlyphs">3456</text>
  <text x="1664.2" y="567" font-size="10.2" font-weight="bold" textLength="51" lengthAdjust="spacingAndGlyphs">VALID THRU</text>
  <text x="1721.8" y="586" font-size="33" textLength="84" lengthAdjust="spacingAndGlyphs">00/00</text>
  <text x="1663.5" y="628" font-size="30.5" textLength="157" lengthAdjust="spacingAndGlyphs">KATE SMITH</text>
</g>
<!-- infineon logo -->
<g fill="#fff">
  <path d="M1742,789.5 C1700,791 1662,803 1662,823 C1662,846 1710,856 1745,856 C1778,856 1804,846 1814,833 C1798,845 1775,850 1745,850 C1705,850 1670,840 1670,823 C1670,806 1700,793 1742,789.5 Z"/>
  <circle cx="1686" cy="801" r="4.4"/>
  <circle cx="1726" cy="806.5" r="3.1"/>
</g>
<circle cx="1686" cy="801" r="5.4" fill="none" stroke="#2f6a25" stroke-width="1.2"/>
<g fill="none" stroke="#fff" stroke-width="4.5">
  <path d="M1686.3,808 V833.8"/>
  <path d="M1695.1,833.8 V811.5 M1695.1,818.5 Q1696.5,812.3 1700.2,812.3 Q1704,812.3 1704,818 V833.8"/>
  <path d="M1714.3,833.8 V810 C1714.3,806.5 1716,805.5 1719.8,805.5"/>
  <path d="M1710.6,813.8 H1721"/>
  <path d="M1725.7,833.8 V812"/>
  <path d="M1735.1,833.8 V811.5 M1735.1,818.5 Q1736.5,812.3 1740,812.3 Q1743.6,812.3 1743.6,818 V833.8"/>
  <path d="M1762,829.5 C1760.5,831.5 1759,831.5 1757.5,831.5 C1754,831.5 1752.8,828 1752.8,823 C1752.8,818 1754,814.3 1757.2,814.3 C1760.5,814.3 1761.6,818 1761.6,822.5 H1753"/>
  <ellipse cx="1774" cy="823" rx="4.6" ry="8.6"/>
  <path d="M1787.7,833.8 V811.5 M1787.7,818.5 Q1789,812.3 1792.2,812.3 Q1795.7,812.3 1795.7,818 V833.8"/>
</g>
</g>
<!--/CARD-->
</svg>

<!--TEXT-->
<div class="t" style="left:150.60px;top:172px;letter-spacing:0.065px">Security controller &amp;</div>
<div class="t" style="left:190.80px;top:210.5px;letter-spacing:0.200px">certified software</div>
<div class="t" style="left:622.60px;top:172px;letter-spacing:0.560px">Module</div>
<div class="t" style="left:446.00px;top:862px;letter-spacing:-0.143px">Antenna sheet / Antenna inlay</div>
<div class="t" style="left:445.00px;top:900.5px;letter-spacing:-0.312px">for DIF cards (copper wire)</div>
<div class="t" style="left:1278.00px;top:100px;letter-spacing:0.125px">Security controller &amp;</div>
<div class="t" style="left:1320.00px;top:138.5px;letter-spacing:0.206px">certified software</div>
<div class="t" style="left:1660.00px;top:100px;letter-spacing:-0.382px">ECoM (eco-friendly</div>
<div class="t" style="left:1702.40px;top:138.5px;letter-spacing:0.086px">Coil-on-Module)</div>
<div class="t" style="left:1677.00px;top:177px;letter-spacing:0.250px">including antenna</div>
<!--/TEXT-->
</body></html>
